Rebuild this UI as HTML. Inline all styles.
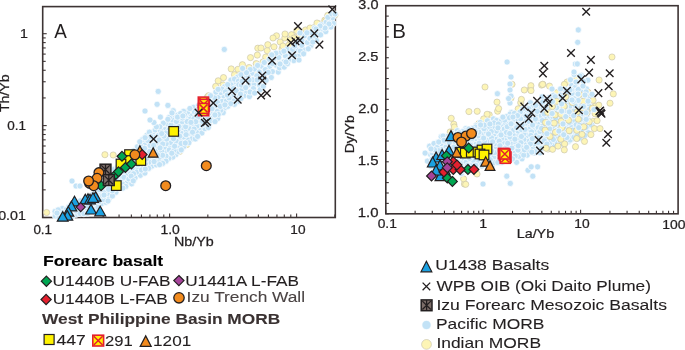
<!DOCTYPE html>
<html><head><meta charset="utf-8"><style>
html,body{margin:0;padding:0;background:#fff;overflow:hidden;width:685px;height:350px}
svg{display:block;will-change:transform}
text{font-family:"Liberation Sans", sans-serif}
</style></head><body>
<svg width="685" height="350" viewBox="0 0 685 350">
<rect x="42.70" y="6.60" width="292.60" height="210.90" fill="none" stroke="#3d3434" stroke-width="1.6"/>
<rect x="385.80" y="5.70" width="292.30" height="208.10" fill="none" stroke="#3d3434" stroke-width="1.6"/>
<line x1="42.70" y1="217.50" x2="46.70" y2="217.50" stroke="#3d3434" stroke-width="1.1"/>
<line x1="42.70" y1="189.84" x2="45.70" y2="189.84" stroke="#3d3434" stroke-width="1.1"/>
<line x1="42.70" y1="173.65" x2="45.70" y2="173.65" stroke="#3d3434" stroke-width="1.1"/>
<line x1="42.70" y1="162.17" x2="45.70" y2="162.17" stroke="#3d3434" stroke-width="1.1"/>
<line x1="42.70" y1="153.26" x2="45.70" y2="153.26" stroke="#3d3434" stroke-width="1.1"/>
<line x1="42.70" y1="145.99" x2="45.70" y2="145.99" stroke="#3d3434" stroke-width="1.1"/>
<line x1="42.70" y1="139.84" x2="45.70" y2="139.84" stroke="#3d3434" stroke-width="1.1"/>
<line x1="42.70" y1="134.51" x2="45.70" y2="134.51" stroke="#3d3434" stroke-width="1.1"/>
<line x1="42.70" y1="129.81" x2="45.70" y2="129.81" stroke="#3d3434" stroke-width="1.1"/>
<line x1="42.70" y1="125.60" x2="46.70" y2="125.60" stroke="#3d3434" stroke-width="1.1"/>
<line x1="42.70" y1="97.94" x2="45.70" y2="97.94" stroke="#3d3434" stroke-width="1.1"/>
<line x1="42.70" y1="81.75" x2="45.70" y2="81.75" stroke="#3d3434" stroke-width="1.1"/>
<line x1="42.70" y1="70.27" x2="45.70" y2="70.27" stroke="#3d3434" stroke-width="1.1"/>
<line x1="42.70" y1="61.36" x2="45.70" y2="61.36" stroke="#3d3434" stroke-width="1.1"/>
<line x1="42.70" y1="54.09" x2="45.70" y2="54.09" stroke="#3d3434" stroke-width="1.1"/>
<line x1="42.70" y1="47.94" x2="45.70" y2="47.94" stroke="#3d3434" stroke-width="1.1"/>
<line x1="42.70" y1="42.61" x2="45.70" y2="42.61" stroke="#3d3434" stroke-width="1.1"/>
<line x1="42.70" y1="37.91" x2="45.70" y2="37.91" stroke="#3d3434" stroke-width="1.1"/>
<line x1="42.70" y1="33.70" x2="46.70" y2="33.70" stroke="#3d3434" stroke-width="1.1"/>
<line x1="42.60" y1="217.50" x2="42.60" y2="213.50" stroke="#3d3434" stroke-width="1.1"/>
<line x1="80.83" y1="217.50" x2="80.83" y2="214.50" stroke="#3d3434" stroke-width="1.1"/>
<line x1="103.19" y1="217.50" x2="103.19" y2="214.50" stroke="#3d3434" stroke-width="1.1"/>
<line x1="119.06" y1="217.50" x2="119.06" y2="214.50" stroke="#3d3434" stroke-width="1.1"/>
<line x1="131.37" y1="217.50" x2="131.37" y2="214.50" stroke="#3d3434" stroke-width="1.1"/>
<line x1="141.43" y1="217.50" x2="141.43" y2="214.50" stroke="#3d3434" stroke-width="1.1"/>
<line x1="149.93" y1="217.50" x2="149.93" y2="214.50" stroke="#3d3434" stroke-width="1.1"/>
<line x1="157.29" y1="217.50" x2="157.29" y2="214.50" stroke="#3d3434" stroke-width="1.1"/>
<line x1="163.79" y1="217.50" x2="163.79" y2="214.50" stroke="#3d3434" stroke-width="1.1"/>
<line x1="169.60" y1="217.50" x2="169.60" y2="213.50" stroke="#3d3434" stroke-width="1.1"/>
<line x1="207.83" y1="217.50" x2="207.83" y2="214.50" stroke="#3d3434" stroke-width="1.1"/>
<line x1="230.19" y1="217.50" x2="230.19" y2="214.50" stroke="#3d3434" stroke-width="1.1"/>
<line x1="246.06" y1="217.50" x2="246.06" y2="214.50" stroke="#3d3434" stroke-width="1.1"/>
<line x1="258.37" y1="217.50" x2="258.37" y2="214.50" stroke="#3d3434" stroke-width="1.1"/>
<line x1="268.43" y1="217.50" x2="268.43" y2="214.50" stroke="#3d3434" stroke-width="1.1"/>
<line x1="276.93" y1="217.50" x2="276.93" y2="214.50" stroke="#3d3434" stroke-width="1.1"/>
<line x1="284.29" y1="217.50" x2="284.29" y2="214.50" stroke="#3d3434" stroke-width="1.1"/>
<line x1="290.79" y1="217.50" x2="290.79" y2="214.50" stroke="#3d3434" stroke-width="1.1"/>
<line x1="296.60" y1="217.50" x2="296.60" y2="213.50" stroke="#3d3434" stroke-width="1.1"/>
<line x1="334.83" y1="217.50" x2="334.83" y2="214.50" stroke="#3d3434" stroke-width="1.1"/>
<line x1="385.80" y1="213.80" x2="388.80" y2="213.80" stroke="#3d3434" stroke-width="1.1"/>
<line x1="385.80" y1="203.40" x2="388.80" y2="203.40" stroke="#3d3434" stroke-width="1.1"/>
<line x1="385.80" y1="192.99" x2="388.80" y2="192.99" stroke="#3d3434" stroke-width="1.1"/>
<line x1="385.80" y1="182.59" x2="388.80" y2="182.59" stroke="#3d3434" stroke-width="1.1"/>
<line x1="385.80" y1="172.18" x2="388.80" y2="172.18" stroke="#3d3434" stroke-width="1.1"/>
<line x1="385.80" y1="161.78" x2="388.80" y2="161.78" stroke="#3d3434" stroke-width="1.1"/>
<line x1="385.80" y1="151.37" x2="388.80" y2="151.37" stroke="#3d3434" stroke-width="1.1"/>
<line x1="385.80" y1="140.96" x2="388.80" y2="140.96" stroke="#3d3434" stroke-width="1.1"/>
<line x1="385.80" y1="130.56" x2="388.80" y2="130.56" stroke="#3d3434" stroke-width="1.1"/>
<line x1="385.80" y1="120.16" x2="388.80" y2="120.16" stroke="#3d3434" stroke-width="1.1"/>
<line x1="385.80" y1="109.75" x2="388.80" y2="109.75" stroke="#3d3434" stroke-width="1.1"/>
<line x1="385.80" y1="99.34" x2="388.80" y2="99.34" stroke="#3d3434" stroke-width="1.1"/>
<line x1="385.80" y1="88.94" x2="388.80" y2="88.94" stroke="#3d3434" stroke-width="1.1"/>
<line x1="385.80" y1="78.54" x2="388.80" y2="78.54" stroke="#3d3434" stroke-width="1.1"/>
<line x1="385.80" y1="68.13" x2="388.80" y2="68.13" stroke="#3d3434" stroke-width="1.1"/>
<line x1="385.80" y1="57.73" x2="388.80" y2="57.73" stroke="#3d3434" stroke-width="1.1"/>
<line x1="385.80" y1="47.32" x2="388.80" y2="47.32" stroke="#3d3434" stroke-width="1.1"/>
<line x1="385.80" y1="36.91" x2="388.80" y2="36.91" stroke="#3d3434" stroke-width="1.1"/>
<line x1="385.80" y1="26.51" x2="388.80" y2="26.51" stroke="#3d3434" stroke-width="1.1"/>
<line x1="385.80" y1="16.10" x2="388.80" y2="16.10" stroke="#3d3434" stroke-width="1.1"/>
<line x1="385.80" y1="5.70" x2="388.80" y2="5.70" stroke="#3d3434" stroke-width="1.1"/>
<line x1="385.80" y1="213.80" x2="385.80" y2="209.80" stroke="#3d3434" stroke-width="1.1"/>
<line x1="415.12" y1="213.80" x2="415.12" y2="210.80" stroke="#3d3434" stroke-width="1.1"/>
<line x1="432.27" y1="213.80" x2="432.27" y2="210.80" stroke="#3d3434" stroke-width="1.1"/>
<line x1="444.44" y1="213.80" x2="444.44" y2="210.80" stroke="#3d3434" stroke-width="1.1"/>
<line x1="453.88" y1="213.80" x2="453.88" y2="210.80" stroke="#3d3434" stroke-width="1.1"/>
<line x1="461.59" y1="213.80" x2="461.59" y2="210.80" stroke="#3d3434" stroke-width="1.1"/>
<line x1="468.11" y1="213.80" x2="468.11" y2="210.80" stroke="#3d3434" stroke-width="1.1"/>
<line x1="473.76" y1="213.80" x2="473.76" y2="210.80" stroke="#3d3434" stroke-width="1.1"/>
<line x1="478.74" y1="213.80" x2="478.74" y2="210.80" stroke="#3d3434" stroke-width="1.1"/>
<line x1="483.20" y1="213.80" x2="483.20" y2="209.80" stroke="#3d3434" stroke-width="1.1"/>
<line x1="512.52" y1="213.80" x2="512.52" y2="210.80" stroke="#3d3434" stroke-width="1.1"/>
<line x1="529.67" y1="213.80" x2="529.67" y2="210.80" stroke="#3d3434" stroke-width="1.1"/>
<line x1="541.84" y1="213.80" x2="541.84" y2="210.80" stroke="#3d3434" stroke-width="1.1"/>
<line x1="551.28" y1="213.80" x2="551.28" y2="210.80" stroke="#3d3434" stroke-width="1.1"/>
<line x1="558.99" y1="213.80" x2="558.99" y2="210.80" stroke="#3d3434" stroke-width="1.1"/>
<line x1="565.51" y1="213.80" x2="565.51" y2="210.80" stroke="#3d3434" stroke-width="1.1"/>
<line x1="571.16" y1="213.80" x2="571.16" y2="210.80" stroke="#3d3434" stroke-width="1.1"/>
<line x1="576.14" y1="213.80" x2="576.14" y2="210.80" stroke="#3d3434" stroke-width="1.1"/>
<line x1="580.60" y1="213.80" x2="580.60" y2="209.80" stroke="#3d3434" stroke-width="1.1"/>
<line x1="609.92" y1="213.80" x2="609.92" y2="210.80" stroke="#3d3434" stroke-width="1.1"/>
<line x1="627.07" y1="213.80" x2="627.07" y2="210.80" stroke="#3d3434" stroke-width="1.1"/>
<line x1="639.24" y1="213.80" x2="639.24" y2="210.80" stroke="#3d3434" stroke-width="1.1"/>
<line x1="648.68" y1="213.80" x2="648.68" y2="210.80" stroke="#3d3434" stroke-width="1.1"/>
<line x1="656.39" y1="213.80" x2="656.39" y2="210.80" stroke="#3d3434" stroke-width="1.1"/>
<line x1="662.91" y1="213.80" x2="662.91" y2="210.80" stroke="#3d3434" stroke-width="1.1"/>
<line x1="668.56" y1="213.80" x2="668.56" y2="210.80" stroke="#3d3434" stroke-width="1.1"/>
<line x1="673.54" y1="213.80" x2="673.54" y2="210.80" stroke="#3d3434" stroke-width="1.1"/>
<text transform="translate(19.96,37.50) scale(1.1000,1)" font-size="12.9" font-weight="normal" fill="#231f20" stroke="#231f20" stroke-width="0.25">1</text>
<text transform="translate(7.22,129.80) scale(1.0447,1)" font-size="12.9" font-weight="normal" fill="#231f20" stroke="#231f20" stroke-width="0.25">0.1</text>
<text transform="translate(-1.82,219.80) scale(1.1000,1)" font-size="12.9" font-weight="normal" fill="#231f20" stroke="#231f20" stroke-width="0.25">0.01</text>
<text transform="translate(33.38,233.90) scale(1.0417,1)" font-size="12.9" font-weight="normal" fill="#231f20" stroke="#231f20" stroke-width="0.25">0.1</text>
<text transform="translate(160.44,233.60) scale(1.0823,1)" font-size="12.9" font-weight="normal" fill="#231f20" stroke="#231f20" stroke-width="0.25">1.0</text>
<text transform="translate(290.36,233.80) scale(1.0574,1)" font-size="12.9" font-weight="normal" fill="#231f20" stroke="#231f20" stroke-width="0.25">10</text>
<text transform="translate(173.93,245.90) scale(1.1358,1)" font-size="12.6" font-weight="normal" fill="#231f20" stroke="#231f20" stroke-width="0.25">Nb/Yb</text>
<text transform="translate(9.30,112.12) rotate(-90) scale(1.1188,1)" font-size="12.6" fill="#231f20" stroke="#231f20" stroke-width="0.25">Th/Yb</text>
<text transform="translate(54.36,38.10) scale(0.9332,1)" font-size="20.2" font-weight="normal" fill="#231f20">A</text>
<text transform="translate(357.76,217.20) scale(1.1553,1)" font-size="12.9" font-weight="normal" fill="#231f20" stroke="#231f20" stroke-width="0.25">1.0</text>
<text transform="translate(357.76,165.18) scale(1.1579,1)" font-size="12.9" font-weight="normal" fill="#231f20" stroke="#231f20" stroke-width="0.25">1.5</text>
<text transform="translate(358.17,113.15) scale(1.1323,1)" font-size="12.9" font-weight="normal" fill="#231f20" stroke="#231f20" stroke-width="0.25">2.0</text>
<text transform="translate(358.16,61.13) scale(1.1349,1)" font-size="12.9" font-weight="normal" fill="#231f20" stroke="#231f20" stroke-width="0.25">2.5</text>
<text transform="translate(358.35,9.10) scale(1.1218,1)" font-size="12.9" font-weight="normal" fill="#231f20" stroke="#231f20" stroke-width="0.25">3.0</text>
<text transform="translate(377.66,228.00) scale(1.0715,1)" font-size="12.9" font-weight="normal" fill="#231f20" stroke="#231f20" stroke-width="0.25">0.1</text>
<text transform="translate(479.16,228.30) scale(1.1000,1)" font-size="12.9" font-weight="normal" fill="#231f20" stroke="#231f20" stroke-width="0.25">1</text>
<text transform="translate(574.25,228.40) scale(1.0729,1)" font-size="12.9" font-weight="normal" fill="#231f20" stroke="#231f20" stroke-width="0.25">10</text>
<text transform="translate(662.24,228.70) scale(1.0830,1)" font-size="12.9" font-weight="normal" fill="#231f20" stroke="#231f20" stroke-width="0.25">100</text>
<text transform="translate(516.73,237.90) scale(1.1350,1)" font-size="12.6" font-weight="normal" fill="#231f20" stroke="#231f20" stroke-width="0.25">La/Yb</text>
<text transform="translate(353.50,153.25) rotate(-90) scale(1.1115,1)" font-size="12.6" fill="#231f20" stroke="#231f20" stroke-width="0.25">Dy/Yb</text>
<text transform="translate(392.32,37.70) scale(1.0139,1)" font-size="20.2" font-weight="normal" fill="#231f20">B</text>
<circle cx="267.2" cy="50.6" r="3.1" fill="#fdf5b6" stroke="#c4c0aa" stroke-width="0.6"/>
<circle cx="324.8" cy="20.2" r="3.1" fill="#fdf5b6" stroke="#c4c0aa" stroke-width="0.6"/>
<circle cx="274.0" cy="46.8" r="3.1" fill="#fdf5b6" stroke="#c4c0aa" stroke-width="0.6"/>
<circle cx="234.5" cy="74.7" r="3.1" fill="#fdf5b6" stroke="#c4c0aa" stroke-width="0.6"/>
<circle cx="288.8" cy="45.1" r="3.1" fill="#fdf5b6" stroke="#c4c0aa" stroke-width="0.6"/>
<circle cx="223.5" cy="77.6" r="3.1" fill="#fdf5b6" stroke="#c4c0aa" stroke-width="0.6"/>
<circle cx="223.1" cy="84.9" r="3.1" fill="#fdf5b6" stroke="#c4c0aa" stroke-width="0.6"/>
<circle cx="296.6" cy="30.6" r="3.1" fill="#fdf5b6" stroke="#c4c0aa" stroke-width="0.6"/>
<circle cx="331.8" cy="20.8" r="3.1" fill="#fdf5b6" stroke="#c4c0aa" stroke-width="0.6"/>
<circle cx="231.2" cy="68.9" r="3.1" fill="#fdf5b6" stroke="#c4c0aa" stroke-width="0.6"/>
<circle cx="276.5" cy="35.8" r="3.1" fill="#fdf5b6" stroke="#c4c0aa" stroke-width="0.6"/>
<circle cx="215.7" cy="86.4" r="3.1" fill="#fdf5b6" stroke="#c4c0aa" stroke-width="0.6"/>
<circle cx="265.7" cy="57.1" r="3.1" fill="#fdf5b6" stroke="#c4c0aa" stroke-width="0.6"/>
<circle cx="267.8" cy="44.7" r="3.1" fill="#fdf5b6" stroke="#c4c0aa" stroke-width="0.6"/>
<circle cx="314.5" cy="27.4" r="3.1" fill="#fdf5b6" stroke="#c4c0aa" stroke-width="0.6"/>
<circle cx="250.5" cy="57.6" r="3.1" fill="#fdf5b6" stroke="#c4c0aa" stroke-width="0.6"/>
<circle cx="305.5" cy="30.0" r="3.1" fill="#fdf5b6" stroke="#c4c0aa" stroke-width="0.6"/>
<circle cx="280.2" cy="42.0" r="3.1" fill="#fdf5b6" stroke="#c4c0aa" stroke-width="0.6"/>
<circle cx="238.0" cy="69.3" r="3.1" fill="#fdf5b6" stroke="#c4c0aa" stroke-width="0.6"/>
<circle cx="249.1" cy="67.5" r="3.1" fill="#fdf5b6" stroke="#c4c0aa" stroke-width="0.6"/>
<circle cx="257.3" cy="55.1" r="3.1" fill="#fdf5b6" stroke="#c4c0aa" stroke-width="0.6"/>
<circle cx="282.1" cy="48.8" r="3.1" fill="#fdf5b6" stroke="#c4c0aa" stroke-width="0.6"/>
<circle cx="242.4" cy="64.7" r="3.1" fill="#fdf5b6" stroke="#c4c0aa" stroke-width="0.6"/>
<circle cx="302.2" cy="37.6" r="3.1" fill="#fdf5b6" stroke="#c4c0aa" stroke-width="0.6"/>
<circle cx="236.0" cy="80.8" r="3.1" fill="#fdf5b6" stroke="#c4c0aa" stroke-width="0.6"/>
<circle cx="319.6" cy="24.0" r="3.1" fill="#fdf5b6" stroke="#c4c0aa" stroke-width="0.6"/>
<circle cx="216.7" cy="91.9" r="3.1" fill="#fdf5b6" stroke="#c4c0aa" stroke-width="0.6"/>
<circle cx="241.1" cy="74.1" r="3.1" fill="#fdf5b6" stroke="#c4c0aa" stroke-width="0.6"/>
<circle cx="284.8" cy="38.0" r="3.1" fill="#fdf5b6" stroke="#c4c0aa" stroke-width="0.6"/>
<circle cx="256.2" cy="63.6" r="3.1" fill="#fdf5b6" stroke="#c4c0aa" stroke-width="0.6"/>
<circle cx="296.3" cy="37.6" r="3.1" fill="#fdf5b6" stroke="#c4c0aa" stroke-width="0.6"/>
<circle cx="291.5" cy="34.7" r="3.1" fill="#fdf5b6" stroke="#c4c0aa" stroke-width="0.6"/>
<circle cx="327.8" cy="15.3" r="3.1" fill="#fdf5b6" stroke="#c4c0aa" stroke-width="0.6"/>
<circle cx="218.2" cy="80.8" r="3.1" fill="#fdf5b6" stroke="#c4c0aa" stroke-width="0.6"/>
<circle cx="257.8" cy="48.2" r="3.1" fill="#fdf5b6" stroke="#c4c0aa" stroke-width="0.6"/>
<circle cx="147.0" cy="136.0" r="3.1" fill="#fdf5b6" stroke="#c4c0aa" stroke-width="0.6"/>
<circle cx="184.0" cy="113.7" r="3.1" fill="#fdf5b6" stroke="#c4c0aa" stroke-width="0.6"/>
<circle cx="186.8" cy="144.5" r="3.1" fill="#fdf5b6" stroke="#c4c0aa" stroke-width="0.6"/>
<circle cx="207.4" cy="97.0" r="3.1" fill="#fdf5b6" stroke="#c4c0aa" stroke-width="0.6"/>
<circle cx="46.6" cy="212.5" r="3.1" fill="#fdf5b6" stroke="#c4c0aa" stroke-width="0.6"/>
<circle cx="104.9" cy="154.7" r="3.1" fill="#fdf5b6" stroke="#c4c0aa" stroke-width="0.6"/>
<circle cx="113.2" cy="155.0" r="3.1" fill="#fdf5b6" stroke="#c4c0aa" stroke-width="0.6"/>
<circle cx="188.2" cy="111.8" r="3.1" fill="#fdf5b6" stroke="#c4c0aa" stroke-width="0.6"/>
<circle cx="208.6" cy="95.7" r="3.1" fill="#fdf5b6" stroke="#c4c0aa" stroke-width="0.6"/>
<circle cx="148.6" cy="136.4" r="3.1" fill="#fdf5b6" stroke="#c4c0aa" stroke-width="0.6"/>
<circle cx="179.6" cy="151.4" r="3.1" fill="#fdf5b6" stroke="#c4c0aa" stroke-width="0.6"/>
<circle cx="261.0" cy="48.0" r="3.1" fill="#fdf5b6" stroke="#c4c0aa" stroke-width="0.6"/>
<circle cx="263.0" cy="62.0" r="3.1" fill="#fdf5b6" stroke="#c4c0aa" stroke-width="0.6"/>
<circle cx="256.0" cy="71.0" r="3.1" fill="#fdf5b6" stroke="#c4c0aa" stroke-width="0.6"/>
<circle cx="285.0" cy="34.0" r="3.1" fill="#fdf5b6" stroke="#c4c0aa" stroke-width="0.6"/>
<circle cx="273.0" cy="38.0" r="3.1" fill="#fdf5b6" stroke="#c4c0aa" stroke-width="0.6"/>
<circle cx="335.0" cy="15.0" r="3.1" fill="#fdf5b6" stroke="#c4c0aa" stroke-width="0.6"/>
<circle cx="331.0" cy="19.0" r="3.1" fill="#fdf5b6" stroke="#c4c0aa" stroke-width="0.6"/>
<circle cx="326.0" cy="21.0" r="3.1" fill="#fdf5b6" stroke="#c4c0aa" stroke-width="0.6"/>
<circle cx="317.0" cy="23.0" r="3.1" fill="#fdf5b6" stroke="#c4c0aa" stroke-width="0.6"/>
<circle cx="310.0" cy="28.0" r="3.1" fill="#fdf5b6" stroke="#c4c0aa" stroke-width="0.6"/>
<circle cx="306.0" cy="33.0" r="3.1" fill="#fdf5b6" stroke="#c4c0aa" stroke-width="0.6"/>
<circle cx="294.0" cy="38.0" r="3.1" fill="#fdf5b6" stroke="#c4c0aa" stroke-width="0.6"/>
<circle cx="290.0" cy="40.0" r="3.1" fill="#fdf5b6" stroke="#c4c0aa" stroke-width="0.6"/>
<circle cx="283.0" cy="46.0" r="3.1" fill="#fdf5b6" stroke="#c4c0aa" stroke-width="0.6"/>
<circle cx="101.4" cy="203.8" r="3.1" fill="#c2e2f6" stroke="#fff" stroke-width="0.7"/>
<circle cx="156.8" cy="146.4" r="3.1" fill="#c2e2f6" stroke="#fff" stroke-width="0.7"/>
<circle cx="233.9" cy="93.7" r="3.1" fill="#c2e2f6" stroke="#fff" stroke-width="0.7"/>
<circle cx="239.1" cy="92.7" r="3.1" fill="#c2e2f6" stroke="#fff" stroke-width="0.7"/>
<circle cx="204.8" cy="101.0" r="3.1" fill="#c2e2f6" stroke="#fff" stroke-width="0.7"/>
<circle cx="165.5" cy="151.9" r="3.1" fill="#c2e2f6" stroke="#fff" stroke-width="0.7"/>
<circle cx="63.3" cy="216.3" r="3.1" fill="#c2e2f6" stroke="#fff" stroke-width="0.7"/>
<circle cx="84.6" cy="205.8" r="3.1" fill="#c2e2f6" stroke="#fff" stroke-width="0.7"/>
<circle cx="168.1" cy="120.5" r="3.1" fill="#c2e2f6" stroke="#fff" stroke-width="0.7"/>
<circle cx="229.9" cy="92.3" r="3.1" fill="#c2e2f6" stroke="#fff" stroke-width="0.7"/>
<circle cx="152.5" cy="152.5" r="3.1" fill="#c2e2f6" stroke="#fff" stroke-width="0.7"/>
<circle cx="122.6" cy="167.0" r="3.1" fill="#c2e2f6" stroke="#fff" stroke-width="0.7"/>
<circle cx="176.2" cy="136.9" r="3.1" fill="#c2e2f6" stroke="#fff" stroke-width="0.7"/>
<circle cx="107.5" cy="194.1" r="3.1" fill="#c2e2f6" stroke="#fff" stroke-width="0.7"/>
<circle cx="109.8" cy="173.8" r="3.1" fill="#c2e2f6" stroke="#fff" stroke-width="0.7"/>
<circle cx="100.3" cy="186.5" r="3.1" fill="#c2e2f6" stroke="#fff" stroke-width="0.7"/>
<circle cx="84.0" cy="210.4" r="3.1" fill="#c2e2f6" stroke="#fff" stroke-width="0.7"/>
<circle cx="127.1" cy="182.9" r="3.1" fill="#c2e2f6" stroke="#fff" stroke-width="0.7"/>
<circle cx="193.4" cy="107.4" r="3.1" fill="#c2e2f6" stroke="#fff" stroke-width="0.7"/>
<circle cx="237.9" cy="101.5" r="3.1" fill="#c2e2f6" stroke="#fff" stroke-width="0.7"/>
<circle cx="68.6" cy="215.9" r="3.1" fill="#c2e2f6" stroke="#fff" stroke-width="0.7"/>
<circle cx="134.5" cy="163.8" r="3.1" fill="#c2e2f6" stroke="#fff" stroke-width="0.7"/>
<circle cx="235.0" cy="84.2" r="3.1" fill="#c2e2f6" stroke="#fff" stroke-width="0.7"/>
<circle cx="151.8" cy="166.2" r="3.1" fill="#c2e2f6" stroke="#fff" stroke-width="0.7"/>
<circle cx="188.7" cy="125.2" r="3.1" fill="#c2e2f6" stroke="#fff" stroke-width="0.7"/>
<circle cx="166.7" cy="123.9" r="3.1" fill="#c2e2f6" stroke="#fff" stroke-width="0.7"/>
<circle cx="170.5" cy="136.1" r="3.1" fill="#c2e2f6" stroke="#fff" stroke-width="0.7"/>
<circle cx="92.7" cy="194.3" r="3.1" fill="#c2e2f6" stroke="#fff" stroke-width="0.7"/>
<circle cx="152.7" cy="133.7" r="3.1" fill="#c2e2f6" stroke="#fff" stroke-width="0.7"/>
<circle cx="136.9" cy="168.0" r="3.1" fill="#c2e2f6" stroke="#fff" stroke-width="0.7"/>
<circle cx="139.3" cy="151.3" r="3.1" fill="#c2e2f6" stroke="#fff" stroke-width="0.7"/>
<circle cx="162.7" cy="139.2" r="3.1" fill="#c2e2f6" stroke="#fff" stroke-width="0.7"/>
<circle cx="198.9" cy="120.5" r="3.1" fill="#c2e2f6" stroke="#fff" stroke-width="0.7"/>
<circle cx="190.8" cy="115.5" r="3.1" fill="#c2e2f6" stroke="#fff" stroke-width="0.7"/>
<circle cx="76.1" cy="214.3" r="3.1" fill="#c2e2f6" stroke="#fff" stroke-width="0.7"/>
<circle cx="181.7" cy="133.4" r="3.1" fill="#c2e2f6" stroke="#fff" stroke-width="0.7"/>
<circle cx="164.5" cy="147.2" r="3.1" fill="#c2e2f6" stroke="#fff" stroke-width="0.7"/>
<circle cx="194.4" cy="111.9" r="3.1" fill="#c2e2f6" stroke="#fff" stroke-width="0.7"/>
<circle cx="224.4" cy="108.3" r="3.1" fill="#c2e2f6" stroke="#fff" stroke-width="0.7"/>
<circle cx="62.3" cy="208.6" r="3.1" fill="#c2e2f6" stroke="#fff" stroke-width="0.7"/>
<circle cx="105.1" cy="189.4" r="3.1" fill="#c2e2f6" stroke="#fff" stroke-width="0.7"/>
<circle cx="155.2" cy="129.9" r="3.1" fill="#c2e2f6" stroke="#fff" stroke-width="0.7"/>
<circle cx="71.0" cy="212.8" r="3.1" fill="#c2e2f6" stroke="#fff" stroke-width="0.7"/>
<circle cx="156.9" cy="151.3" r="3.1" fill="#c2e2f6" stroke="#fff" stroke-width="0.7"/>
<circle cx="124.0" cy="171.7" r="3.1" fill="#c2e2f6" stroke="#fff" stroke-width="0.7"/>
<circle cx="94.0" cy="198.4" r="3.1" fill="#c2e2f6" stroke="#fff" stroke-width="0.7"/>
<circle cx="192.8" cy="135.7" r="3.1" fill="#c2e2f6" stroke="#fff" stroke-width="0.7"/>
<circle cx="68.8" cy="206.9" r="3.1" fill="#c2e2f6" stroke="#fff" stroke-width="0.7"/>
<circle cx="204.7" cy="119.0" r="3.1" fill="#c2e2f6" stroke="#fff" stroke-width="0.7"/>
<circle cx="133.5" cy="157.2" r="3.1" fill="#c2e2f6" stroke="#fff" stroke-width="0.7"/>
<circle cx="204.8" cy="110.5" r="3.1" fill="#c2e2f6" stroke="#fff" stroke-width="0.7"/>
<circle cx="175.9" cy="154.6" r="3.1" fill="#c2e2f6" stroke="#fff" stroke-width="0.7"/>
<circle cx="115.2" cy="182.2" r="3.1" fill="#c2e2f6" stroke="#fff" stroke-width="0.7"/>
<circle cx="159.4" cy="144.0" r="3.1" fill="#c2e2f6" stroke="#fff" stroke-width="0.7"/>
<circle cx="181.8" cy="122.9" r="3.1" fill="#c2e2f6" stroke="#fff" stroke-width="0.7"/>
<circle cx="198.5" cy="105.5" r="3.1" fill="#c2e2f6" stroke="#fff" stroke-width="0.7"/>
<circle cx="94.5" cy="204.0" r="3.1" fill="#c2e2f6" stroke="#fff" stroke-width="0.7"/>
<circle cx="189.1" cy="133.2" r="3.1" fill="#c2e2f6" stroke="#fff" stroke-width="0.7"/>
<circle cx="107.3" cy="180.1" r="3.1" fill="#c2e2f6" stroke="#fff" stroke-width="0.7"/>
<circle cx="121.2" cy="181.5" r="3.1" fill="#c2e2f6" stroke="#fff" stroke-width="0.7"/>
<circle cx="122.8" cy="161.8" r="3.1" fill="#c2e2f6" stroke="#fff" stroke-width="0.7"/>
<circle cx="186.2" cy="130.6" r="3.1" fill="#c2e2f6" stroke="#fff" stroke-width="0.7"/>
<circle cx="224.0" cy="96.7" r="3.1" fill="#c2e2f6" stroke="#fff" stroke-width="0.7"/>
<circle cx="227.9" cy="106.3" r="3.1" fill="#c2e2f6" stroke="#fff" stroke-width="0.7"/>
<circle cx="100.9" cy="192.6" r="3.1" fill="#c2e2f6" stroke="#fff" stroke-width="0.7"/>
<circle cx="128.2" cy="165.9" r="3.1" fill="#c2e2f6" stroke="#fff" stroke-width="0.7"/>
<circle cx="91.1" cy="204.8" r="3.1" fill="#c2e2f6" stroke="#fff" stroke-width="0.7"/>
<circle cx="209.7" cy="113.0" r="3.1" fill="#c2e2f6" stroke="#fff" stroke-width="0.7"/>
<circle cx="87.7" cy="209.5" r="3.1" fill="#c2e2f6" stroke="#fff" stroke-width="0.7"/>
<circle cx="218.0" cy="97.3" r="3.1" fill="#c2e2f6" stroke="#fff" stroke-width="0.7"/>
<circle cx="59.1" cy="213.3" r="3.1" fill="#c2e2f6" stroke="#fff" stroke-width="0.7"/>
<circle cx="156.2" cy="158.0" r="3.1" fill="#c2e2f6" stroke="#fff" stroke-width="0.7"/>
<circle cx="191.4" cy="139.0" r="3.1" fill="#c2e2f6" stroke="#fff" stroke-width="0.7"/>
<circle cx="175.1" cy="124.6" r="3.1" fill="#c2e2f6" stroke="#fff" stroke-width="0.7"/>
<circle cx="151.5" cy="159.6" r="3.1" fill="#c2e2f6" stroke="#fff" stroke-width="0.7"/>
<circle cx="146.3" cy="154.9" r="3.1" fill="#c2e2f6" stroke="#fff" stroke-width="0.7"/>
<circle cx="207.9" cy="117.9" r="3.1" fill="#c2e2f6" stroke="#fff" stroke-width="0.7"/>
<circle cx="212.9" cy="117.9" r="3.1" fill="#c2e2f6" stroke="#fff" stroke-width="0.7"/>
<circle cx="209.3" cy="123.9" r="3.1" fill="#c2e2f6" stroke="#fff" stroke-width="0.7"/>
<circle cx="232.2" cy="96.7" r="3.1" fill="#c2e2f6" stroke="#fff" stroke-width="0.7"/>
<circle cx="109.0" cy="199.1" r="3.1" fill="#c2e2f6" stroke="#fff" stroke-width="0.7"/>
<circle cx="66.0" cy="209.8" r="3.1" fill="#c2e2f6" stroke="#fff" stroke-width="0.7"/>
<circle cx="76.2" cy="211.0" r="3.1" fill="#c2e2f6" stroke="#fff" stroke-width="0.7"/>
<circle cx="198.5" cy="109.0" r="3.1" fill="#c2e2f6" stroke="#fff" stroke-width="0.7"/>
<circle cx="163.1" cy="159.5" r="3.1" fill="#c2e2f6" stroke="#fff" stroke-width="0.7"/>
<circle cx="89.1" cy="200.0" r="3.1" fill="#c2e2f6" stroke="#fff" stroke-width="0.7"/>
<circle cx="98.6" cy="202.1" r="3.1" fill="#c2e2f6" stroke="#fff" stroke-width="0.7"/>
<circle cx="165.0" cy="129.6" r="3.1" fill="#c2e2f6" stroke="#fff" stroke-width="0.7"/>
<circle cx="112.7" cy="184.7" r="3.1" fill="#c2e2f6" stroke="#fff" stroke-width="0.7"/>
<circle cx="156.3" cy="164.8" r="3.1" fill="#c2e2f6" stroke="#fff" stroke-width="0.7"/>
<circle cx="144.3" cy="144.9" r="3.1" fill="#c2e2f6" stroke="#fff" stroke-width="0.7"/>
<circle cx="152.6" cy="149.2" r="3.1" fill="#c2e2f6" stroke="#fff" stroke-width="0.7"/>
<circle cx="105.8" cy="202.2" r="3.1" fill="#c2e2f6" stroke="#fff" stroke-width="0.7"/>
<circle cx="84.1" cy="201.1" r="3.1" fill="#c2e2f6" stroke="#fff" stroke-width="0.7"/>
<circle cx="114.5" cy="174.7" r="3.1" fill="#c2e2f6" stroke="#fff" stroke-width="0.7"/>
<circle cx="215.8" cy="106.2" r="3.1" fill="#c2e2f6" stroke="#fff" stroke-width="0.7"/>
<circle cx="172.8" cy="157.1" r="3.1" fill="#c2e2f6" stroke="#fff" stroke-width="0.7"/>
<circle cx="104.3" cy="192.8" r="3.1" fill="#c2e2f6" stroke="#fff" stroke-width="0.7"/>
<circle cx="55.3" cy="215.9" r="3.1" fill="#c2e2f6" stroke="#fff" stroke-width="0.7"/>
<circle cx="187.6" cy="112.1" r="3.1" fill="#c2e2f6" stroke="#fff" stroke-width="0.7"/>
<circle cx="213.6" cy="101.6" r="3.1" fill="#c2e2f6" stroke="#fff" stroke-width="0.7"/>
<circle cx="201.0" cy="115.1" r="3.1" fill="#c2e2f6" stroke="#fff" stroke-width="0.7"/>
<circle cx="224.6" cy="86.8" r="3.1" fill="#c2e2f6" stroke="#fff" stroke-width="0.7"/>
<circle cx="207.9" cy="103.0" r="3.1" fill="#c2e2f6" stroke="#fff" stroke-width="0.7"/>
<circle cx="112.6" cy="178.3" r="3.1" fill="#c2e2f6" stroke="#fff" stroke-width="0.7"/>
<circle cx="141.4" cy="165.4" r="3.1" fill="#c2e2f6" stroke="#fff" stroke-width="0.7"/>
<circle cx="74.6" cy="208.1" r="3.1" fill="#c2e2f6" stroke="#fff" stroke-width="0.7"/>
<circle cx="140.4" cy="175.3" r="3.1" fill="#c2e2f6" stroke="#fff" stroke-width="0.7"/>
<circle cx="186.4" cy="118.0" r="3.1" fill="#c2e2f6" stroke="#fff" stroke-width="0.7"/>
<circle cx="202.9" cy="106.6" r="3.1" fill="#c2e2f6" stroke="#fff" stroke-width="0.7"/>
<circle cx="169.0" cy="129.9" r="3.1" fill="#c2e2f6" stroke="#fff" stroke-width="0.7"/>
<circle cx="127.6" cy="175.3" r="3.1" fill="#c2e2f6" stroke="#fff" stroke-width="0.7"/>
<circle cx="190.3" cy="119.1" r="3.1" fill="#c2e2f6" stroke="#fff" stroke-width="0.7"/>
<circle cx="208.0" cy="99.2" r="3.1" fill="#c2e2f6" stroke="#fff" stroke-width="0.7"/>
<circle cx="180.4" cy="140.1" r="3.1" fill="#c2e2f6" stroke="#fff" stroke-width="0.7"/>
<circle cx="130.3" cy="154.0" r="3.1" fill="#c2e2f6" stroke="#fff" stroke-width="0.7"/>
<circle cx="149.6" cy="156.3" r="3.1" fill="#c2e2f6" stroke="#fff" stroke-width="0.7"/>
<circle cx="196.9" cy="132.0" r="3.1" fill="#c2e2f6" stroke="#fff" stroke-width="0.7"/>
<circle cx="236.7" cy="98.0" r="3.1" fill="#c2e2f6" stroke="#fff" stroke-width="0.7"/>
<circle cx="149.2" cy="162.1" r="3.1" fill="#c2e2f6" stroke="#fff" stroke-width="0.7"/>
<circle cx="222.1" cy="101.5" r="3.1" fill="#c2e2f6" stroke="#fff" stroke-width="0.7"/>
<circle cx="120.2" cy="175.8" r="3.1" fill="#c2e2f6" stroke="#fff" stroke-width="0.7"/>
<circle cx="187.3" cy="139.8" r="3.1" fill="#c2e2f6" stroke="#fff" stroke-width="0.7"/>
<circle cx="91.5" cy="211.1" r="3.1" fill="#c2e2f6" stroke="#fff" stroke-width="0.7"/>
<circle cx="171.0" cy="124.9" r="3.1" fill="#c2e2f6" stroke="#fff" stroke-width="0.7"/>
<circle cx="161.7" cy="151.4" r="3.1" fill="#c2e2f6" stroke="#fff" stroke-width="0.7"/>
<circle cx="115.9" cy="192.3" r="3.1" fill="#c2e2f6" stroke="#fff" stroke-width="0.7"/>
<circle cx="80.1" cy="213.6" r="3.1" fill="#c2e2f6" stroke="#fff" stroke-width="0.7"/>
<circle cx="158.7" cy="135.4" r="3.1" fill="#c2e2f6" stroke="#fff" stroke-width="0.7"/>
<circle cx="223.2" cy="112.7" r="3.1" fill="#c2e2f6" stroke="#fff" stroke-width="0.7"/>
<circle cx="99.6" cy="198.4" r="3.1" fill="#c2e2f6" stroke="#fff" stroke-width="0.7"/>
<circle cx="160.4" cy="130.5" r="3.1" fill="#c2e2f6" stroke="#fff" stroke-width="0.7"/>
<circle cx="151.2" cy="140.2" r="3.1" fill="#c2e2f6" stroke="#fff" stroke-width="0.7"/>
<circle cx="173.7" cy="116.7" r="3.1" fill="#c2e2f6" stroke="#fff" stroke-width="0.7"/>
<circle cx="179.1" cy="118.3" r="3.1" fill="#c2e2f6" stroke="#fff" stroke-width="0.7"/>
<circle cx="141.9" cy="154.0" r="3.1" fill="#c2e2f6" stroke="#fff" stroke-width="0.7"/>
<circle cx="170.4" cy="146.0" r="3.1" fill="#c2e2f6" stroke="#fff" stroke-width="0.7"/>
<circle cx="144.9" cy="173.1" r="3.1" fill="#c2e2f6" stroke="#fff" stroke-width="0.7"/>
<circle cx="159.7" cy="161.0" r="3.1" fill="#c2e2f6" stroke="#fff" stroke-width="0.7"/>
<circle cx="135.0" cy="178.1" r="3.1" fill="#c2e2f6" stroke="#fff" stroke-width="0.7"/>
<circle cx="114.3" cy="169.2" r="3.1" fill="#c2e2f6" stroke="#fff" stroke-width="0.7"/>
<circle cx="190.4" cy="128.8" r="3.1" fill="#c2e2f6" stroke="#fff" stroke-width="0.7"/>
<circle cx="78.0" cy="207.6" r="3.1" fill="#c2e2f6" stroke="#fff" stroke-width="0.7"/>
<circle cx="148.0" cy="148.1" r="3.1" fill="#c2e2f6" stroke="#fff" stroke-width="0.7"/>
<circle cx="178.2" cy="148.0" r="3.1" fill="#c2e2f6" stroke="#fff" stroke-width="0.7"/>
<circle cx="230.9" cy="80.2" r="3.1" fill="#c2e2f6" stroke="#fff" stroke-width="0.7"/>
<circle cx="220.6" cy="110.4" r="3.1" fill="#c2e2f6" stroke="#fff" stroke-width="0.7"/>
<circle cx="163.3" cy="123.2" r="3.1" fill="#c2e2f6" stroke="#fff" stroke-width="0.7"/>
<circle cx="220.9" cy="92.5" r="3.1" fill="#c2e2f6" stroke="#fff" stroke-width="0.7"/>
<circle cx="210.0" cy="106.1" r="3.1" fill="#c2e2f6" stroke="#fff" stroke-width="0.7"/>
<circle cx="217.7" cy="118.6" r="3.1" fill="#c2e2f6" stroke="#fff" stroke-width="0.7"/>
<circle cx="183.8" cy="146.5" r="3.1" fill="#c2e2f6" stroke="#fff" stroke-width="0.7"/>
<circle cx="137.4" cy="146.8" r="3.1" fill="#c2e2f6" stroke="#fff" stroke-width="0.7"/>
<circle cx="96.3" cy="195.7" r="3.1" fill="#c2e2f6" stroke="#fff" stroke-width="0.7"/>
<circle cx="123.9" cy="177.3" r="3.1" fill="#c2e2f6" stroke="#fff" stroke-width="0.7"/>
<circle cx="226.4" cy="101.1" r="3.1" fill="#c2e2f6" stroke="#fff" stroke-width="0.7"/>
<circle cx="237.7" cy="77.0" r="3.1" fill="#c2e2f6" stroke="#fff" stroke-width="0.7"/>
<circle cx="147.5" cy="140.3" r="3.1" fill="#c2e2f6" stroke="#fff" stroke-width="0.7"/>
<circle cx="231.0" cy="84.9" r="3.1" fill="#c2e2f6" stroke="#fff" stroke-width="0.7"/>
<circle cx="136.5" cy="172.1" r="3.1" fill="#c2e2f6" stroke="#fff" stroke-width="0.7"/>
<circle cx="200.5" cy="128.0" r="3.1" fill="#c2e2f6" stroke="#fff" stroke-width="0.7"/>
<circle cx="147.3" cy="135.0" r="3.1" fill="#c2e2f6" stroke="#fff" stroke-width="0.7"/>
<circle cx="103.6" cy="199.5" r="3.1" fill="#c2e2f6" stroke="#fff" stroke-width="0.7"/>
<circle cx="169.9" cy="139.4" r="3.1" fill="#c2e2f6" stroke="#fff" stroke-width="0.7"/>
<circle cx="234.5" cy="79.1" r="3.1" fill="#c2e2f6" stroke="#fff" stroke-width="0.7"/>
<circle cx="145.6" cy="163.9" r="3.1" fill="#c2e2f6" stroke="#fff" stroke-width="0.7"/>
<circle cx="133.5" cy="150.9" r="3.1" fill="#c2e2f6" stroke="#fff" stroke-width="0.7"/>
<circle cx="214.6" cy="97.7" r="3.1" fill="#c2e2f6" stroke="#fff" stroke-width="0.7"/>
<circle cx="125.8" cy="157.7" r="3.1" fill="#c2e2f6" stroke="#fff" stroke-width="0.7"/>
<circle cx="115.2" cy="188.5" r="3.1" fill="#c2e2f6" stroke="#fff" stroke-width="0.7"/>
<circle cx="127.9" cy="161.3" r="3.1" fill="#c2e2f6" stroke="#fff" stroke-width="0.7"/>
<circle cx="109.0" cy="183.2" r="3.1" fill="#c2e2f6" stroke="#fff" stroke-width="0.7"/>
<circle cx="159.7" cy="157.1" r="3.1" fill="#c2e2f6" stroke="#fff" stroke-width="0.7"/>
<circle cx="178.3" cy="151.4" r="3.1" fill="#c2e2f6" stroke="#fff" stroke-width="0.7"/>
<circle cx="172.0" cy="119.8" r="3.1" fill="#c2e2f6" stroke="#fff" stroke-width="0.7"/>
<circle cx="168.8" cy="158.4" r="3.1" fill="#c2e2f6" stroke="#fff" stroke-width="0.7"/>
<circle cx="171.1" cy="142.7" r="3.1" fill="#c2e2f6" stroke="#fff" stroke-width="0.7"/>
<circle cx="146.3" cy="159.1" r="3.1" fill="#c2e2f6" stroke="#fff" stroke-width="0.7"/>
<circle cx="119.1" cy="188.1" r="3.1" fill="#c2e2f6" stroke="#fff" stroke-width="0.7"/>
<circle cx="183.6" cy="136.9" r="3.1" fill="#c2e2f6" stroke="#fff" stroke-width="0.7"/>
<circle cx="233.3" cy="101.0" r="3.1" fill="#c2e2f6" stroke="#fff" stroke-width="0.7"/>
<circle cx="193.6" cy="124.4" r="3.1" fill="#c2e2f6" stroke="#fff" stroke-width="0.7"/>
<circle cx="215.9" cy="92.1" r="3.1" fill="#c2e2f6" stroke="#fff" stroke-width="0.7"/>
<circle cx="210.9" cy="120.6" r="3.1" fill="#c2e2f6" stroke="#fff" stroke-width="0.7"/>
<circle cx="89.2" cy="196.6" r="3.1" fill="#c2e2f6" stroke="#fff" stroke-width="0.7"/>
<circle cx="182.2" cy="127.4" r="3.1" fill="#c2e2f6" stroke="#fff" stroke-width="0.7"/>
<circle cx="171.8" cy="132.8" r="3.1" fill="#c2e2f6" stroke="#fff" stroke-width="0.7"/>
<circle cx="76.9" cy="202.5" r="3.1" fill="#c2e2f6" stroke="#fff" stroke-width="0.7"/>
<circle cx="169.3" cy="150.0" r="3.1" fill="#c2e2f6" stroke="#fff" stroke-width="0.7"/>
<circle cx="236.5" cy="87.3" r="3.1" fill="#c2e2f6" stroke="#fff" stroke-width="0.7"/>
<circle cx="227.7" cy="89.1" r="3.1" fill="#c2e2f6" stroke="#fff" stroke-width="0.7"/>
<circle cx="144.6" cy="151.8" r="3.1" fill="#c2e2f6" stroke="#fff" stroke-width="0.7"/>
<circle cx="215.0" cy="121.6" r="3.1" fill="#c2e2f6" stroke="#fff" stroke-width="0.7"/>
<circle cx="128.9" cy="179.0" r="3.1" fill="#c2e2f6" stroke="#fff" stroke-width="0.7"/>
<circle cx="74.6" cy="204.8" r="3.1" fill="#c2e2f6" stroke="#fff" stroke-width="0.7"/>
<circle cx="213.4" cy="111.8" r="3.1" fill="#c2e2f6" stroke="#fff" stroke-width="0.7"/>
<circle cx="178.1" cy="129.9" r="3.1" fill="#c2e2f6" stroke="#fff" stroke-width="0.7"/>
<circle cx="166.1" cy="143.7" r="3.1" fill="#c2e2f6" stroke="#fff" stroke-width="0.7"/>
<circle cx="139.0" cy="161.3" r="3.1" fill="#c2e2f6" stroke="#fff" stroke-width="0.7"/>
<circle cx="217.2" cy="111.3" r="3.1" fill="#c2e2f6" stroke="#fff" stroke-width="0.7"/>
<circle cx="117.8" cy="172.9" r="3.1" fill="#c2e2f6" stroke="#fff" stroke-width="0.7"/>
<circle cx="229.1" cy="97.9" r="3.1" fill="#c2e2f6" stroke="#fff" stroke-width="0.7"/>
<circle cx="148.7" cy="168.4" r="3.1" fill="#c2e2f6" stroke="#fff" stroke-width="0.7"/>
<circle cx="132.8" cy="160.8" r="3.1" fill="#c2e2f6" stroke="#fff" stroke-width="0.7"/>
<circle cx="178.8" cy="126.5" r="3.1" fill="#c2e2f6" stroke="#fff" stroke-width="0.7"/>
<circle cx="234.5" cy="104.3" r="3.1" fill="#c2e2f6" stroke="#fff" stroke-width="0.7"/>
<circle cx="95.3" cy="209.6" r="3.1" fill="#c2e2f6" stroke="#fff" stroke-width="0.7"/>
<circle cx="130.2" cy="171.9" r="3.1" fill="#c2e2f6" stroke="#fff" stroke-width="0.7"/>
<circle cx="174.0" cy="150.2" r="3.1" fill="#c2e2f6" stroke="#fff" stroke-width="0.7"/>
<circle cx="156.3" cy="142.4" r="3.1" fill="#c2e2f6" stroke="#fff" stroke-width="0.7"/>
<circle cx="96.2" cy="191.7" r="3.1" fill="#c2e2f6" stroke="#fff" stroke-width="0.7"/>
<circle cx="194.0" cy="118.6" r="3.1" fill="#c2e2f6" stroke="#fff" stroke-width="0.7"/>
<circle cx="112.4" cy="196.0" r="3.1" fill="#c2e2f6" stroke="#fff" stroke-width="0.7"/>
<circle cx="142.4" cy="139.7" r="3.1" fill="#c2e2f6" stroke="#fff" stroke-width="0.7"/>
<circle cx="154.4" cy="137.7" r="3.1" fill="#c2e2f6" stroke="#fff" stroke-width="0.7"/>
<circle cx="105.4" cy="185.8" r="3.1" fill="#c2e2f6" stroke="#fff" stroke-width="0.7"/>
<circle cx="98.0" cy="207.2" r="3.1" fill="#c2e2f6" stroke="#fff" stroke-width="0.7"/>
<circle cx="221.8" cy="89.1" r="3.1" fill="#c2e2f6" stroke="#fff" stroke-width="0.7"/>
<circle cx="80.0" cy="204.9" r="3.1" fill="#c2e2f6" stroke="#fff" stroke-width="0.7"/>
<circle cx="227.7" cy="84.6" r="3.1" fill="#c2e2f6" stroke="#fff" stroke-width="0.7"/>
<circle cx="55.1" cy="211.4" r="3.1" fill="#c2e2f6" stroke="#fff" stroke-width="0.7"/>
<circle cx="201.9" cy="133.0" r="3.1" fill="#c2e2f6" stroke="#fff" stroke-width="0.7"/>
<circle cx="131.7" cy="183.8" r="3.1" fill="#c2e2f6" stroke="#fff" stroke-width="0.7"/>
<circle cx="119.3" cy="163.6" r="3.1" fill="#c2e2f6" stroke="#fff" stroke-width="0.7"/>
<circle cx="112.2" cy="190.9" r="3.1" fill="#c2e2f6" stroke="#fff" stroke-width="0.7"/>
<circle cx="141.0" cy="146.5" r="3.1" fill="#c2e2f6" stroke="#fff" stroke-width="0.7"/>
<circle cx="142.5" cy="161.2" r="3.1" fill="#c2e2f6" stroke="#fff" stroke-width="0.7"/>
<circle cx="132.1" cy="168.2" r="3.1" fill="#c2e2f6" stroke="#fff" stroke-width="0.7"/>
<circle cx="150.1" cy="145.6" r="3.1" fill="#c2e2f6" stroke="#fff" stroke-width="0.7"/>
<circle cx="195.3" cy="138.9" r="3.1" fill="#c2e2f6" stroke="#fff" stroke-width="0.7"/>
<circle cx="196.9" cy="126.1" r="3.1" fill="#c2e2f6" stroke="#fff" stroke-width="0.7"/>
<circle cx="185.6" cy="126.7" r="3.1" fill="#c2e2f6" stroke="#fff" stroke-width="0.7"/>
<circle cx="217.7" cy="102.7" r="3.1" fill="#c2e2f6" stroke="#fff" stroke-width="0.7"/>
<circle cx="188.9" cy="142.8" r="3.1" fill="#c2e2f6" stroke="#fff" stroke-width="0.7"/>
<circle cx="176.3" cy="141.2" r="3.1" fill="#c2e2f6" stroke="#fff" stroke-width="0.7"/>
<circle cx="118.2" cy="183.9" r="3.1" fill="#c2e2f6" stroke="#fff" stroke-width="0.7"/>
<circle cx="220.3" cy="106.4" r="3.1" fill="#c2e2f6" stroke="#fff" stroke-width="0.7"/>
<circle cx="183.6" cy="111.4" r="3.1" fill="#c2e2f6" stroke="#fff" stroke-width="0.7"/>
<circle cx="86.7" cy="203.2" r="3.1" fill="#c2e2f6" stroke="#fff" stroke-width="0.7"/>
<circle cx="218.3" cy="114.4" r="3.1" fill="#c2e2f6" stroke="#fff" stroke-width="0.7"/>
<circle cx="166.0" cy="156.1" r="3.1" fill="#c2e2f6" stroke="#fff" stroke-width="0.7"/>
<circle cx="108.5" cy="189.3" r="3.1" fill="#c2e2f6" stroke="#fff" stroke-width="0.7"/>
<circle cx="103.3" cy="182.2" r="3.1" fill="#c2e2f6" stroke="#fff" stroke-width="0.7"/>
<circle cx="159.2" cy="139.9" r="3.1" fill="#c2e2f6" stroke="#fff" stroke-width="0.7"/>
<circle cx="141.5" cy="170.0" r="3.1" fill="#c2e2f6" stroke="#fff" stroke-width="0.7"/>
<circle cx="149.3" cy="151.4" r="3.1" fill="#c2e2f6" stroke="#fff" stroke-width="0.7"/>
<circle cx="137.2" cy="154.6" r="3.1" fill="#c2e2f6" stroke="#fff" stroke-width="0.7"/>
<circle cx="123.1" cy="184.6" r="3.1" fill="#c2e2f6" stroke="#fff" stroke-width="0.7"/>
<circle cx="175.6" cy="133.5" r="3.1" fill="#c2e2f6" stroke="#fff" stroke-width="0.7"/>
<circle cx="166.6" cy="139.0" r="3.1" fill="#c2e2f6" stroke="#fff" stroke-width="0.7"/>
<circle cx="62.5" cy="212.5" r="3.1" fill="#c2e2f6" stroke="#fff" stroke-width="0.7"/>
<circle cx="230.8" cy="103.7" r="3.1" fill="#c2e2f6" stroke="#fff" stroke-width="0.7"/>
<circle cx="174.2" cy="130.0" r="3.1" fill="#c2e2f6" stroke="#fff" stroke-width="0.7"/>
<circle cx="225.4" cy="91.9" r="3.1" fill="#c2e2f6" stroke="#fff" stroke-width="0.7"/>
<circle cx="189.9" cy="108.5" r="3.1" fill="#c2e2f6" stroke="#fff" stroke-width="0.7"/>
<circle cx="165.8" cy="133.1" r="3.1" fill="#c2e2f6" stroke="#fff" stroke-width="0.7"/>
<circle cx="201.3" cy="103.7" r="3.1" fill="#c2e2f6" stroke="#fff" stroke-width="0.7"/>
<circle cx="204.9" cy="128.6" r="3.1" fill="#c2e2f6" stroke="#fff" stroke-width="0.7"/>
<circle cx="238.4" cy="81.2" r="3.1" fill="#c2e2f6" stroke="#fff" stroke-width="0.7"/>
<circle cx="117.6" cy="167.0" r="3.1" fill="#c2e2f6" stroke="#fff" stroke-width="0.7"/>
<circle cx="210.5" cy="95.7" r="3.1" fill="#c2e2f6" stroke="#fff" stroke-width="0.7"/>
<circle cx="159.8" cy="126.8" r="3.1" fill="#c2e2f6" stroke="#fff" stroke-width="0.7"/>
<circle cx="145.3" cy="169.0" r="3.1" fill="#c2e2f6" stroke="#fff" stroke-width="0.7"/>
<circle cx="119.6" cy="170.1" r="3.1" fill="#c2e2f6" stroke="#fff" stroke-width="0.7"/>
<circle cx="205.9" cy="122.9" r="3.1" fill="#c2e2f6" stroke="#fff" stroke-width="0.7"/>
<circle cx="206.4" cy="113.5" r="3.1" fill="#c2e2f6" stroke="#fff" stroke-width="0.7"/>
<circle cx="83.9" cy="213.7" r="3.1" fill="#c2e2f6" stroke="#fff" stroke-width="0.7"/>
<circle cx="181.1" cy="143.5" r="3.1" fill="#c2e2f6" stroke="#fff" stroke-width="0.7"/>
<circle cx="197.1" cy="113.7" r="3.1" fill="#c2e2f6" stroke="#fff" stroke-width="0.7"/>
<circle cx="136.1" cy="159.4" r="3.1" fill="#c2e2f6" stroke="#fff" stroke-width="0.7"/>
<circle cx="72.1" cy="216.4" r="3.1" fill="#c2e2f6" stroke="#fff" stroke-width="0.7"/>
<circle cx="206.4" cy="106.3" r="3.1" fill="#c2e2f6" stroke="#fff" stroke-width="0.7"/>
<circle cx="233.4" cy="88.6" r="3.1" fill="#c2e2f6" stroke="#fff" stroke-width="0.7"/>
<circle cx="177.6" cy="115.0" r="3.1" fill="#c2e2f6" stroke="#fff" stroke-width="0.7"/>
<circle cx="208.4" cy="109.4" r="3.1" fill="#c2e2f6" stroke="#fff" stroke-width="0.7"/>
<circle cx="180.6" cy="113.5" r="3.1" fill="#c2e2f6" stroke="#fff" stroke-width="0.7"/>
<circle cx="197.6" cy="136.4" r="3.1" fill="#c2e2f6" stroke="#fff" stroke-width="0.7"/>
<circle cx="139.8" cy="141.8" r="3.1" fill="#c2e2f6" stroke="#fff" stroke-width="0.7"/>
<circle cx="58.2" cy="209.9" r="3.1" fill="#c2e2f6" stroke="#fff" stroke-width="0.7"/>
<circle cx="202.2" cy="124.9" r="3.1" fill="#c2e2f6" stroke="#fff" stroke-width="0.7"/>
<circle cx="116.5" cy="177.7" r="3.1" fill="#c2e2f6" stroke="#fff" stroke-width="0.7"/>
<circle cx="171.8" cy="153.2" r="3.1" fill="#c2e2f6" stroke="#fff" stroke-width="0.7"/>
<circle cx="187.2" cy="121.5" r="3.1" fill="#c2e2f6" stroke="#fff" stroke-width="0.7"/>
<circle cx="149.4" cy="132.2" r="3.1" fill="#c2e2f6" stroke="#fff" stroke-width="0.7"/>
<circle cx="174.6" cy="146.2" r="3.1" fill="#c2e2f6" stroke="#fff" stroke-width="0.7"/>
<circle cx="125.8" cy="186.5" r="3.1" fill="#c2e2f6" stroke="#fff" stroke-width="0.7"/>
<circle cx="201.2" cy="111.3" r="3.1" fill="#c2e2f6" stroke="#fff" stroke-width="0.7"/>
<circle cx="185.3" cy="143.0" r="3.1" fill="#c2e2f6" stroke="#fff" stroke-width="0.7"/>
<circle cx="87.7" cy="213.2" r="3.1" fill="#c2e2f6" stroke="#fff" stroke-width="0.7"/>
<circle cx="139.9" cy="158.0" r="3.1" fill="#c2e2f6" stroke="#fff" stroke-width="0.7"/>
<circle cx="143.5" cy="157.0" r="3.1" fill="#c2e2f6" stroke="#fff" stroke-width="0.7"/>
<circle cx="239.6" cy="88.7" r="3.1" fill="#c2e2f6" stroke="#fff" stroke-width="0.7"/>
<circle cx="184.4" cy="114.9" r="3.1" fill="#c2e2f6" stroke="#fff" stroke-width="0.7"/>
<circle cx="162.7" cy="144.0" r="3.1" fill="#c2e2f6" stroke="#fff" stroke-width="0.7"/>
<circle cx="160.0" cy="147.9" r="3.1" fill="#c2e2f6" stroke="#fff" stroke-width="0.7"/>
<circle cx="181.3" cy="149.9" r="3.1" fill="#c2e2f6" stroke="#fff" stroke-width="0.7"/>
<circle cx="126.8" cy="169.2" r="3.1" fill="#c2e2f6" stroke="#fff" stroke-width="0.7"/>
<circle cx="163.9" cy="136.1" r="3.1" fill="#c2e2f6" stroke="#fff" stroke-width="0.7"/>
<circle cx="133.5" cy="173.8" r="3.1" fill="#c2e2f6" stroke="#fff" stroke-width="0.7"/>
<circle cx="153.4" cy="155.9" r="3.1" fill="#c2e2f6" stroke="#fff" stroke-width="0.7"/>
<circle cx="58.9" cy="217.0" r="3.1" fill="#c2e2f6" stroke="#fff" stroke-width="0.7"/>
<circle cx="124.9" cy="164.4" r="3.1" fill="#c2e2f6" stroke="#fff" stroke-width="0.7"/>
<circle cx="156.4" cy="126.8" r="3.1" fill="#c2e2f6" stroke="#fff" stroke-width="0.7"/>
<circle cx="130.2" cy="158.3" r="3.1" fill="#c2e2f6" stroke="#fff" stroke-width="0.7"/>
<circle cx="86.1" cy="198.2" r="3.1" fill="#c2e2f6" stroke="#fff" stroke-width="0.7"/>
<circle cx="131.1" cy="176.2" r="3.1" fill="#c2e2f6" stroke="#fff" stroke-width="0.7"/>
<circle cx="182.5" cy="117.9" r="3.1" fill="#c2e2f6" stroke="#fff" stroke-width="0.7"/>
<circle cx="238.9" cy="84.7" r="3.1" fill="#c2e2f6" stroke="#fff" stroke-width="0.7"/>
<circle cx="197.9" cy="117.2" r="3.1" fill="#c2e2f6" stroke="#fff" stroke-width="0.7"/>
<circle cx="224.9" cy="104.9" r="3.1" fill="#c2e2f6" stroke="#fff" stroke-width="0.7"/>
<circle cx="133.3" cy="180.9" r="3.1" fill="#c2e2f6" stroke="#fff" stroke-width="0.7"/>
<circle cx="109.4" cy="177.4" r="3.1" fill="#c2e2f6" stroke="#fff" stroke-width="0.7"/>
<circle cx="176.4" cy="121.5" r="3.1" fill="#c2e2f6" stroke="#fff" stroke-width="0.7"/>
<circle cx="80.3" cy="200.8" r="3.1" fill="#c2e2f6" stroke="#fff" stroke-width="0.7"/>
<circle cx="102.5" cy="195.7" r="3.1" fill="#c2e2f6" stroke="#fff" stroke-width="0.7"/>
<circle cx="166.0" cy="161.2" r="3.1" fill="#c2e2f6" stroke="#fff" stroke-width="0.7"/>
<circle cx="154.1" cy="161.6" r="3.1" fill="#c2e2f6" stroke="#fff" stroke-width="0.7"/>
<circle cx="239.4" cy="96.1" r="3.1" fill="#c2e2f6" stroke="#fff" stroke-width="0.7"/>
<circle cx="169.3" cy="117.4" r="3.1" fill="#c2e2f6" stroke="#fff" stroke-width="0.7"/>
<circle cx="194.1" cy="129.1" r="3.1" fill="#c2e2f6" stroke="#fff" stroke-width="0.7"/>
<circle cx="218.1" cy="89.4" r="3.1" fill="#c2e2f6" stroke="#fff" stroke-width="0.7"/>
<circle cx="208.3" cy="127.6" r="3.1" fill="#c2e2f6" stroke="#fff" stroke-width="0.7"/>
<circle cx="65.9" cy="213.5" r="3.1" fill="#c2e2f6" stroke="#fff" stroke-width="0.7"/>
<circle cx="212.0" cy="108.8" r="3.1" fill="#c2e2f6" stroke="#fff" stroke-width="0.7"/>
<circle cx="150.9" cy="136.6" r="3.1" fill="#c2e2f6" stroke="#fff" stroke-width="0.7"/>
<circle cx="214.9" cy="114.9" r="3.1" fill="#c2e2f6" stroke="#fff" stroke-width="0.7"/>
<circle cx="145.1" cy="137.7" r="3.1" fill="#c2e2f6" stroke="#fff" stroke-width="0.7"/>
<circle cx="162.7" cy="163.4" r="3.1" fill="#c2e2f6" stroke="#fff" stroke-width="0.7"/>
<circle cx="173.5" cy="138.8" r="3.1" fill="#c2e2f6" stroke="#fff" stroke-width="0.7"/>
<circle cx="161.7" cy="133.6" r="3.1" fill="#c2e2f6" stroke="#fff" stroke-width="0.7"/>
<circle cx="71.1" cy="209.3" r="3.1" fill="#c2e2f6" stroke="#fff" stroke-width="0.7"/>
<circle cx="236.3" cy="90.8" r="3.1" fill="#c2e2f6" stroke="#fff" stroke-width="0.7"/>
<circle cx="98.9" cy="189.6" r="3.1" fill="#c2e2f6" stroke="#fff" stroke-width="0.7"/>
<circle cx="179.7" cy="136.2" r="3.1" fill="#c2e2f6" stroke="#fff" stroke-width="0.7"/>
<circle cx="153.6" cy="145.3" r="3.1" fill="#c2e2f6" stroke="#fff" stroke-width="0.7"/>
<circle cx="192.5" cy="132.2" r="3.1" fill="#c2e2f6" stroke="#fff" stroke-width="0.7"/>
<circle cx="130.8" cy="163.8" r="3.1" fill="#c2e2f6" stroke="#fff" stroke-width="0.7"/>
<circle cx="159.6" cy="164.6" r="3.1" fill="#c2e2f6" stroke="#fff" stroke-width="0.7"/>
<circle cx="227.3" cy="95.0" r="3.1" fill="#c2e2f6" stroke="#fff" stroke-width="0.7"/>
<circle cx="162.6" cy="155.3" r="3.1" fill="#c2e2f6" stroke="#fff" stroke-width="0.7"/>
<circle cx="186.1" cy="134.7" r="3.1" fill="#c2e2f6" stroke="#fff" stroke-width="0.7"/>
<circle cx="138.0" cy="164.7" r="3.1" fill="#c2e2f6" stroke="#fff" stroke-width="0.7"/>
<circle cx="81.5" cy="207.8" r="3.1" fill="#c2e2f6" stroke="#fff" stroke-width="0.7"/>
<circle cx="127.0" cy="154.6" r="3.1" fill="#c2e2f6" stroke="#fff" stroke-width="0.7"/>
<circle cx="195.7" cy="121.7" r="3.1" fill="#c2e2f6" stroke="#fff" stroke-width="0.7"/>
<circle cx="88.1" cy="206.2" r="3.1" fill="#c2e2f6" stroke="#fff" stroke-width="0.7"/>
<circle cx="71.2" cy="204.5" r="3.1" fill="#c2e2f6" stroke="#fff" stroke-width="0.7"/>
<circle cx="190.9" cy="122.4" r="3.1" fill="#c2e2f6" stroke="#fff" stroke-width="0.7"/>
<circle cx="144.6" cy="148.3" r="3.1" fill="#c2e2f6" stroke="#fff" stroke-width="0.7"/>
<circle cx="157.2" cy="154.8" r="3.1" fill="#c2e2f6" stroke="#fff" stroke-width="0.7"/>
<circle cx="202.4" cy="121.4" r="3.1" fill="#c2e2f6" stroke="#fff" stroke-width="0.7"/>
<circle cx="122.9" cy="188.1" r="3.1" fill="#c2e2f6" stroke="#fff" stroke-width="0.7"/>
<circle cx="329.9" cy="21.0" r="3.1" fill="#c2e2f6" stroke="#fff" stroke-width="0.7"/>
<circle cx="314.3" cy="36.6" r="3.1" fill="#c2e2f6" stroke="#fff" stroke-width="0.7"/>
<circle cx="253.9" cy="84.2" r="3.1" fill="#c2e2f6" stroke="#fff" stroke-width="0.7"/>
<circle cx="327.0" cy="27.5" r="3.1" fill="#c2e2f6" stroke="#fff" stroke-width="0.7"/>
<circle cx="262.5" cy="79.0" r="3.1" fill="#c2e2f6" stroke="#fff" stroke-width="0.7"/>
<circle cx="269.1" cy="59.3" r="3.1" fill="#c2e2f6" stroke="#fff" stroke-width="0.7"/>
<circle cx="304.4" cy="50.0" r="3.1" fill="#c2e2f6" stroke="#fff" stroke-width="0.7"/>
<circle cx="243.9" cy="77.1" r="3.1" fill="#c2e2f6" stroke="#fff" stroke-width="0.7"/>
<circle cx="287.6" cy="49.1" r="3.1" fill="#c2e2f6" stroke="#fff" stroke-width="0.7"/>
<circle cx="245.6" cy="92.0" r="3.1" fill="#c2e2f6" stroke="#fff" stroke-width="0.7"/>
<circle cx="271.3" cy="77.4" r="3.1" fill="#c2e2f6" stroke="#fff" stroke-width="0.7"/>
<circle cx="261.4" cy="66.0" r="3.1" fill="#c2e2f6" stroke="#fff" stroke-width="0.7"/>
<circle cx="322.4" cy="29.0" r="3.1" fill="#c2e2f6" stroke="#fff" stroke-width="0.7"/>
<circle cx="284.1" cy="61.8" r="3.1" fill="#c2e2f6" stroke="#fff" stroke-width="0.7"/>
<circle cx="264.5" cy="73.9" r="3.1" fill="#c2e2f6" stroke="#fff" stroke-width="0.7"/>
<circle cx="252.9" cy="79.8" r="3.1" fill="#c2e2f6" stroke="#fff" stroke-width="0.7"/>
<circle cx="311.0" cy="45.4" r="3.1" fill="#c2e2f6" stroke="#fff" stroke-width="0.7"/>
<circle cx="274.4" cy="58.2" r="3.1" fill="#c2e2f6" stroke="#fff" stroke-width="0.7"/>
<circle cx="259.4" cy="84.8" r="3.1" fill="#c2e2f6" stroke="#fff" stroke-width="0.7"/>
<circle cx="316.5" cy="40.6" r="3.1" fill="#c2e2f6" stroke="#fff" stroke-width="0.7"/>
<circle cx="278.2" cy="72.1" r="3.1" fill="#c2e2f6" stroke="#fff" stroke-width="0.7"/>
<circle cx="269.7" cy="66.5" r="3.1" fill="#c2e2f6" stroke="#fff" stroke-width="0.7"/>
<circle cx="272.4" cy="71.6" r="3.1" fill="#c2e2f6" stroke="#fff" stroke-width="0.7"/>
<circle cx="252.1" cy="73.2" r="3.1" fill="#c2e2f6" stroke="#fff" stroke-width="0.7"/>
<circle cx="260.2" cy="89.6" r="3.1" fill="#c2e2f6" stroke="#fff" stroke-width="0.7"/>
<circle cx="290.9" cy="53.7" r="3.1" fill="#c2e2f6" stroke="#fff" stroke-width="0.7"/>
<circle cx="253.4" cy="88.6" r="3.1" fill="#c2e2f6" stroke="#fff" stroke-width="0.7"/>
<circle cx="307.3" cy="42.4" r="3.1" fill="#c2e2f6" stroke="#fff" stroke-width="0.7"/>
<circle cx="326.1" cy="22.4" r="3.1" fill="#c2e2f6" stroke="#fff" stroke-width="0.7"/>
<circle cx="285.4" cy="55.8" r="3.1" fill="#c2e2f6" stroke="#fff" stroke-width="0.7"/>
<circle cx="254.6" cy="68.9" r="3.1" fill="#c2e2f6" stroke="#fff" stroke-width="0.7"/>
<circle cx="266.2" cy="80.2" r="3.1" fill="#c2e2f6" stroke="#fff" stroke-width="0.7"/>
<circle cx="276.1" cy="65.2" r="3.1" fill="#c2e2f6" stroke="#fff" stroke-width="0.7"/>
<circle cx="296.6" cy="49.7" r="3.1" fill="#c2e2f6" stroke="#fff" stroke-width="0.7"/>
<circle cx="304.5" cy="35.8" r="3.1" fill="#c2e2f6" stroke="#fff" stroke-width="0.7"/>
<circle cx="321.1" cy="24.8" r="3.1" fill="#c2e2f6" stroke="#fff" stroke-width="0.7"/>
<circle cx="279.5" cy="63.2" r="3.1" fill="#c2e2f6" stroke="#fff" stroke-width="0.7"/>
<circle cx="317.1" cy="32.2" r="3.1" fill="#c2e2f6" stroke="#fff" stroke-width="0.7"/>
<circle cx="333.3" cy="23.4" r="3.1" fill="#c2e2f6" stroke="#fff" stroke-width="0.7"/>
<circle cx="297.2" cy="42.3" r="3.1" fill="#c2e2f6" stroke="#fff" stroke-width="0.7"/>
<circle cx="279.5" cy="67.8" r="3.1" fill="#c2e2f6" stroke="#fff" stroke-width="0.7"/>
<circle cx="248.4" cy="84.5" r="3.1" fill="#c2e2f6" stroke="#fff" stroke-width="0.7"/>
<circle cx="265.3" cy="69.6" r="3.1" fill="#c2e2f6" stroke="#fff" stroke-width="0.7"/>
<circle cx="241.0" cy="74.7" r="3.1" fill="#c2e2f6" stroke="#fff" stroke-width="0.7"/>
<circle cx="293.8" cy="60.6" r="3.1" fill="#c2e2f6" stroke="#fff" stroke-width="0.7"/>
<circle cx="263.3" cy="86.4" r="3.1" fill="#c2e2f6" stroke="#fff" stroke-width="0.7"/>
<circle cx="298.4" cy="56.0" r="3.1" fill="#c2e2f6" stroke="#fff" stroke-width="0.7"/>
<circle cx="310.0" cy="38.5" r="3.1" fill="#c2e2f6" stroke="#fff" stroke-width="0.7"/>
<circle cx="332.5" cy="17.8" r="3.1" fill="#c2e2f6" stroke="#fff" stroke-width="0.7"/>
<circle cx="294.3" cy="55.8" r="3.1" fill="#c2e2f6" stroke="#fff" stroke-width="0.7"/>
<circle cx="243.8" cy="95.9" r="3.1" fill="#c2e2f6" stroke="#fff" stroke-width="0.7"/>
<circle cx="311.0" cy="32.6" r="3.1" fill="#c2e2f6" stroke="#fff" stroke-width="0.7"/>
<circle cx="259.3" cy="72.1" r="3.1" fill="#c2e2f6" stroke="#fff" stroke-width="0.7"/>
<circle cx="301.7" cy="40.4" r="3.1" fill="#c2e2f6" stroke="#fff" stroke-width="0.7"/>
<circle cx="288.6" cy="59.8" r="3.1" fill="#c2e2f6" stroke="#fff" stroke-width="0.7"/>
<circle cx="248.0" cy="76.4" r="3.1" fill="#c2e2f6" stroke="#fff" stroke-width="0.7"/>
<circle cx="320.7" cy="34.8" r="3.1" fill="#c2e2f6" stroke="#fff" stroke-width="0.7"/>
<circle cx="279.8" cy="53.2" r="3.1" fill="#c2e2f6" stroke="#fff" stroke-width="0.7"/>
<circle cx="242.1" cy="89.0" r="3.1" fill="#c2e2f6" stroke="#fff" stroke-width="0.7"/>
<circle cx="308.3" cy="48.8" r="3.1" fill="#c2e2f6" stroke="#fff" stroke-width="0.7"/>
<circle cx="314.7" cy="28.0" r="3.1" fill="#c2e2f6" stroke="#fff" stroke-width="0.7"/>
<circle cx="300.4" cy="51.0" r="3.1" fill="#c2e2f6" stroke="#fff" stroke-width="0.7"/>
<circle cx="327.9" cy="17.4" r="3.1" fill="#c2e2f6" stroke="#fff" stroke-width="0.7"/>
<circle cx="241.0" cy="98.5" r="3.1" fill="#c2e2f6" stroke="#fff" stroke-width="0.7"/>
<circle cx="241.5" cy="85.1" r="3.1" fill="#c2e2f6" stroke="#fff" stroke-width="0.7"/>
<circle cx="325.8" cy="31.6" r="3.1" fill="#c2e2f6" stroke="#fff" stroke-width="0.7"/>
<circle cx="331.8" cy="13.9" r="3.1" fill="#c2e2f6" stroke="#fff" stroke-width="0.7"/>
<circle cx="249.4" cy="96.5" r="3.1" fill="#c2e2f6" stroke="#fff" stroke-width="0.7"/>
<circle cx="284.2" cy="67.1" r="3.1" fill="#c2e2f6" stroke="#fff" stroke-width="0.7"/>
<circle cx="301.8" cy="45.3" r="3.1" fill="#c2e2f6" stroke="#fff" stroke-width="0.7"/>
<circle cx="264.3" cy="62.5" r="3.1" fill="#c2e2f6" stroke="#fff" stroke-width="0.7"/>
<circle cx="292.6" cy="49.3" r="3.1" fill="#c2e2f6" stroke="#fff" stroke-width="0.7"/>
<circle cx="278.7" cy="57.4" r="3.1" fill="#c2e2f6" stroke="#fff" stroke-width="0.7"/>
<circle cx="250.1" cy="69.6" r="3.1" fill="#c2e2f6" stroke="#fff" stroke-width="0.7"/>
<circle cx="256.9" cy="75.8" r="3.1" fill="#c2e2f6" stroke="#fff" stroke-width="0.7"/>
<circle cx="312.8" cy="42.0" r="3.1" fill="#c2e2f6" stroke="#fff" stroke-width="0.7"/>
<circle cx="283.9" cy="51.2" r="3.1" fill="#c2e2f6" stroke="#fff" stroke-width="0.7"/>
<circle cx="275.9" cy="53.2" r="3.1" fill="#c2e2f6" stroke="#fff" stroke-width="0.7"/>
<circle cx="287.4" cy="63.7" r="3.1" fill="#c2e2f6" stroke="#fff" stroke-width="0.7"/>
<circle cx="271.8" cy="54.9" r="3.1" fill="#c2e2f6" stroke="#fff" stroke-width="0.7"/>
<circle cx="250.1" cy="92.0" r="3.1" fill="#c2e2f6" stroke="#fff" stroke-width="0.7"/>
<circle cx="240.5" cy="94.1" r="3.1" fill="#c2e2f6" stroke="#fff" stroke-width="0.7"/>
<circle cx="294.7" cy="46.0" r="3.1" fill="#c2e2f6" stroke="#fff" stroke-width="0.7"/>
<circle cx="242.2" cy="81.3" r="3.1" fill="#c2e2f6" stroke="#fff" stroke-width="0.7"/>
<circle cx="254.6" cy="93.0" r="3.1" fill="#c2e2f6" stroke="#fff" stroke-width="0.7"/>
<circle cx="272.4" cy="63.6" r="3.1" fill="#c2e2f6" stroke="#fff" stroke-width="0.7"/>
<circle cx="306.9" cy="32.8" r="3.1" fill="#c2e2f6" stroke="#fff" stroke-width="0.7"/>
<circle cx="245.7" cy="87.6" r="3.1" fill="#c2e2f6" stroke="#fff" stroke-width="0.7"/>
<circle cx="249.1" cy="80.0" r="3.1" fill="#c2e2f6" stroke="#fff" stroke-width="0.7"/>
<circle cx="303.6" cy="53.8" r="3.1" fill="#c2e2f6" stroke="#fff" stroke-width="0.7"/>
<circle cx="330.9" cy="27.0" r="3.1" fill="#c2e2f6" stroke="#fff" stroke-width="0.7"/>
<circle cx="246.5" cy="72.7" r="3.1" fill="#c2e2f6" stroke="#fff" stroke-width="0.7"/>
<circle cx="268.2" cy="72.4" r="3.1" fill="#c2e2f6" stroke="#fff" stroke-width="0.7"/>
<circle cx="257.2" cy="79.9" r="3.1" fill="#c2e2f6" stroke="#fff" stroke-width="0.7"/>
<circle cx="257.6" cy="65.4" r="3.1" fill="#c2e2f6" stroke="#fff" stroke-width="0.7"/>
<circle cx="318.6" cy="28.4" r="3.1" fill="#c2e2f6" stroke="#fff" stroke-width="0.7"/>
<circle cx="158.2" cy="91.4" r="3.1" fill="#c2e2f6" stroke="#fff" stroke-width="0.7"/>
<circle cx="157.1" cy="104.3" r="3.1" fill="#c2e2f6" stroke="#fff" stroke-width="0.7"/>
<circle cx="167.9" cy="105.4" r="3.1" fill="#c2e2f6" stroke="#fff" stroke-width="0.7"/>
<circle cx="173.2" cy="110.7" r="3.1" fill="#c2e2f6" stroke="#fff" stroke-width="0.7"/>
<circle cx="172.0" cy="112.9" r="3.1" fill="#c2e2f6" stroke="#fff" stroke-width="0.7"/>
<circle cx="160.4" cy="117.1" r="3.1" fill="#c2e2f6" stroke="#fff" stroke-width="0.7"/>
<circle cx="153.9" cy="122.5" r="3.1" fill="#c2e2f6" stroke="#fff" stroke-width="0.7"/>
<circle cx="167.9" cy="119.3" r="3.1" fill="#c2e2f6" stroke="#fff" stroke-width="0.7"/>
<circle cx="177.5" cy="117.1" r="3.1" fill="#c2e2f6" stroke="#fff" stroke-width="0.7"/>
<circle cx="182.9" cy="116.0" r="3.1" fill="#c2e2f6" stroke="#fff" stroke-width="0.7"/>
<circle cx="224.3" cy="49.4" r="3.1" fill="#c2e2f6" stroke="#fff" stroke-width="0.7"/>
<circle cx="242.6" cy="68.4" r="3.1" fill="#c2e2f6" stroke="#fff" stroke-width="0.7"/>
<circle cx="335.0" cy="14.0" r="3.1" fill="#c2e2f6" stroke="#fff" stroke-width="0.7"/>
<circle cx="329.0" cy="24.0" r="3.1" fill="#c2e2f6" stroke="#fff" stroke-width="0.7"/>
<circle cx="325.0" cy="28.0" r="3.1" fill="#c2e2f6" stroke="#fff" stroke-width="0.7"/>
<circle cx="320.0" cy="26.0" r="3.1" fill="#c2e2f6" stroke="#fff" stroke-width="0.7"/>
<circle cx="316.0" cy="29.0" r="3.1" fill="#c2e2f6" stroke="#fff" stroke-width="0.7"/>
<circle cx="300.0" cy="33.0" r="3.1" fill="#c2e2f6" stroke="#fff" stroke-width="0.7"/>
<circle cx="299.0" cy="60.0" r="3.1" fill="#c2e2f6" stroke="#fff" stroke-width="0.7"/>
<circle cx="286.0" cy="62.0" r="3.1" fill="#c2e2f6" stroke="#fff" stroke-width="0.7"/>
<circle cx="280.0" cy="64.0" r="3.1" fill="#c2e2f6" stroke="#fff" stroke-width="0.7"/>
<circle cx="72.0" cy="181.0" r="3.1" fill="#c2e2f6" stroke="#fff" stroke-width="0.7"/>
<circle cx="76.0" cy="186.0" r="3.1" fill="#c2e2f6" stroke="#fff" stroke-width="0.7"/>
<circle cx="80.0" cy="186.0" r="3.1" fill="#c2e2f6" stroke="#fff" stroke-width="0.7"/>
<circle cx="104.0" cy="195.0" r="3.1" fill="#c2e2f6" stroke="#fff" stroke-width="0.7"/>
<circle cx="108.0" cy="201.0" r="3.1" fill="#c2e2f6" stroke="#fff" stroke-width="0.7"/>
<circle cx="57.0" cy="213.0" r="3.1" fill="#c2e2f6" stroke="#fff" stroke-width="0.7"/>
<circle cx="145.0" cy="111.0" r="3.1" fill="#c2e2f6" stroke="#fff" stroke-width="0.7"/>
<circle cx="150.0" cy="120.0" r="3.1" fill="#c2e2f6" stroke="#fff" stroke-width="0.7"/>
<path d="M74.5 196.2L79.9 205.8L69.1 205.8Z" fill="#1ba1e2" stroke="#231f20" stroke-width="1.2" stroke-linejoin="miter"/>
<path d="M71.4 201.3L76.8 210.9L66.0 210.9Z" fill="#1ba1e2" stroke="#231f20" stroke-width="1.2" stroke-linejoin="miter"/>
<path d="M68.3 206.5L73.7 216.1L62.9 216.1Z" fill="#1ba1e2" stroke="#231f20" stroke-width="1.2" stroke-linejoin="miter"/>
<path d="M67.3 210.6L72.7 220.2L61.9 220.2Z" fill="#1ba1e2" stroke="#231f20" stroke-width="1.2" stroke-linejoin="miter"/>
<path d="M62.7 211.6L68.1 221.2L57.3 221.2Z" fill="#1ba1e2" stroke="#231f20" stroke-width="1.2" stroke-linejoin="miter"/>
<path d="M88.0 193.7L93.4 203.3L82.6 203.3Z" fill="#1ba1e2" stroke="#231f20" stroke-width="1.2" stroke-linejoin="miter"/>
<path d="M85.3 194.2L90.7 203.8L79.9 203.8Z" fill="#1ba1e2" stroke="#231f20" stroke-width="1.2" stroke-linejoin="miter"/>
<path d="M90.0 194.2L95.4 203.8L84.6 203.8Z" fill="#1ba1e2" stroke="#231f20" stroke-width="1.2" stroke-linejoin="miter"/>
<path d="M95.6 191.6L101.0 201.2L90.2 201.2Z" fill="#1ba1e2" stroke="#231f20" stroke-width="1.2" stroke-linejoin="miter"/>
<path d="M93.0 192.7L98.4 202.3L87.6 202.3Z" fill="#1ba1e2" stroke="#231f20" stroke-width="1.2" stroke-linejoin="miter"/>
<path d="M91.0 204.4L96.4 214.0L85.6 214.0Z" fill="#1ba1e2" stroke="#231f20" stroke-width="1.2" stroke-linejoin="miter"/>
<path d="M100.2 206.2L105.6 215.8L94.8 215.8Z" fill="#1ba1e2" stroke="#231f20" stroke-width="1.2" stroke-linejoin="miter"/>
<rect x="124.7" y="149.8" width="9.6" height="9.6" fill="#fff200" stroke="#231f20" stroke-width="1.2"/>
<rect x="122.9" y="155.7" width="9.6" height="9.6" fill="#fff200" stroke="#231f20" stroke-width="1.2"/>
<rect x="116.2" y="159.2" width="9.6" height="9.6" fill="#fff200" stroke="#231f20" stroke-width="1.2"/>
<rect x="136.0" y="155.7" width="9.6" height="9.6" fill="#fff200" stroke="#231f20" stroke-width="1.2"/>
<rect x="111.5" y="180.8" width="9.6" height="9.6" fill="#fff200" stroke="#231f20" stroke-width="1.2"/>
<rect x="168.9" y="126.6" width="9.6" height="9.6" fill="#fff200" stroke="#231f20" stroke-width="1.2"/>
<rect x="198.5" y="105.5" width="10.2" height="10.2" fill="#fff200" stroke="#e5202e" stroke-width="1.6"/>
<path d="M199.5 106.5L207.7 114.7M207.7 106.5L199.5 114.7" stroke="#e5202e" stroke-width="1.5"/>
<rect x="199.1" y="101.2" width="10.2" height="10.2" fill="#fff200" stroke="#e5202e" stroke-width="1.6"/>
<path d="M200.1 102.2L208.3 110.4M208.3 102.2L200.1 110.4" stroke="#e5202e" stroke-width="1.5"/>
<rect x="198.3" y="97.1" width="10.2" height="10.2" fill="#fff200" stroke="#e5202e" stroke-width="1.6"/>
<path d="M199.3 98.1L207.5 106.3M207.5 98.1L199.3 106.3" stroke="#e5202e" stroke-width="1.5"/>
<rect x="198.9" y="99.3" width="10.0" height="10.0" fill="#fff200" stroke="#e5202e" stroke-width="1.6"/>
<path d="M199.9 100.3L207.9 108.3M207.9 100.3L199.9 108.3" stroke="#e5202e" stroke-width="1.5"/>
<rect x="198.5" y="103.4" width="10.0" height="10.0" fill="#fff200" stroke="#e5202e" stroke-width="1.6"/>
<path d="M199.5 104.4L207.5 112.4M207.5 104.4L199.5 112.4" stroke="#e5202e" stroke-width="1.5"/>
<path d="M139.9 145.8L144.8 155.2L135.1 155.2Z" fill="#f28b1e" stroke="#231f20" stroke-width="1.2" stroke-linejoin="miter"/>
<path d="M153.2 147.7L158.0 157.2L148.3 157.2Z" fill="#f28b1e" stroke="#231f20" stroke-width="1.2" stroke-linejoin="miter"/>
<path d="M101.1 180.8L106.0 185.7L101.1 190.6L96.2 185.7Z" fill="#00a651" stroke="#231f20" stroke-width="1.2"/>
<path d="M112.0 173.1L116.9 178.0L112.0 182.9L107.1 178.0Z" fill="#00a651" stroke="#231f20" stroke-width="1.2"/>
<path d="M116.0 169.3L120.9 174.2L116.0 179.1L111.1 174.2Z" fill="#00a651" stroke="#231f20" stroke-width="1.2"/>
<path d="M118.5 166.8L123.4 171.7L118.5 176.6L113.6 171.7Z" fill="#00a651" stroke="#231f20" stroke-width="1.2"/>
<path d="M125.4 162.5L130.3 167.4L125.4 172.3L120.5 167.4Z" fill="#00a651" stroke="#231f20" stroke-width="1.2"/>
<path d="M131.4 159.1L136.3 164.0L131.4 168.9L126.5 164.0Z" fill="#00a651" stroke="#231f20" stroke-width="1.2"/>
<path d="M122.0 151.4L126.9 156.3L122.0 161.2L117.1 156.3Z" fill="#00a651" stroke="#231f20" stroke-width="1.2"/>
<path d="M142.2 149.7L147.1 154.6L142.2 159.5L137.3 154.6Z" fill="#e5202e" stroke="#231f20" stroke-width="1.2"/>
<path d="M80.7 202.6L85.2 207.1L80.7 211.6L76.2 207.1Z" fill="#a6449a" stroke="#231f20" stroke-width="1.2"/>
<rect x="100.1" y="164.2" width="10.8" height="10.8" fill="#7d6e69" stroke="#231f20" stroke-width="1.5"/>
<path d="M101.3 165.4L109.7 173.8M109.7 165.4L101.3 173.8M105.5 164.2L105.5 175.0" stroke="#231f20" stroke-width="1.3"/>
<rect x="103.4" y="174.7" width="10.8" height="10.8" fill="#7d6e69" stroke="#231f20" stroke-width="1.5"/>
<path d="M104.6 175.9L113.0 184.3M113.0 175.9L104.6 184.3M108.8 174.7L108.8 185.5" stroke="#231f20" stroke-width="1.3"/>
<circle cx="98.9" cy="172.6" r="4.85" fill="#f28b1e" stroke="#231f20" stroke-width="1.3"/>
<circle cx="97.1" cy="178.3" r="4.85" fill="#f28b1e" stroke="#231f20" stroke-width="1.3"/>
<circle cx="89.7" cy="183.4" r="4.85" fill="#f28b1e" stroke="#231f20" stroke-width="1.3"/>
<circle cx="93.7" cy="185.7" r="4.85" fill="#f28b1e" stroke="#231f20" stroke-width="1.3"/>
<circle cx="88.6" cy="181.0" r="4.85" fill="#f28b1e" stroke="#231f20" stroke-width="1.3"/>
<circle cx="134.9" cy="154.8" r="4.85" fill="#f28b1e" stroke="#231f20" stroke-width="1.3"/>
<circle cx="206.3" cy="165.7" r="4.9" fill="#f28b1e" stroke="#231f20" stroke-width="1.3"/>
<circle cx="165.7" cy="185.7" r="4.9" fill="#f28b1e" stroke="#231f20" stroke-width="1.3"/>
<path d="M328.5 5.6L336.1 13.2M336.1 5.6L328.5 13.2" stroke="#231f20" stroke-width="1.35"/>
<path d="M294.2 22.3L301.8 29.9M301.8 22.3L294.2 29.9" stroke="#231f20" stroke-width="1.35"/>
<path d="M310.5 29.6L318.1 37.2M318.1 29.6L310.5 37.2" stroke="#231f20" stroke-width="1.35"/>
<path d="M315.6 40.8L323.2 48.4M323.2 40.8L315.6 48.4" stroke="#231f20" stroke-width="1.35"/>
<path d="M287.2 38.8L294.8 46.4M294.8 38.8L287.2 46.4" stroke="#231f20" stroke-width="1.35"/>
<path d="M291.7 37.4L299.3 45.0M299.3 37.4L291.7 45.0" stroke="#231f20" stroke-width="1.35"/>
<path d="M296.0 36.4L303.6 44.0M303.6 36.4L296.0 44.0" stroke="#231f20" stroke-width="1.35"/>
<path d="M288.2 51.4L295.8 59.0M295.8 51.4L288.2 59.0" stroke="#231f20" stroke-width="1.35"/>
<path d="M268.3 56.9L275.9 64.5M275.9 56.9L268.3 64.5" stroke="#231f20" stroke-width="1.35"/>
<path d="M258.5 71.7L266.1 79.3M266.1 71.7L258.5 79.3" stroke="#231f20" stroke-width="1.35"/>
<path d="M258.5 76.8L266.1 84.4M266.1 76.8L258.5 84.4" stroke="#231f20" stroke-width="1.35"/>
<path d="M241.8 76.8L249.4 84.4M249.4 76.8L241.8 84.4" stroke="#231f20" stroke-width="1.35"/>
<path d="M228.1 87.6L235.7 95.2M235.7 87.6L228.1 95.2" stroke="#231f20" stroke-width="1.35"/>
<path d="M233.9 96.0L241.5 103.6M241.5 96.0L233.9 103.6" stroke="#231f20" stroke-width="1.35"/>
<path d="M257.3 91.6L264.9 99.2M264.9 91.6L257.3 99.2" stroke="#231f20" stroke-width="1.35"/>
<path d="M263.1 89.3L270.7 96.9M270.7 89.3L263.1 96.9" stroke="#231f20" stroke-width="1.35"/>
<path d="M209.5 99.2L217.1 106.8M217.1 99.2L209.5 106.8" stroke="#231f20" stroke-width="1.35"/>
<path d="M194.7 108.8L202.3 116.4M202.3 108.8L194.7 116.4" stroke="#231f20" stroke-width="1.35"/>
<path d="M201.1 119.1L208.7 126.7M208.7 119.1L201.1 126.7" stroke="#231f20" stroke-width="1.35"/>
<path d="M203.1 117.8L210.7 125.4M210.7 117.8L203.1 125.4" stroke="#231f20" stroke-width="1.35"/>
<path d="M149.7 135.2L157.3 142.8M157.3 135.2L149.7 142.8" stroke="#231f20" stroke-width="1.35"/>
<circle cx="531.0" cy="104.9" r="3.1" fill="#fdf5b6" stroke="#c4c0aa" stroke-width="0.6"/>
<circle cx="553.4" cy="105.0" r="3.1" fill="#fdf5b6" stroke="#c4c0aa" stroke-width="0.6"/>
<circle cx="546.2" cy="106.1" r="3.1" fill="#fdf5b6" stroke="#c4c0aa" stroke-width="0.6"/>
<circle cx="453.8" cy="124.2" r="3.1" fill="#fdf5b6" stroke="#c4c0aa" stroke-width="0.6"/>
<circle cx="572.6" cy="93.7" r="3.1" fill="#fdf5b6" stroke="#c4c0aa" stroke-width="0.6"/>
<circle cx="567.1" cy="82.0" r="3.1" fill="#fdf5b6" stroke="#c4c0aa" stroke-width="0.6"/>
<circle cx="511.0" cy="98.1" r="3.1" fill="#fdf5b6" stroke="#c4c0aa" stroke-width="0.6"/>
<circle cx="520.7" cy="102.8" r="3.1" fill="#fdf5b6" stroke="#c4c0aa" stroke-width="0.6"/>
<circle cx="486.3" cy="122.3" r="3.1" fill="#fdf5b6" stroke="#c4c0aa" stroke-width="0.6"/>
<circle cx="549.5" cy="86.1" r="3.1" fill="#fdf5b6" stroke="#c4c0aa" stroke-width="0.6"/>
<circle cx="530.3" cy="89.2" r="3.1" fill="#fdf5b6" stroke="#c4c0aa" stroke-width="0.6"/>
<circle cx="450.2" cy="131.9" r="3.1" fill="#fdf5b6" stroke="#c4c0aa" stroke-width="0.6"/>
<circle cx="477.2" cy="111.3" r="3.1" fill="#fdf5b6" stroke="#c4c0aa" stroke-width="0.6"/>
<circle cx="577.7" cy="97.7" r="3.1" fill="#fdf5b6" stroke="#c4c0aa" stroke-width="0.6"/>
<circle cx="476.6" cy="125.7" r="3.1" fill="#fdf5b6" stroke="#c4c0aa" stroke-width="0.6"/>
<circle cx="539.8" cy="108.7" r="3.1" fill="#fdf5b6" stroke="#c4c0aa" stroke-width="0.6"/>
<circle cx="497.0" cy="102.1" r="3.1" fill="#fdf5b6" stroke="#c4c0aa" stroke-width="0.6"/>
<circle cx="468.9" cy="111.6" r="3.1" fill="#fdf5b6" stroke="#c4c0aa" stroke-width="0.6"/>
<circle cx="489.2" cy="114.8" r="3.1" fill="#fdf5b6" stroke="#c4c0aa" stroke-width="0.6"/>
<circle cx="556.4" cy="92.8" r="3.1" fill="#fdf5b6" stroke="#c4c0aa" stroke-width="0.6"/>
<circle cx="541.6" cy="85.1" r="3.1" fill="#fdf5b6" stroke="#c4c0aa" stroke-width="0.6"/>
<circle cx="576.8" cy="78.8" r="3.1" fill="#fdf5b6" stroke="#c4c0aa" stroke-width="0.6"/>
<circle cx="497.6" cy="111.2" r="3.1" fill="#fdf5b6" stroke="#c4c0aa" stroke-width="0.6"/>
<circle cx="451.2" cy="118.3" r="3.1" fill="#fdf5b6" stroke="#c4c0aa" stroke-width="0.6"/>
<circle cx="570.9" cy="100.9" r="3.1" fill="#fdf5b6" stroke="#c4c0aa" stroke-width="0.6"/>
<circle cx="518.2" cy="108.8" r="3.1" fill="#fdf5b6" stroke="#c4c0aa" stroke-width="0.6"/>
<circle cx="485.0" cy="87.0" r="3.1" fill="#fdf5b6" stroke="#c4c0aa" stroke-width="0.6"/>
<circle cx="512.0" cy="84.3" r="3.1" fill="#fdf5b6" stroke="#c4c0aa" stroke-width="0.6"/>
<circle cx="524.3" cy="90.0" r="3.1" fill="#fdf5b6" stroke="#c4c0aa" stroke-width="0.6"/>
<circle cx="530.9" cy="85.7" r="3.1" fill="#fdf5b6" stroke="#c4c0aa" stroke-width="0.6"/>
<circle cx="531.0" cy="90.6" r="3.1" fill="#fdf5b6" stroke="#c4c0aa" stroke-width="0.6"/>
<circle cx="542.9" cy="84.3" r="3.1" fill="#fdf5b6" stroke="#c4c0aa" stroke-width="0.6"/>
<circle cx="521.4" cy="99.4" r="3.1" fill="#fdf5b6" stroke="#c4c0aa" stroke-width="0.6"/>
<circle cx="498.6" cy="108.6" r="3.1" fill="#fdf5b6" stroke="#c4c0aa" stroke-width="0.6"/>
<circle cx="487.1" cy="114.3" r="3.1" fill="#fdf5b6" stroke="#c4c0aa" stroke-width="0.6"/>
<circle cx="483.7" cy="118.9" r="3.1" fill="#fdf5b6" stroke="#c4c0aa" stroke-width="0.6"/>
<circle cx="479.0" cy="123.4" r="3.1" fill="#fdf5b6" stroke="#c4c0aa" stroke-width="0.6"/>
<circle cx="454.3" cy="127.0" r="3.1" fill="#fdf5b6" stroke="#c4c0aa" stroke-width="0.6"/>
<circle cx="612.0" cy="57.0" r="3.1" fill="#fdf5b6" stroke="#c4c0aa" stroke-width="0.6"/>
<circle cx="599.1" cy="80.0" r="3.1" fill="#fdf5b6" stroke="#c4c0aa" stroke-width="0.6"/>
<circle cx="613.3" cy="93.9" r="3.1" fill="#fdf5b6" stroke="#c4c0aa" stroke-width="0.6"/>
<circle cx="610.0" cy="103.2" r="3.1" fill="#fdf5b6" stroke="#c4c0aa" stroke-width="0.6"/>
<circle cx="595.3" cy="106.3" r="3.1" fill="#fdf5b6" stroke="#c4c0aa" stroke-width="0.6"/>
<circle cx="592.7" cy="121.2" r="3.1" fill="#fdf5b6" stroke="#c4c0aa" stroke-width="0.6"/>
<circle cx="587.6" cy="101.0" r="3.1" fill="#fdf5b6" stroke="#c4c0aa" stroke-width="0.6"/>
<circle cx="564.4" cy="84.4" r="3.1" fill="#fdf5b6" stroke="#c4c0aa" stroke-width="0.6"/>
<circle cx="542.6" cy="84.4" r="3.1" fill="#fdf5b6" stroke="#c4c0aa" stroke-width="0.6"/>
<circle cx="464.4" cy="184.0" r="3.1" fill="#fdf5b6" stroke="#c4c0aa" stroke-width="0.6"/>
<circle cx="463.6" cy="178.9" r="3.1" fill="#fdf5b6" stroke="#c4c0aa" stroke-width="0.6"/>
<circle cx="477.0" cy="174.0" r="3.1" fill="#fdf5b6" stroke="#c4c0aa" stroke-width="0.6"/>
<circle cx="465.7" cy="184.3" r="3.1" fill="#fdf5b6" stroke="#c4c0aa" stroke-width="0.6"/>
<circle cx="563.7" cy="137.0" r="3.1" fill="#fdf5b6" stroke="#c4c0aa" stroke-width="0.6"/>
<circle cx="548.0" cy="149.0" r="3.1" fill="#fdf5b6" stroke="#c4c0aa" stroke-width="0.6"/>
<circle cx="571.4" cy="138.6" r="3.1" fill="#fdf5b6" stroke="#c4c0aa" stroke-width="0.6"/>
<circle cx="581.0" cy="133.0" r="3.1" fill="#fdf5b6" stroke="#c4c0aa" stroke-width="0.6"/>
<circle cx="586.0" cy="128.0" r="3.1" fill="#fdf5b6" stroke="#c4c0aa" stroke-width="0.6"/>
<circle cx="443.0" cy="163.0" r="3.1" fill="#c2e2f6" stroke="#fff" stroke-width="0.7"/>
<circle cx="558.1" cy="139.7" r="3.1" fill="#c2e2f6" stroke="#fff" stroke-width="0.7"/>
<circle cx="431.1" cy="166.4" r="3.1" fill="#c2e2f6" stroke="#fff" stroke-width="0.7"/>
<circle cx="440.2" cy="148.2" r="3.1" fill="#c2e2f6" stroke="#fff" stroke-width="0.7"/>
<circle cx="527.0" cy="154.2" r="3.1" fill="#c2e2f6" stroke="#fff" stroke-width="0.7"/>
<circle cx="481.8" cy="166.1" r="3.1" fill="#c2e2f6" stroke="#fff" stroke-width="0.7"/>
<circle cx="516.0" cy="124.9" r="3.1" fill="#c2e2f6" stroke="#fff" stroke-width="0.7"/>
<circle cx="477.9" cy="131.1" r="3.1" fill="#c2e2f6" stroke="#fff" stroke-width="0.7"/>
<circle cx="438.1" cy="142.2" r="3.1" fill="#c2e2f6" stroke="#fff" stroke-width="0.7"/>
<circle cx="540.1" cy="152.8" r="3.1" fill="#c2e2f6" stroke="#fff" stroke-width="0.7"/>
<circle cx="452.0" cy="133.3" r="3.1" fill="#c2e2f6" stroke="#fff" stroke-width="0.7"/>
<circle cx="589.8" cy="109.7" r="3.1" fill="#c2e2f6" stroke="#fff" stroke-width="0.7"/>
<circle cx="492.8" cy="129.0" r="3.1" fill="#c2e2f6" stroke="#fff" stroke-width="0.7"/>
<circle cx="524.2" cy="150.3" r="3.1" fill="#c2e2f6" stroke="#fff" stroke-width="0.7"/>
<circle cx="501.1" cy="136.0" r="3.1" fill="#c2e2f6" stroke="#fff" stroke-width="0.7"/>
<circle cx="430.5" cy="154.5" r="3.1" fill="#c2e2f6" stroke="#fff" stroke-width="0.7"/>
<circle cx="565.0" cy="89.7" r="3.1" fill="#c2e2f6" stroke="#fff" stroke-width="0.7"/>
<circle cx="547.2" cy="148.2" r="3.1" fill="#c2e2f6" stroke="#fff" stroke-width="0.7"/>
<circle cx="530.3" cy="145.3" r="3.1" fill="#c2e2f6" stroke="#fff" stroke-width="0.7"/>
<circle cx="449.9" cy="167.1" r="3.1" fill="#c2e2f6" stroke="#fff" stroke-width="0.7"/>
<circle cx="474.2" cy="145.4" r="3.1" fill="#c2e2f6" stroke="#fff" stroke-width="0.7"/>
<circle cx="591.9" cy="125.1" r="3.1" fill="#c2e2f6" stroke="#fff" stroke-width="0.7"/>
<circle cx="588.0" cy="104.9" r="3.1" fill="#c2e2f6" stroke="#fff" stroke-width="0.7"/>
<circle cx="506.5" cy="150.8" r="3.1" fill="#c2e2f6" stroke="#fff" stroke-width="0.7"/>
<circle cx="505.0" cy="127.6" r="3.1" fill="#c2e2f6" stroke="#fff" stroke-width="0.7"/>
<circle cx="492.4" cy="124.5" r="3.1" fill="#c2e2f6" stroke="#fff" stroke-width="0.7"/>
<circle cx="488.0" cy="168.2" r="3.1" fill="#c2e2f6" stroke="#fff" stroke-width="0.7"/>
<circle cx="585.3" cy="114.5" r="3.1" fill="#c2e2f6" stroke="#fff" stroke-width="0.7"/>
<circle cx="485.3" cy="158.6" r="3.1" fill="#c2e2f6" stroke="#fff" stroke-width="0.7"/>
<circle cx="554.4" cy="130.6" r="3.1" fill="#c2e2f6" stroke="#fff" stroke-width="0.7"/>
<circle cx="535.9" cy="141.0" r="3.1" fill="#c2e2f6" stroke="#fff" stroke-width="0.7"/>
<circle cx="485.7" cy="154.5" r="3.1" fill="#c2e2f6" stroke="#fff" stroke-width="0.7"/>
<circle cx="474.1" cy="168.9" r="3.1" fill="#c2e2f6" stroke="#fff" stroke-width="0.7"/>
<circle cx="533.5" cy="131.9" r="3.1" fill="#c2e2f6" stroke="#fff" stroke-width="0.7"/>
<circle cx="466.9" cy="157.7" r="3.1" fill="#c2e2f6" stroke="#fff" stroke-width="0.7"/>
<circle cx="502.3" cy="156.6" r="3.1" fill="#c2e2f6" stroke="#fff" stroke-width="0.7"/>
<circle cx="548.2" cy="140.6" r="3.1" fill="#c2e2f6" stroke="#fff" stroke-width="0.7"/>
<circle cx="570.3" cy="123.5" r="3.1" fill="#c2e2f6" stroke="#fff" stroke-width="0.7"/>
<circle cx="588.0" cy="132.6" r="3.1" fill="#c2e2f6" stroke="#fff" stroke-width="0.7"/>
<circle cx="511.5" cy="138.4" r="3.1" fill="#c2e2f6" stroke="#fff" stroke-width="0.7"/>
<circle cx="581.5" cy="104.3" r="3.1" fill="#c2e2f6" stroke="#fff" stroke-width="0.7"/>
<circle cx="540.5" cy="136.6" r="3.1" fill="#c2e2f6" stroke="#fff" stroke-width="0.7"/>
<circle cx="547.0" cy="101.8" r="3.1" fill="#c2e2f6" stroke="#fff" stroke-width="0.7"/>
<circle cx="555.3" cy="123.3" r="3.1" fill="#c2e2f6" stroke="#fff" stroke-width="0.7"/>
<circle cx="536.1" cy="121.4" r="3.1" fill="#c2e2f6" stroke="#fff" stroke-width="0.7"/>
<circle cx="531.4" cy="140.9" r="3.1" fill="#c2e2f6" stroke="#fff" stroke-width="0.7"/>
<circle cx="429.6" cy="146.2" r="3.1" fill="#c2e2f6" stroke="#fff" stroke-width="0.7"/>
<circle cx="498.7" cy="148.8" r="3.1" fill="#c2e2f6" stroke="#fff" stroke-width="0.7"/>
<circle cx="461.6" cy="159.8" r="3.1" fill="#c2e2f6" stroke="#fff" stroke-width="0.7"/>
<circle cx="530.4" cy="102.7" r="3.1" fill="#c2e2f6" stroke="#fff" stroke-width="0.7"/>
<circle cx="434.0" cy="143.5" r="3.1" fill="#c2e2f6" stroke="#fff" stroke-width="0.7"/>
<circle cx="457.3" cy="130.7" r="3.1" fill="#c2e2f6" stroke="#fff" stroke-width="0.7"/>
<circle cx="527.2" cy="135.5" r="3.1" fill="#c2e2f6" stroke="#fff" stroke-width="0.7"/>
<circle cx="464.7" cy="169.2" r="3.1" fill="#c2e2f6" stroke="#fff" stroke-width="0.7"/>
<circle cx="425.1" cy="153.1" r="3.1" fill="#c2e2f6" stroke="#fff" stroke-width="0.7"/>
<circle cx="487.4" cy="120.8" r="3.1" fill="#c2e2f6" stroke="#fff" stroke-width="0.7"/>
<circle cx="527.5" cy="107.3" r="3.1" fill="#c2e2f6" stroke="#fff" stroke-width="0.7"/>
<circle cx="522.0" cy="158.8" r="3.1" fill="#c2e2f6" stroke="#fff" stroke-width="0.7"/>
<circle cx="561.7" cy="110.4" r="3.1" fill="#c2e2f6" stroke="#fff" stroke-width="0.7"/>
<circle cx="560.8" cy="125.1" r="3.1" fill="#c2e2f6" stroke="#fff" stroke-width="0.7"/>
<circle cx="486.7" cy="126.4" r="3.1" fill="#c2e2f6" stroke="#fff" stroke-width="0.7"/>
<circle cx="584.9" cy="135.4" r="3.1" fill="#c2e2f6" stroke="#fff" stroke-width="0.7"/>
<circle cx="526.6" cy="122.2" r="3.1" fill="#c2e2f6" stroke="#fff" stroke-width="0.7"/>
<circle cx="574.2" cy="74.4" r="3.1" fill="#c2e2f6" stroke="#fff" stroke-width="0.7"/>
<circle cx="443.0" cy="156.1" r="3.1" fill="#c2e2f6" stroke="#fff" stroke-width="0.7"/>
<circle cx="530.1" cy="151.2" r="3.1" fill="#c2e2f6" stroke="#fff" stroke-width="0.7"/>
<circle cx="487.8" cy="140.5" r="3.1" fill="#c2e2f6" stroke="#fff" stroke-width="0.7"/>
<circle cx="462.8" cy="140.9" r="3.1" fill="#c2e2f6" stroke="#fff" stroke-width="0.7"/>
<circle cx="587.4" cy="100.6" r="3.1" fill="#c2e2f6" stroke="#fff" stroke-width="0.7"/>
<circle cx="524.5" cy="118.2" r="3.1" fill="#c2e2f6" stroke="#fff" stroke-width="0.7"/>
<circle cx="494.4" cy="132.7" r="3.1" fill="#c2e2f6" stroke="#fff" stroke-width="0.7"/>
<circle cx="499.1" cy="129.8" r="3.1" fill="#c2e2f6" stroke="#fff" stroke-width="0.7"/>
<circle cx="555.6" cy="102.4" r="3.1" fill="#c2e2f6" stroke="#fff" stroke-width="0.7"/>
<circle cx="469.7" cy="132.4" r="3.1" fill="#c2e2f6" stroke="#fff" stroke-width="0.7"/>
<circle cx="590.1" cy="97.5" r="3.1" fill="#c2e2f6" stroke="#fff" stroke-width="0.7"/>
<circle cx="526.5" cy="129.3" r="3.1" fill="#c2e2f6" stroke="#fff" stroke-width="0.7"/>
<circle cx="549.2" cy="97.5" r="3.1" fill="#c2e2f6" stroke="#fff" stroke-width="0.7"/>
<circle cx="552.0" cy="107.3" r="3.1" fill="#c2e2f6" stroke="#fff" stroke-width="0.7"/>
<circle cx="502.5" cy="132.3" r="3.1" fill="#c2e2f6" stroke="#fff" stroke-width="0.7"/>
<circle cx="549.4" cy="125.9" r="3.1" fill="#c2e2f6" stroke="#fff" stroke-width="0.7"/>
<circle cx="501.1" cy="162.3" r="3.1" fill="#c2e2f6" stroke="#fff" stroke-width="0.7"/>
<circle cx="573.3" cy="112.3" r="3.1" fill="#c2e2f6" stroke="#fff" stroke-width="0.7"/>
<circle cx="427.4" cy="161.1" r="3.1" fill="#c2e2f6" stroke="#fff" stroke-width="0.7"/>
<circle cx="496.4" cy="145.4" r="3.1" fill="#c2e2f6" stroke="#fff" stroke-width="0.7"/>
<circle cx="543.3" cy="130.6" r="3.1" fill="#c2e2f6" stroke="#fff" stroke-width="0.7"/>
<circle cx="505.5" cy="160.9" r="3.1" fill="#c2e2f6" stroke="#fff" stroke-width="0.7"/>
<circle cx="474.5" cy="163.3" r="3.1" fill="#c2e2f6" stroke="#fff" stroke-width="0.7"/>
<circle cx="436.0" cy="164.9" r="3.1" fill="#c2e2f6" stroke="#fff" stroke-width="0.7"/>
<circle cx="541.0" cy="119.7" r="3.1" fill="#c2e2f6" stroke="#fff" stroke-width="0.7"/>
<circle cx="577.1" cy="82.2" r="3.1" fill="#c2e2f6" stroke="#fff" stroke-width="0.7"/>
<circle cx="504.9" cy="141.5" r="3.1" fill="#c2e2f6" stroke="#fff" stroke-width="0.7"/>
<circle cx="450.6" cy="156.3" r="3.1" fill="#c2e2f6" stroke="#fff" stroke-width="0.7"/>
<circle cx="560.6" cy="88.9" r="3.1" fill="#c2e2f6" stroke="#fff" stroke-width="0.7"/>
<circle cx="557.2" cy="127.7" r="3.1" fill="#c2e2f6" stroke="#fff" stroke-width="0.7"/>
<circle cx="542.1" cy="96.8" r="3.1" fill="#c2e2f6" stroke="#fff" stroke-width="0.7"/>
<circle cx="565.6" cy="95.1" r="3.1" fill="#c2e2f6" stroke="#fff" stroke-width="0.7"/>
<circle cx="521.1" cy="147.1" r="3.1" fill="#c2e2f6" stroke="#fff" stroke-width="0.7"/>
<circle cx="571.7" cy="85.3" r="3.1" fill="#c2e2f6" stroke="#fff" stroke-width="0.7"/>
<circle cx="581.7" cy="97.4" r="3.1" fill="#c2e2f6" stroke="#fff" stroke-width="0.7"/>
<circle cx="434.3" cy="160.3" r="3.1" fill="#c2e2f6" stroke="#fff" stroke-width="0.7"/>
<circle cx="509.5" cy="159.8" r="3.1" fill="#c2e2f6" stroke="#fff" stroke-width="0.7"/>
<circle cx="517.7" cy="141.5" r="3.1" fill="#c2e2f6" stroke="#fff" stroke-width="0.7"/>
<circle cx="469.0" cy="151.5" r="3.1" fill="#c2e2f6" stroke="#fff" stroke-width="0.7"/>
<circle cx="511.3" cy="116.8" r="3.1" fill="#c2e2f6" stroke="#fff" stroke-width="0.7"/>
<circle cx="439.2" cy="160.0" r="3.1" fill="#c2e2f6" stroke="#fff" stroke-width="0.7"/>
<circle cx="479.0" cy="160.5" r="3.1" fill="#c2e2f6" stroke="#fff" stroke-width="0.7"/>
<circle cx="462.3" cy="132.8" r="3.1" fill="#c2e2f6" stroke="#fff" stroke-width="0.7"/>
<circle cx="567.2" cy="113.7" r="3.1" fill="#c2e2f6" stroke="#fff" stroke-width="0.7"/>
<circle cx="548.6" cy="114.5" r="3.1" fill="#c2e2f6" stroke="#fff" stroke-width="0.7"/>
<circle cx="441.2" cy="136.7" r="3.1" fill="#c2e2f6" stroke="#fff" stroke-width="0.7"/>
<circle cx="573.5" cy="107.8" r="3.1" fill="#c2e2f6" stroke="#fff" stroke-width="0.7"/>
<circle cx="552.0" cy="89.0" r="3.1" fill="#c2e2f6" stroke="#fff" stroke-width="0.7"/>
<circle cx="502.8" cy="118.2" r="3.1" fill="#c2e2f6" stroke="#fff" stroke-width="0.7"/>
<circle cx="450.8" cy="138.3" r="3.1" fill="#c2e2f6" stroke="#fff" stroke-width="0.7"/>
<circle cx="467.4" cy="138.9" r="3.1" fill="#c2e2f6" stroke="#fff" stroke-width="0.7"/>
<circle cx="452.0" cy="143.4" r="3.1" fill="#c2e2f6" stroke="#fff" stroke-width="0.7"/>
<circle cx="464.3" cy="149.5" r="3.1" fill="#c2e2f6" stroke="#fff" stroke-width="0.7"/>
<circle cx="473.6" cy="156.1" r="3.1" fill="#c2e2f6" stroke="#fff" stroke-width="0.7"/>
<circle cx="492.0" cy="166.9" r="3.1" fill="#c2e2f6" stroke="#fff" stroke-width="0.7"/>
<circle cx="485.8" cy="135.1" r="3.1" fill="#c2e2f6" stroke="#fff" stroke-width="0.7"/>
<circle cx="547.3" cy="134.3" r="3.1" fill="#c2e2f6" stroke="#fff" stroke-width="0.7"/>
<circle cx="587.9" cy="80.2" r="3.1" fill="#c2e2f6" stroke="#fff" stroke-width="0.7"/>
<circle cx="493.5" cy="118.9" r="3.1" fill="#c2e2f6" stroke="#fff" stroke-width="0.7"/>
<circle cx="516.6" cy="162.3" r="3.1" fill="#c2e2f6" stroke="#fff" stroke-width="0.7"/>
<circle cx="511.7" cy="128.5" r="3.1" fill="#c2e2f6" stroke="#fff" stroke-width="0.7"/>
<circle cx="581.3" cy="75.3" r="3.1" fill="#c2e2f6" stroke="#fff" stroke-width="0.7"/>
<circle cx="465.7" cy="128.7" r="3.1" fill="#c2e2f6" stroke="#fff" stroke-width="0.7"/>
<circle cx="467.7" cy="145.0" r="3.1" fill="#c2e2f6" stroke="#fff" stroke-width="0.7"/>
<circle cx="476.1" cy="125.6" r="3.1" fill="#c2e2f6" stroke="#fff" stroke-width="0.7"/>
<circle cx="455.0" cy="152.5" r="3.1" fill="#c2e2f6" stroke="#fff" stroke-width="0.7"/>
<circle cx="492.2" cy="144.2" r="3.1" fill="#c2e2f6" stroke="#fff" stroke-width="0.7"/>
<circle cx="578.9" cy="113.1" r="3.1" fill="#c2e2f6" stroke="#fff" stroke-width="0.7"/>
<circle cx="487.9" cy="150.1" r="3.1" fill="#c2e2f6" stroke="#fff" stroke-width="0.7"/>
<circle cx="444.3" cy="146.2" r="3.1" fill="#c2e2f6" stroke="#fff" stroke-width="0.7"/>
<circle cx="561.8" cy="103.6" r="3.1" fill="#c2e2f6" stroke="#fff" stroke-width="0.7"/>
<circle cx="446.7" cy="136.6" r="3.1" fill="#c2e2f6" stroke="#fff" stroke-width="0.7"/>
<circle cx="458.4" cy="141.8" r="3.1" fill="#c2e2f6" stroke="#fff" stroke-width="0.7"/>
<circle cx="574.6" cy="119.1" r="3.1" fill="#c2e2f6" stroke="#fff" stroke-width="0.7"/>
<circle cx="534.5" cy="152.9" r="3.1" fill="#c2e2f6" stroke="#fff" stroke-width="0.7"/>
<circle cx="469.7" cy="163.7" r="3.1" fill="#c2e2f6" stroke="#fff" stroke-width="0.7"/>
<circle cx="568.6" cy="141.6" r="3.1" fill="#c2e2f6" stroke="#fff" stroke-width="0.7"/>
<circle cx="527.2" cy="115.1" r="3.1" fill="#c2e2f6" stroke="#fff" stroke-width="0.7"/>
<circle cx="480.2" cy="122.5" r="3.1" fill="#c2e2f6" stroke="#fff" stroke-width="0.7"/>
<circle cx="581.7" cy="125.8" r="3.1" fill="#c2e2f6" stroke="#fff" stroke-width="0.7"/>
<circle cx="497.5" cy="138.1" r="3.1" fill="#c2e2f6" stroke="#fff" stroke-width="0.7"/>
<circle cx="553.2" cy="145.8" r="3.1" fill="#c2e2f6" stroke="#fff" stroke-width="0.7"/>
<circle cx="566.9" cy="120.5" r="3.1" fill="#c2e2f6" stroke="#fff" stroke-width="0.7"/>
<circle cx="575.3" cy="87.3" r="3.1" fill="#c2e2f6" stroke="#fff" stroke-width="0.7"/>
<circle cx="558.1" cy="106.2" r="3.1" fill="#c2e2f6" stroke="#fff" stroke-width="0.7"/>
<circle cx="539.0" cy="145.5" r="3.1" fill="#c2e2f6" stroke="#fff" stroke-width="0.7"/>
<circle cx="455.9" cy="147.1" r="3.1" fill="#c2e2f6" stroke="#fff" stroke-width="0.7"/>
<circle cx="477.1" cy="141.2" r="3.1" fill="#c2e2f6" stroke="#fff" stroke-width="0.7"/>
<circle cx="561.2" cy="142.8" r="3.1" fill="#c2e2f6" stroke="#fff" stroke-width="0.7"/>
<circle cx="514.6" cy="152.2" r="3.1" fill="#c2e2f6" stroke="#fff" stroke-width="0.7"/>
<circle cx="538.5" cy="126.0" r="3.1" fill="#c2e2f6" stroke="#fff" stroke-width="0.7"/>
<circle cx="472.5" cy="128.0" r="3.1" fill="#c2e2f6" stroke="#fff" stroke-width="0.7"/>
<circle cx="544.3" cy="111.0" r="3.1" fill="#c2e2f6" stroke="#fff" stroke-width="0.7"/>
<circle cx="580.2" cy="89.6" r="3.1" fill="#c2e2f6" stroke="#fff" stroke-width="0.7"/>
<circle cx="459.9" cy="152.3" r="3.1" fill="#c2e2f6" stroke="#fff" stroke-width="0.7"/>
<circle cx="476.0" cy="136.0" r="3.1" fill="#c2e2f6" stroke="#fff" stroke-width="0.7"/>
<circle cx="435.5" cy="156.4" r="3.1" fill="#c2e2f6" stroke="#fff" stroke-width="0.7"/>
<circle cx="563.7" cy="138.9" r="3.1" fill="#c2e2f6" stroke="#fff" stroke-width="0.7"/>
<circle cx="576.1" cy="93.9" r="3.1" fill="#c2e2f6" stroke="#fff" stroke-width="0.7"/>
<circle cx="586.4" cy="88.9" r="3.1" fill="#c2e2f6" stroke="#fff" stroke-width="0.7"/>
<circle cx="455.7" cy="138.2" r="3.1" fill="#c2e2f6" stroke="#fff" stroke-width="0.7"/>
<circle cx="524.3" cy="140.1" r="3.1" fill="#c2e2f6" stroke="#fff" stroke-width="0.7"/>
<circle cx="579.3" cy="138.2" r="3.1" fill="#c2e2f6" stroke="#fff" stroke-width="0.7"/>
<circle cx="511.3" cy="112.4" r="3.1" fill="#c2e2f6" stroke="#fff" stroke-width="0.7"/>
<circle cx="461.5" cy="173.4" r="3.1" fill="#c2e2f6" stroke="#fff" stroke-width="0.7"/>
<circle cx="490.6" cy="157.2" r="3.1" fill="#c2e2f6" stroke="#fff" stroke-width="0.7"/>
<circle cx="494.0" cy="161.4" r="3.1" fill="#c2e2f6" stroke="#fff" stroke-width="0.7"/>
<circle cx="536.3" cy="104.1" r="3.1" fill="#c2e2f6" stroke="#fff" stroke-width="0.7"/>
<circle cx="574.9" cy="134.9" r="3.1" fill="#c2e2f6" stroke="#fff" stroke-width="0.7"/>
<circle cx="525.0" cy="110.9" r="3.1" fill="#c2e2f6" stroke="#fff" stroke-width="0.7"/>
<circle cx="587.8" cy="118.6" r="3.1" fill="#c2e2f6" stroke="#fff" stroke-width="0.7"/>
<circle cx="486.9" cy="145.6" r="3.1" fill="#c2e2f6" stroke="#fff" stroke-width="0.7"/>
<circle cx="499.9" cy="153.0" r="3.1" fill="#c2e2f6" stroke="#fff" stroke-width="0.7"/>
<circle cx="482.1" cy="128.1" r="3.1" fill="#c2e2f6" stroke="#fff" stroke-width="0.7"/>
<circle cx="586.6" cy="93.5" r="3.1" fill="#c2e2f6" stroke="#fff" stroke-width="0.7"/>
<circle cx="562.6" cy="114.7" r="3.1" fill="#c2e2f6" stroke="#fff" stroke-width="0.7"/>
<circle cx="570.5" cy="79.8" r="3.1" fill="#c2e2f6" stroke="#fff" stroke-width="0.7"/>
<circle cx="583.5" cy="81.5" r="3.1" fill="#c2e2f6" stroke="#fff" stroke-width="0.7"/>
<circle cx="551.6" cy="120.6" r="3.1" fill="#c2e2f6" stroke="#fff" stroke-width="0.7"/>
<circle cx="469.0" cy="170.2" r="3.1" fill="#c2e2f6" stroke="#fff" stroke-width="0.7"/>
<circle cx="533.7" cy="108.5" r="3.1" fill="#c2e2f6" stroke="#fff" stroke-width="0.7"/>
<circle cx="448.2" cy="152.6" r="3.1" fill="#c2e2f6" stroke="#fff" stroke-width="0.7"/>
<circle cx="544.7" cy="116.9" r="3.1" fill="#c2e2f6" stroke="#fff" stroke-width="0.7"/>
<circle cx="519.4" cy="122.5" r="3.1" fill="#c2e2f6" stroke="#fff" stroke-width="0.7"/>
<circle cx="553.4" cy="95.4" r="3.1" fill="#c2e2f6" stroke="#fff" stroke-width="0.7"/>
<circle cx="496.5" cy="126.3" r="3.1" fill="#c2e2f6" stroke="#fff" stroke-width="0.7"/>
<circle cx="560.4" cy="118.1" r="3.1" fill="#c2e2f6" stroke="#fff" stroke-width="0.7"/>
<circle cx="520.9" cy="133.6" r="3.1" fill="#c2e2f6" stroke="#fff" stroke-width="0.7"/>
<circle cx="447.4" cy="141.2" r="3.1" fill="#c2e2f6" stroke="#fff" stroke-width="0.7"/>
<circle cx="541.8" cy="136.5" r="3.1" fill="#c2e2f6" stroke="#fff" stroke-width="0.7"/>
<circle cx="448.2" cy="170.4" r="3.1" fill="#c2e2f6" stroke="#fff" stroke-width="0.7"/>
<circle cx="453.1" cy="142.0" r="3.1" fill="#c2e2f6" stroke="#fff" stroke-width="0.7"/>
<circle cx="446.2" cy="153.6" r="3.1" fill="#c2e2f6" stroke="#fff" stroke-width="0.7"/>
<circle cx="529.9" cy="147.2" r="3.1" fill="#c2e2f6" stroke="#fff" stroke-width="0.7"/>
<circle cx="457.8" cy="160.1" r="3.1" fill="#c2e2f6" stroke="#fff" stroke-width="0.7"/>
<circle cx="448.6" cy="157.2" r="3.1" fill="#c2e2f6" stroke="#fff" stroke-width="0.7"/>
<circle cx="471.8" cy="142.1" r="3.1" fill="#c2e2f6" stroke="#fff" stroke-width="0.7"/>
<circle cx="440.3" cy="160.0" r="3.1" fill="#c2e2f6" stroke="#fff" stroke-width="0.7"/>
<circle cx="451.3" cy="162.9" r="3.1" fill="#c2e2f6" stroke="#fff" stroke-width="0.7"/>
<circle cx="485.2" cy="147.6" r="3.1" fill="#c2e2f6" stroke="#fff" stroke-width="0.7"/>
<circle cx="533.0" cy="128.3" r="3.1" fill="#c2e2f6" stroke="#fff" stroke-width="0.7"/>
<circle cx="570.0" cy="136.3" r="3.1" fill="#c2e2f6" stroke="#fff" stroke-width="0.7"/>
<circle cx="476.6" cy="139.6" r="3.1" fill="#c2e2f6" stroke="#fff" stroke-width="0.7"/>
<circle cx="570.6" cy="96.7" r="3.1" fill="#c2e2f6" stroke="#fff" stroke-width="0.7"/>
<circle cx="498.4" cy="137.1" r="3.1" fill="#c2e2f6" stroke="#fff" stroke-width="0.7"/>
<circle cx="586.3" cy="99.1" r="3.1" fill="#c2e2f6" stroke="#fff" stroke-width="0.7"/>
<circle cx="535.5" cy="140.1" r="3.1" fill="#c2e2f6" stroke="#fff" stroke-width="0.7"/>
<circle cx="547.1" cy="99.6" r="3.1" fill="#c2e2f6" stroke="#fff" stroke-width="0.7"/>
<circle cx="581.1" cy="104.5" r="3.1" fill="#c2e2f6" stroke="#fff" stroke-width="0.7"/>
<circle cx="566.8" cy="124.9" r="3.1" fill="#c2e2f6" stroke="#fff" stroke-width="0.7"/>
<circle cx="498.5" cy="155.9" r="3.1" fill="#c2e2f6" stroke="#fff" stroke-width="0.7"/>
<circle cx="538.8" cy="118.8" r="3.1" fill="#c2e2f6" stroke="#fff" stroke-width="0.7"/>
<circle cx="547.6" cy="124.0" r="3.1" fill="#c2e2f6" stroke="#fff" stroke-width="0.7"/>
<circle cx="544.4" cy="130.2" r="3.1" fill="#c2e2f6" stroke="#fff" stroke-width="0.7"/>
<circle cx="557.8" cy="103.7" r="3.1" fill="#c2e2f6" stroke="#fff" stroke-width="0.7"/>
<circle cx="510.1" cy="114.0" r="3.1" fill="#c2e2f6" stroke="#fff" stroke-width="0.7"/>
<circle cx="556.9" cy="134.4" r="3.1" fill="#c2e2f6" stroke="#fff" stroke-width="0.7"/>
<circle cx="564.3" cy="95.2" r="3.1" fill="#c2e2f6" stroke="#fff" stroke-width="0.7"/>
<circle cx="516.6" cy="134.1" r="3.1" fill="#c2e2f6" stroke="#fff" stroke-width="0.7"/>
<circle cx="585.9" cy="123.5" r="3.1" fill="#c2e2f6" stroke="#fff" stroke-width="0.7"/>
<circle cx="469.6" cy="161.8" r="3.1" fill="#c2e2f6" stroke="#fff" stroke-width="0.7"/>
<circle cx="534.9" cy="122.5" r="3.1" fill="#c2e2f6" stroke="#fff" stroke-width="0.7"/>
<circle cx="533.9" cy="115.4" r="3.1" fill="#c2e2f6" stroke="#fff" stroke-width="0.7"/>
<circle cx="475.3" cy="127.1" r="3.1" fill="#c2e2f6" stroke="#fff" stroke-width="0.7"/>
<circle cx="535.8" cy="131.6" r="3.1" fill="#c2e2f6" stroke="#fff" stroke-width="0.7"/>
<circle cx="500.7" cy="131.5" r="3.1" fill="#c2e2f6" stroke="#fff" stroke-width="0.7"/>
<circle cx="548.2" cy="117.3" r="3.1" fill="#c2e2f6" stroke="#fff" stroke-width="0.7"/>
<circle cx="526.3" cy="143.9" r="3.1" fill="#c2e2f6" stroke="#fff" stroke-width="0.7"/>
<circle cx="502.2" cy="148.2" r="3.1" fill="#c2e2f6" stroke="#fff" stroke-width="0.7"/>
<circle cx="441.7" cy="149.2" r="3.1" fill="#c2e2f6" stroke="#fff" stroke-width="0.7"/>
<circle cx="564.8" cy="100.1" r="3.1" fill="#c2e2f6" stroke="#fff" stroke-width="0.7"/>
<circle cx="441.0" cy="143.5" r="3.1" fill="#c2e2f6" stroke="#fff" stroke-width="0.7"/>
<circle cx="553.0" cy="102.7" r="3.1" fill="#c2e2f6" stroke="#fff" stroke-width="0.7"/>
<circle cx="504.4" cy="136.3" r="3.1" fill="#c2e2f6" stroke="#fff" stroke-width="0.7"/>
<circle cx="558.9" cy="119.2" r="3.1" fill="#c2e2f6" stroke="#fff" stroke-width="0.7"/>
<circle cx="514.4" cy="113.4" r="3.1" fill="#c2e2f6" stroke="#fff" stroke-width="0.7"/>
<circle cx="529.0" cy="140.8" r="3.1" fill="#c2e2f6" stroke="#fff" stroke-width="0.7"/>
<circle cx="435.2" cy="160.6" r="3.1" fill="#c2e2f6" stroke="#fff" stroke-width="0.7"/>
<circle cx="588.3" cy="102.1" r="3.1" fill="#c2e2f6" stroke="#fff" stroke-width="0.7"/>
<circle cx="446.1" cy="146.9" r="3.1" fill="#c2e2f6" stroke="#fff" stroke-width="0.7"/>
<circle cx="432.5" cy="153.2" r="3.1" fill="#c2e2f6" stroke="#fff" stroke-width="0.7"/>
<circle cx="479.4" cy="154.4" r="3.1" fill="#c2e2f6" stroke="#fff" stroke-width="0.7"/>
<circle cx="493.4" cy="127.5" r="3.1" fill="#c2e2f6" stroke="#fff" stroke-width="0.7"/>
<circle cx="582.6" cy="127.3" r="3.1" fill="#c2e2f6" stroke="#fff" stroke-width="0.7"/>
<circle cx="540.9" cy="112.1" r="3.1" fill="#c2e2f6" stroke="#fff" stroke-width="0.7"/>
<circle cx="495.6" cy="139.3" r="3.1" fill="#c2e2f6" stroke="#fff" stroke-width="0.7"/>
<circle cx="496.6" cy="120.4" r="3.1" fill="#c2e2f6" stroke="#fff" stroke-width="0.7"/>
<circle cx="504.0" cy="151.4" r="3.1" fill="#c2e2f6" stroke="#fff" stroke-width="0.7"/>
<circle cx="541.6" cy="142.9" r="3.1" fill="#c2e2f6" stroke="#fff" stroke-width="0.7"/>
<circle cx="536.2" cy="135.1" r="3.1" fill="#c2e2f6" stroke="#fff" stroke-width="0.7"/>
<circle cx="571.5" cy="125.3" r="3.1" fill="#c2e2f6" stroke="#fff" stroke-width="0.7"/>
<circle cx="502.1" cy="125.8" r="3.1" fill="#c2e2f6" stroke="#fff" stroke-width="0.7"/>
<circle cx="483.7" cy="133.9" r="3.1" fill="#c2e2f6" stroke="#fff" stroke-width="0.7"/>
<circle cx="462.3" cy="152.5" r="3.1" fill="#c2e2f6" stroke="#fff" stroke-width="0.7"/>
<circle cx="564.8" cy="111.1" r="3.1" fill="#c2e2f6" stroke="#fff" stroke-width="0.7"/>
<circle cx="489.3" cy="127.8" r="3.1" fill="#c2e2f6" stroke="#fff" stroke-width="0.7"/>
<circle cx="455.5" cy="150.3" r="3.1" fill="#c2e2f6" stroke="#fff" stroke-width="0.7"/>
<circle cx="448.6" cy="139.0" r="3.1" fill="#c2e2f6" stroke="#fff" stroke-width="0.7"/>
<circle cx="518.9" cy="156.3" r="3.1" fill="#c2e2f6" stroke="#fff" stroke-width="0.7"/>
<circle cx="578.1" cy="93.5" r="3.1" fill="#c2e2f6" stroke="#fff" stroke-width="0.7"/>
<circle cx="455.8" cy="134.8" r="3.1" fill="#c2e2f6" stroke="#fff" stroke-width="0.7"/>
<circle cx="551.6" cy="121.4" r="3.1" fill="#c2e2f6" stroke="#fff" stroke-width="0.7"/>
<circle cx="577.2" cy="117.8" r="3.1" fill="#c2e2f6" stroke="#fff" stroke-width="0.7"/>
<circle cx="516.8" cy="119.4" r="3.1" fill="#c2e2f6" stroke="#fff" stroke-width="0.7"/>
<circle cx="562.0" cy="105.5" r="3.1" fill="#c2e2f6" stroke="#fff" stroke-width="0.7"/>
<circle cx="478.6" cy="158.2" r="3.1" fill="#c2e2f6" stroke="#fff" stroke-width="0.7"/>
<circle cx="443.2" cy="156.3" r="3.1" fill="#c2e2f6" stroke="#fff" stroke-width="0.7"/>
<circle cx="466.7" cy="156.3" r="3.1" fill="#c2e2f6" stroke="#fff" stroke-width="0.7"/>
<circle cx="525.9" cy="112.2" r="3.1" fill="#c2e2f6" stroke="#fff" stroke-width="0.7"/>
<circle cx="482.7" cy="158.9" r="3.1" fill="#c2e2f6" stroke="#fff" stroke-width="0.7"/>
<circle cx="555.0" cy="112.1" r="3.1" fill="#c2e2f6" stroke="#fff" stroke-width="0.7"/>
<circle cx="539.1" cy="108.3" r="3.1" fill="#c2e2f6" stroke="#fff" stroke-width="0.7"/>
<circle cx="533.2" cy="148.7" r="3.1" fill="#c2e2f6" stroke="#fff" stroke-width="0.7"/>
<circle cx="532.5" cy="106.9" r="3.1" fill="#c2e2f6" stroke="#fff" stroke-width="0.7"/>
<circle cx="513.1" cy="134.8" r="3.1" fill="#c2e2f6" stroke="#fff" stroke-width="0.7"/>
<circle cx="476.0" cy="144.4" r="3.1" fill="#c2e2f6" stroke="#fff" stroke-width="0.7"/>
<circle cx="447.2" cy="150.3" r="3.1" fill="#c2e2f6" stroke="#fff" stroke-width="0.7"/>
<circle cx="581.3" cy="95.4" r="3.1" fill="#c2e2f6" stroke="#fff" stroke-width="0.7"/>
<circle cx="486.1" cy="131.5" r="3.1" fill="#c2e2f6" stroke="#fff" stroke-width="0.7"/>
<circle cx="539.7" cy="124.3" r="3.1" fill="#c2e2f6" stroke="#fff" stroke-width="0.7"/>
<circle cx="447.5" cy="166.1" r="3.1" fill="#c2e2f6" stroke="#fff" stroke-width="0.7"/>
<circle cx="483.8" cy="151.8" r="3.1" fill="#c2e2f6" stroke="#fff" stroke-width="0.7"/>
<circle cx="503.5" cy="156.3" r="3.1" fill="#c2e2f6" stroke="#fff" stroke-width="0.7"/>
<circle cx="486.8" cy="143.8" r="3.1" fill="#c2e2f6" stroke="#fff" stroke-width="0.7"/>
<circle cx="565.6" cy="120.9" r="3.1" fill="#c2e2f6" stroke="#fff" stroke-width="0.7"/>
<circle cx="529.2" cy="125.8" r="3.1" fill="#c2e2f6" stroke="#fff" stroke-width="0.7"/>
<circle cx="480.3" cy="139.5" r="3.1" fill="#c2e2f6" stroke="#fff" stroke-width="0.7"/>
<circle cx="527.3" cy="135.4" r="3.1" fill="#c2e2f6" stroke="#fff" stroke-width="0.7"/>
<circle cx="459.7" cy="149.9" r="3.1" fill="#c2e2f6" stroke="#fff" stroke-width="0.7"/>
<circle cx="575.0" cy="91.4" r="3.1" fill="#c2e2f6" stroke="#fff" stroke-width="0.7"/>
<circle cx="444.9" cy="159.1" r="3.1" fill="#c2e2f6" stroke="#fff" stroke-width="0.7"/>
<circle cx="437.4" cy="153.8" r="3.1" fill="#c2e2f6" stroke="#fff" stroke-width="0.7"/>
<circle cx="457.5" cy="146.2" r="3.1" fill="#c2e2f6" stroke="#fff" stroke-width="0.7"/>
<circle cx="566.8" cy="133.9" r="3.1" fill="#c2e2f6" stroke="#fff" stroke-width="0.7"/>
<circle cx="490.5" cy="154.7" r="3.1" fill="#c2e2f6" stroke="#fff" stroke-width="0.7"/>
<circle cx="581.0" cy="130.4" r="3.1" fill="#c2e2f6" stroke="#fff" stroke-width="0.7"/>
<circle cx="493.7" cy="157.4" r="3.1" fill="#c2e2f6" stroke="#fff" stroke-width="0.7"/>
<circle cx="550.1" cy="134.1" r="3.1" fill="#c2e2f6" stroke="#fff" stroke-width="0.7"/>
<circle cx="504.3" cy="129.0" r="3.1" fill="#c2e2f6" stroke="#fff" stroke-width="0.7"/>
<circle cx="579.2" cy="108.1" r="3.1" fill="#c2e2f6" stroke="#fff" stroke-width="0.7"/>
<circle cx="472.3" cy="152.5" r="3.1" fill="#c2e2f6" stroke="#fff" stroke-width="0.7"/>
<circle cx="510.9" cy="140.7" r="3.1" fill="#c2e2f6" stroke="#fff" stroke-width="0.7"/>
<circle cx="511.6" cy="155.5" r="3.1" fill="#c2e2f6" stroke="#fff" stroke-width="0.7"/>
<circle cx="457.6" cy="169.2" r="3.1" fill="#c2e2f6" stroke="#fff" stroke-width="0.7"/>
<circle cx="475.2" cy="147.7" r="3.1" fill="#c2e2f6" stroke="#fff" stroke-width="0.7"/>
<circle cx="588.3" cy="120.0" r="3.1" fill="#c2e2f6" stroke="#fff" stroke-width="0.7"/>
<circle cx="466.9" cy="147.8" r="3.1" fill="#c2e2f6" stroke="#fff" stroke-width="0.7"/>
<circle cx="437.1" cy="147.5" r="3.1" fill="#c2e2f6" stroke="#fff" stroke-width="0.7"/>
<circle cx="462.3" cy="170.6" r="3.1" fill="#c2e2f6" stroke="#fff" stroke-width="0.7"/>
<circle cx="577.4" cy="128.3" r="3.1" fill="#c2e2f6" stroke="#fff" stroke-width="0.7"/>
<circle cx="492.6" cy="145.3" r="3.1" fill="#c2e2f6" stroke="#fff" stroke-width="0.7"/>
<circle cx="583.2" cy="111.4" r="3.1" fill="#c2e2f6" stroke="#fff" stroke-width="0.7"/>
<circle cx="564.2" cy="130.2" r="3.1" fill="#c2e2f6" stroke="#fff" stroke-width="0.7"/>
<circle cx="525.6" cy="123.2" r="3.1" fill="#c2e2f6" stroke="#fff" stroke-width="0.7"/>
<circle cx="494.0" cy="133.9" r="3.1" fill="#c2e2f6" stroke="#fff" stroke-width="0.7"/>
<circle cx="524.4" cy="119.2" r="3.1" fill="#c2e2f6" stroke="#fff" stroke-width="0.7"/>
<circle cx="468.1" cy="137.4" r="3.1" fill="#c2e2f6" stroke="#fff" stroke-width="0.7"/>
<circle cx="464.6" cy="167.2" r="3.1" fill="#c2e2f6" stroke="#fff" stroke-width="0.7"/>
<circle cx="505.6" cy="140.8" r="3.1" fill="#c2e2f6" stroke="#fff" stroke-width="0.7"/>
<circle cx="447.0" cy="162.4" r="3.1" fill="#c2e2f6" stroke="#fff" stroke-width="0.7"/>
<circle cx="514.5" cy="151.8" r="3.1" fill="#c2e2f6" stroke="#fff" stroke-width="0.7"/>
<circle cx="479.7" cy="147.5" r="3.1" fill="#c2e2f6" stroke="#fff" stroke-width="0.7"/>
<circle cx="533.9" cy="110.9" r="3.1" fill="#c2e2f6" stroke="#fff" stroke-width="0.7"/>
<circle cx="502.5" cy="142.4" r="3.1" fill="#c2e2f6" stroke="#fff" stroke-width="0.7"/>
<circle cx="462.8" cy="135.1" r="3.1" fill="#c2e2f6" stroke="#fff" stroke-width="0.7"/>
<circle cx="510.8" cy="127.4" r="3.1" fill="#c2e2f6" stroke="#fff" stroke-width="0.7"/>
<circle cx="487.6" cy="151.5" r="3.1" fill="#c2e2f6" stroke="#fff" stroke-width="0.7"/>
<circle cx="573.4" cy="110.8" r="3.1" fill="#c2e2f6" stroke="#fff" stroke-width="0.7"/>
<circle cx="508.7" cy="121.5" r="3.1" fill="#c2e2f6" stroke="#fff" stroke-width="0.7"/>
<circle cx="553.7" cy="144.4" r="3.1" fill="#c2e2f6" stroke="#fff" stroke-width="0.7"/>
<circle cx="528.8" cy="108.6" r="3.1" fill="#c2e2f6" stroke="#fff" stroke-width="0.7"/>
<circle cx="511.8" cy="144.3" r="3.1" fill="#c2e2f6" stroke="#fff" stroke-width="0.7"/>
<circle cx="490.1" cy="147.7" r="3.1" fill="#c2e2f6" stroke="#fff" stroke-width="0.7"/>
<circle cx="578.2" cy="122.0" r="3.1" fill="#c2e2f6" stroke="#fff" stroke-width="0.7"/>
<circle cx="551.2" cy="109.2" r="3.1" fill="#c2e2f6" stroke="#fff" stroke-width="0.7"/>
<circle cx="546.1" cy="137.1" r="3.1" fill="#c2e2f6" stroke="#fff" stroke-width="0.7"/>
<circle cx="506.0" cy="158.7" r="3.1" fill="#c2e2f6" stroke="#fff" stroke-width="0.7"/>
<circle cx="588.7" cy="105.9" r="3.1" fill="#c2e2f6" stroke="#fff" stroke-width="0.7"/>
<circle cx="544.8" cy="146.7" r="3.1" fill="#c2e2f6" stroke="#fff" stroke-width="0.7"/>
<circle cx="556.8" cy="138.9" r="3.1" fill="#c2e2f6" stroke="#fff" stroke-width="0.7"/>
<circle cx="499.4" cy="159.2" r="3.1" fill="#c2e2f6" stroke="#fff" stroke-width="0.7"/>
<circle cx="581.5" cy="122.5" r="3.1" fill="#c2e2f6" stroke="#fff" stroke-width="0.7"/>
<circle cx="484.7" cy="155.1" r="3.1" fill="#c2e2f6" stroke="#fff" stroke-width="0.7"/>
<circle cx="516.0" cy="143.2" r="3.1" fill="#c2e2f6" stroke="#fff" stroke-width="0.7"/>
<circle cx="510.0" cy="137.0" r="3.1" fill="#c2e2f6" stroke="#fff" stroke-width="0.7"/>
<circle cx="439.8" cy="165.1" r="3.1" fill="#c2e2f6" stroke="#fff" stroke-width="0.7"/>
<circle cx="482.4" cy="144.5" r="3.1" fill="#c2e2f6" stroke="#fff" stroke-width="0.7"/>
<circle cx="470.1" cy="155.2" r="3.1" fill="#c2e2f6" stroke="#fff" stroke-width="0.7"/>
<circle cx="521.8" cy="152.3" r="3.1" fill="#c2e2f6" stroke="#fff" stroke-width="0.7"/>
<circle cx="432.0" cy="149.4" r="3.1" fill="#c2e2f6" stroke="#fff" stroke-width="0.7"/>
<circle cx="478.3" cy="150.7" r="3.1" fill="#c2e2f6" stroke="#fff" stroke-width="0.7"/>
<circle cx="514.8" cy="124.8" r="3.1" fill="#c2e2f6" stroke="#fff" stroke-width="0.7"/>
<circle cx="454.8" cy="163.5" r="3.1" fill="#c2e2f6" stroke="#fff" stroke-width="0.7"/>
<circle cx="570.0" cy="106.2" r="3.1" fill="#c2e2f6" stroke="#fff" stroke-width="0.7"/>
<circle cx="575.5" cy="95.6" r="3.1" fill="#c2e2f6" stroke="#fff" stroke-width="0.7"/>
<circle cx="588.0" cy="112.9" r="3.1" fill="#c2e2f6" stroke="#fff" stroke-width="0.7"/>
<circle cx="480.1" cy="128.3" r="3.1" fill="#c2e2f6" stroke="#fff" stroke-width="0.7"/>
<circle cx="470.6" cy="145.2" r="3.1" fill="#c2e2f6" stroke="#fff" stroke-width="0.7"/>
<circle cx="538.2" cy="127.7" r="3.1" fill="#c2e2f6" stroke="#fff" stroke-width="0.7"/>
<circle cx="566.7" cy="116.0" r="3.1" fill="#c2e2f6" stroke="#fff" stroke-width="0.7"/>
<circle cx="572.7" cy="118.0" r="3.1" fill="#c2e2f6" stroke="#fff" stroke-width="0.7"/>
<circle cx="465.0" cy="139.6" r="3.1" fill="#c2e2f6" stroke="#fff" stroke-width="0.7"/>
<circle cx="573.5" cy="133.7" r="3.1" fill="#c2e2f6" stroke="#fff" stroke-width="0.7"/>
<circle cx="509.7" cy="150.5" r="3.1" fill="#c2e2f6" stroke="#fff" stroke-width="0.7"/>
<circle cx="453.2" cy="169.3" r="3.1" fill="#c2e2f6" stroke="#fff" stroke-width="0.7"/>
<circle cx="539.6" cy="104.0" r="3.1" fill="#c2e2f6" stroke="#fff" stroke-width="0.7"/>
<circle cx="486.9" cy="137.0" r="3.1" fill="#c2e2f6" stroke="#fff" stroke-width="0.7"/>
<circle cx="459.0" cy="141.4" r="3.1" fill="#c2e2f6" stroke="#fff" stroke-width="0.7"/>
<circle cx="513.6" cy="130.1" r="3.1" fill="#c2e2f6" stroke="#fff" stroke-width="0.7"/>
<circle cx="581.7" cy="116.0" r="3.1" fill="#c2e2f6" stroke="#fff" stroke-width="0.7"/>
<circle cx="529.1" cy="129.2" r="3.1" fill="#c2e2f6" stroke="#fff" stroke-width="0.7"/>
<circle cx="546.1" cy="120.7" r="3.1" fill="#c2e2f6" stroke="#fff" stroke-width="0.7"/>
<circle cx="557.1" cy="142.3" r="3.1" fill="#c2e2f6" stroke="#fff" stroke-width="0.7"/>
<circle cx="462.6" cy="147.8" r="3.1" fill="#c2e2f6" stroke="#fff" stroke-width="0.7"/>
<circle cx="472.3" cy="128.8" r="3.1" fill="#c2e2f6" stroke="#fff" stroke-width="0.7"/>
<circle cx="435.6" cy="157.3" r="3.1" fill="#c2e2f6" stroke="#fff" stroke-width="0.7"/>
<circle cx="488.5" cy="140.4" r="3.1" fill="#c2e2f6" stroke="#fff" stroke-width="0.7"/>
<circle cx="538.8" cy="146.0" r="3.1" fill="#c2e2f6" stroke="#fff" stroke-width="0.7"/>
<circle cx="523.8" cy="139.4" r="3.1" fill="#c2e2f6" stroke="#fff" stroke-width="0.7"/>
<circle cx="477.4" cy="161.5" r="3.1" fill="#c2e2f6" stroke="#fff" stroke-width="0.7"/>
<circle cx="586.6" cy="116.7" r="3.1" fill="#c2e2f6" stroke="#fff" stroke-width="0.7"/>
<circle cx="566.8" cy="141.2" r="3.1" fill="#c2e2f6" stroke="#fff" stroke-width="0.7"/>
<circle cx="506.4" cy="132.5" r="3.1" fill="#c2e2f6" stroke="#fff" stroke-width="0.7"/>
<circle cx="552.1" cy="126.1" r="3.1" fill="#c2e2f6" stroke="#fff" stroke-width="0.7"/>
<circle cx="515.2" cy="147.3" r="3.1" fill="#c2e2f6" stroke="#fff" stroke-width="0.7"/>
<circle cx="518.5" cy="138.7" r="3.1" fill="#c2e2f6" stroke="#fff" stroke-width="0.7"/>
<circle cx="523.0" cy="114.3" r="3.1" fill="#c2e2f6" stroke="#fff" stroke-width="0.7"/>
<circle cx="560.8" cy="132.0" r="3.1" fill="#c2e2f6" stroke="#fff" stroke-width="0.7"/>
<circle cx="552.7" cy="116.6" r="3.1" fill="#c2e2f6" stroke="#fff" stroke-width="0.7"/>
<circle cx="556.9" cy="125.3" r="3.1" fill="#c2e2f6" stroke="#fff" stroke-width="0.7"/>
<circle cx="468.4" cy="151.0" r="3.1" fill="#c2e2f6" stroke="#fff" stroke-width="0.7"/>
<circle cx="528.0" cy="150.5" r="3.1" fill="#c2e2f6" stroke="#fff" stroke-width="0.7"/>
<circle cx="496.5" cy="131.0" r="3.1" fill="#c2e2f6" stroke="#fff" stroke-width="0.7"/>
<circle cx="561.0" cy="110.9" r="3.1" fill="#c2e2f6" stroke="#fff" stroke-width="0.7"/>
<circle cx="490.2" cy="163.2" r="3.1" fill="#c2e2f6" stroke="#fff" stroke-width="0.7"/>
<circle cx="474.0" cy="156.3" r="3.1" fill="#c2e2f6" stroke="#fff" stroke-width="0.7"/>
<circle cx="523.9" cy="133.7" r="3.1" fill="#c2e2f6" stroke="#fff" stroke-width="0.7"/>
<circle cx="506.9" cy="146.7" r="3.1" fill="#c2e2f6" stroke="#fff" stroke-width="0.7"/>
<circle cx="518.2" cy="131.1" r="3.1" fill="#c2e2f6" stroke="#fff" stroke-width="0.7"/>
<circle cx="576.8" cy="101.5" r="3.1" fill="#c2e2f6" stroke="#fff" stroke-width="0.7"/>
<circle cx="481.9" cy="164.0" r="3.1" fill="#c2e2f6" stroke="#fff" stroke-width="0.7"/>
<circle cx="478.0" cy="135.9" r="3.1" fill="#c2e2f6" stroke="#fff" stroke-width="0.7"/>
<circle cx="501.3" cy="120.9" r="3.1" fill="#c2e2f6" stroke="#fff" stroke-width="0.7"/>
<circle cx="527.2" cy="155.1" r="3.1" fill="#c2e2f6" stroke="#fff" stroke-width="0.7"/>
<circle cx="590.0" cy="124.9" r="3.1" fill="#c2e2f6" stroke="#fff" stroke-width="0.7"/>
<circle cx="471.5" cy="133.1" r="3.1" fill="#c2e2f6" stroke="#fff" stroke-width="0.7"/>
<circle cx="529.9" cy="112.3" r="3.1" fill="#c2e2f6" stroke="#fff" stroke-width="0.7"/>
<circle cx="547.4" cy="112.4" r="3.1" fill="#c2e2f6" stroke="#fff" stroke-width="0.7"/>
<circle cx="556.7" cy="107.7" r="3.1" fill="#c2e2f6" stroke="#fff" stroke-width="0.7"/>
<circle cx="512.2" cy="120.6" r="3.1" fill="#c2e2f6" stroke="#fff" stroke-width="0.7"/>
<circle cx="493.9" cy="122.9" r="3.1" fill="#c2e2f6" stroke="#fff" stroke-width="0.7"/>
<circle cx="531.6" cy="131.9" r="3.1" fill="#c2e2f6" stroke="#fff" stroke-width="0.7"/>
<circle cx="496.3" cy="146.9" r="3.1" fill="#c2e2f6" stroke="#fff" stroke-width="0.7"/>
<circle cx="537.4" cy="114.7" r="3.1" fill="#c2e2f6" stroke="#fff" stroke-width="0.7"/>
<circle cx="471.0" cy="165.0" r="3.1" fill="#c2e2f6" stroke="#fff" stroke-width="0.7"/>
<circle cx="462.8" cy="162.1" r="3.1" fill="#c2e2f6" stroke="#fff" stroke-width="0.7"/>
<circle cx="573.4" cy="121.9" r="3.1" fill="#c2e2f6" stroke="#fff" stroke-width="0.7"/>
<circle cx="543.4" cy="108.2" r="3.1" fill="#c2e2f6" stroke="#fff" stroke-width="0.7"/>
<circle cx="455.4" cy="138.6" r="3.1" fill="#c2e2f6" stroke="#fff" stroke-width="0.7"/>
<circle cx="486.5" cy="159.7" r="3.1" fill="#c2e2f6" stroke="#fff" stroke-width="0.7"/>
<circle cx="572.4" cy="101.7" r="3.1" fill="#c2e2f6" stroke="#fff" stroke-width="0.7"/>
<circle cx="557.9" cy="115.2" r="3.1" fill="#c2e2f6" stroke="#fff" stroke-width="0.7"/>
<circle cx="538.5" cy="149.9" r="3.1" fill="#c2e2f6" stroke="#fff" stroke-width="0.7"/>
<circle cx="518.3" cy="124.3" r="3.1" fill="#c2e2f6" stroke="#fff" stroke-width="0.7"/>
<circle cx="540.0" cy="131.5" r="3.1" fill="#c2e2f6" stroke="#fff" stroke-width="0.7"/>
<circle cx="479.0" cy="132.2" r="3.1" fill="#c2e2f6" stroke="#fff" stroke-width="0.7"/>
<circle cx="484.0" cy="128.7" r="3.1" fill="#c2e2f6" stroke="#fff" stroke-width="0.7"/>
<circle cx="570.2" cy="140.0" r="3.1" fill="#c2e2f6" stroke="#fff" stroke-width="0.7"/>
<circle cx="569.4" cy="111.8" r="3.1" fill="#c2e2f6" stroke="#fff" stroke-width="0.7"/>
<circle cx="555.7" cy="121.7" r="3.1" fill="#c2e2f6" stroke="#fff" stroke-width="0.7"/>
<circle cx="550.1" cy="138.4" r="3.1" fill="#c2e2f6" stroke="#fff" stroke-width="0.7"/>
<circle cx="502.3" cy="162.1" r="3.1" fill="#c2e2f6" stroke="#fff" stroke-width="0.7"/>
<circle cx="466.6" cy="142.7" r="3.1" fill="#c2e2f6" stroke="#fff" stroke-width="0.7"/>
<circle cx="578.1" cy="113.8" r="3.1" fill="#c2e2f6" stroke="#fff" stroke-width="0.7"/>
<circle cx="474.1" cy="135.2" r="3.1" fill="#c2e2f6" stroke="#fff" stroke-width="0.7"/>
<circle cx="560.8" cy="136.3" r="3.1" fill="#c2e2f6" stroke="#fff" stroke-width="0.7"/>
<circle cx="544.1" cy="117.8" r="3.1" fill="#c2e2f6" stroke="#fff" stroke-width="0.7"/>
<circle cx="522.6" cy="109.1" r="3.1" fill="#c2e2f6" stroke="#fff" stroke-width="0.7"/>
<circle cx="520.9" cy="142.7" r="3.1" fill="#c2e2f6" stroke="#fff" stroke-width="0.7"/>
<circle cx="569.3" cy="122.4" r="3.1" fill="#c2e2f6" stroke="#fff" stroke-width="0.7"/>
<circle cx="546.2" cy="105.5" r="3.1" fill="#c2e2f6" stroke="#fff" stroke-width="0.7"/>
<circle cx="498.3" cy="124.0" r="3.1" fill="#c2e2f6" stroke="#fff" stroke-width="0.7"/>
<circle cx="450.6" cy="145.8" r="3.1" fill="#c2e2f6" stroke="#fff" stroke-width="0.7"/>
<circle cx="507.7" cy="143.3" r="3.1" fill="#c2e2f6" stroke="#fff" stroke-width="0.7"/>
<circle cx="462.0" cy="144.0" r="3.1" fill="#c2e2f6" stroke="#fff" stroke-width="0.7"/>
<circle cx="484.3" cy="125.2" r="3.1" fill="#c2e2f6" stroke="#fff" stroke-width="0.7"/>
<circle cx="506.4" cy="116.7" r="3.1" fill="#c2e2f6" stroke="#fff" stroke-width="0.7"/>
<circle cx="563.3" cy="117.1" r="3.1" fill="#c2e2f6" stroke="#fff" stroke-width="0.7"/>
<circle cx="453.9" cy="156.6" r="3.1" fill="#c2e2f6" stroke="#fff" stroke-width="0.7"/>
<circle cx="441.7" cy="152.7" r="3.1" fill="#c2e2f6" stroke="#fff" stroke-width="0.7"/>
<circle cx="505.7" cy="123.4" r="3.1" fill="#c2e2f6" stroke="#fff" stroke-width="0.7"/>
<circle cx="585.0" cy="108.4" r="3.1" fill="#c2e2f6" stroke="#fff" stroke-width="0.7"/>
<circle cx="489.9" cy="124.0" r="3.1" fill="#c2e2f6" stroke="#fff" stroke-width="0.7"/>
<circle cx="445.0" cy="169.4" r="3.1" fill="#c2e2f6" stroke="#fff" stroke-width="0.7"/>
<circle cx="443.0" cy="162.5" r="3.1" fill="#c2e2f6" stroke="#fff" stroke-width="0.7"/>
<circle cx="456.6" cy="154.5" r="3.1" fill="#c2e2f6" stroke="#fff" stroke-width="0.7"/>
<circle cx="550.0" cy="142.7" r="3.1" fill="#c2e2f6" stroke="#fff" stroke-width="0.7"/>
<circle cx="530.9" cy="135.5" r="3.1" fill="#c2e2f6" stroke="#fff" stroke-width="0.7"/>
<circle cx="464.1" cy="158.5" r="3.1" fill="#c2e2f6" stroke="#fff" stroke-width="0.7"/>
<circle cx="521.5" cy="147.8" r="3.1" fill="#c2e2f6" stroke="#fff" stroke-width="0.7"/>
<circle cx="465.7" cy="130.5" r="3.1" fill="#c2e2f6" stroke="#fff" stroke-width="0.7"/>
<circle cx="520.7" cy="118.8" r="3.1" fill="#c2e2f6" stroke="#fff" stroke-width="0.7"/>
<circle cx="520.3" cy="111.9" r="3.1" fill="#c2e2f6" stroke="#fff" stroke-width="0.7"/>
<circle cx="577.8" cy="132.3" r="3.1" fill="#c2e2f6" stroke="#fff" stroke-width="0.7"/>
<circle cx="494.8" cy="152.6" r="3.1" fill="#c2e2f6" stroke="#fff" stroke-width="0.7"/>
<circle cx="553.5" cy="134.9" r="3.1" fill="#c2e2f6" stroke="#fff" stroke-width="0.7"/>
<circle cx="494.2" cy="162.7" r="3.1" fill="#c2e2f6" stroke="#fff" stroke-width="0.7"/>
<circle cx="570.2" cy="115.5" r="3.1" fill="#c2e2f6" stroke="#fff" stroke-width="0.7"/>
<circle cx="533.8" cy="143.9" r="3.1" fill="#c2e2f6" stroke="#fff" stroke-width="0.7"/>
<circle cx="521.4" cy="129.6" r="3.1" fill="#c2e2f6" stroke="#fff" stroke-width="0.7"/>
<circle cx="529.4" cy="115.7" r="3.1" fill="#c2e2f6" stroke="#fff" stroke-width="0.7"/>
<circle cx="531.7" cy="119.4" r="3.1" fill="#c2e2f6" stroke="#fff" stroke-width="0.7"/>
<circle cx="529.0" cy="121.5" r="3.1" fill="#c2e2f6" stroke="#fff" stroke-width="0.7"/>
<circle cx="573.9" cy="137.2" r="3.1" fill="#c2e2f6" stroke="#fff" stroke-width="0.7"/>
<circle cx="563.7" cy="142.4" r="3.1" fill="#c2e2f6" stroke="#fff" stroke-width="0.7"/>
<circle cx="523.7" cy="155.1" r="3.1" fill="#c2e2f6" stroke="#fff" stroke-width="0.7"/>
<circle cx="557.5" cy="99.4" r="3.1" fill="#c2e2f6" stroke="#fff" stroke-width="0.7"/>
<circle cx="560.5" cy="95.1" r="3.1" fill="#c2e2f6" stroke="#fff" stroke-width="0.7"/>
<circle cx="459.1" cy="156.9" r="3.1" fill="#c2e2f6" stroke="#fff" stroke-width="0.7"/>
<circle cx="581.2" cy="100.4" r="3.1" fill="#c2e2f6" stroke="#fff" stroke-width="0.7"/>
<circle cx="459.6" cy="136.6" r="3.1" fill="#c2e2f6" stroke="#fff" stroke-width="0.7"/>
<circle cx="572.8" cy="130.1" r="3.1" fill="#c2e2f6" stroke="#fff" stroke-width="0.7"/>
<circle cx="473.1" cy="160.3" r="3.1" fill="#c2e2f6" stroke="#fff" stroke-width="0.7"/>
<circle cx="589.8" cy="98.0" r="3.1" fill="#c2e2f6" stroke="#fff" stroke-width="0.7"/>
<circle cx="458.8" cy="164.8" r="3.1" fill="#c2e2f6" stroke="#fff" stroke-width="0.7"/>
<circle cx="585.1" cy="94.9" r="3.1" fill="#c2e2f6" stroke="#fff" stroke-width="0.7"/>
<circle cx="507.0" cy="155.1" r="3.1" fill="#c2e2f6" stroke="#fff" stroke-width="0.7"/>
<circle cx="567.7" cy="129.5" r="3.1" fill="#c2e2f6" stroke="#fff" stroke-width="0.7"/>
<circle cx="548.4" cy="147.2" r="3.1" fill="#c2e2f6" stroke="#fff" stroke-width="0.7"/>
<circle cx="453.9" cy="160.2" r="3.1" fill="#c2e2f6" stroke="#fff" stroke-width="0.7"/>
<circle cx="576.2" cy="124.7" r="3.1" fill="#c2e2f6" stroke="#fff" stroke-width="0.7"/>
<circle cx="553.2" cy="129.5" r="3.1" fill="#c2e2f6" stroke="#fff" stroke-width="0.7"/>
<circle cx="501.5" cy="138.6" r="3.1" fill="#c2e2f6" stroke="#fff" stroke-width="0.7"/>
<circle cx="544.9" cy="133.7" r="3.1" fill="#c2e2f6" stroke="#fff" stroke-width="0.7"/>
<circle cx="561.3" cy="102.1" r="3.1" fill="#c2e2f6" stroke="#fff" stroke-width="0.7"/>
<circle cx="467.8" cy="169.0" r="3.1" fill="#c2e2f6" stroke="#fff" stroke-width="0.7"/>
<circle cx="499.5" cy="150.4" r="3.1" fill="#c2e2f6" stroke="#fff" stroke-width="0.7"/>
<circle cx="535.1" cy="151.8" r="3.1" fill="#c2e2f6" stroke="#fff" stroke-width="0.7"/>
<circle cx="443.2" cy="166.3" r="3.1" fill="#c2e2f6" stroke="#fff" stroke-width="0.7"/>
<circle cx="491.2" cy="131.6" r="3.1" fill="#c2e2f6" stroke="#fff" stroke-width="0.7"/>
<circle cx="509.7" cy="133.5" r="3.1" fill="#c2e2f6" stroke="#fff" stroke-width="0.7"/>
<circle cx="546.6" cy="127.7" r="3.1" fill="#c2e2f6" stroke="#fff" stroke-width="0.7"/>
<circle cx="531.8" cy="152.1" r="3.1" fill="#c2e2f6" stroke="#fff" stroke-width="0.7"/>
<circle cx="524.4" cy="149.8" r="3.1" fill="#c2e2f6" stroke="#fff" stroke-width="0.7"/>
<circle cx="444.8" cy="141.3" r="3.1" fill="#c2e2f6" stroke="#fff" stroke-width="0.7"/>
<circle cx="578.4" cy="97.3" r="3.1" fill="#c2e2f6" stroke="#fff" stroke-width="0.7"/>
<circle cx="525.0" cy="129.4" r="3.1" fill="#c2e2f6" stroke="#fff" stroke-width="0.7"/>
<circle cx="472.0" cy="138.4" r="3.1" fill="#c2e2f6" stroke="#fff" stroke-width="0.7"/>
<circle cx="498.0" cy="127.9" r="3.1" fill="#c2e2f6" stroke="#fff" stroke-width="0.7"/>
<circle cx="475.8" cy="165.3" r="3.1" fill="#c2e2f6" stroke="#fff" stroke-width="0.7"/>
<circle cx="475.4" cy="131.5" r="3.1" fill="#c2e2f6" stroke="#fff" stroke-width="0.7"/>
<circle cx="495.9" cy="143.6" r="3.1" fill="#c2e2f6" stroke="#fff" stroke-width="0.7"/>
<circle cx="452.4" cy="152.9" r="3.1" fill="#c2e2f6" stroke="#fff" stroke-width="0.7"/>
<circle cx="535.8" cy="105.4" r="3.1" fill="#c2e2f6" stroke="#fff" stroke-width="0.7"/>
<circle cx="568.5" cy="92.2" r="3.1" fill="#c2e2f6" stroke="#fff" stroke-width="0.7"/>
<circle cx="551.7" cy="99.1" r="3.1" fill="#c2e2f6" stroke="#fff" stroke-width="0.7"/>
<circle cx="566.4" cy="103.1" r="3.1" fill="#c2e2f6" stroke="#fff" stroke-width="0.7"/>
<circle cx="450.4" cy="149.2" r="3.1" fill="#c2e2f6" stroke="#fff" stroke-width="0.7"/>
<circle cx="515.3" cy="156.0" r="3.1" fill="#c2e2f6" stroke="#fff" stroke-width="0.7"/>
<circle cx="549.0" cy="102.6" r="3.1" fill="#c2e2f6" stroke="#fff" stroke-width="0.7"/>
<circle cx="432.2" cy="159.0" r="3.1" fill="#c2e2f6" stroke="#fff" stroke-width="0.7"/>
<circle cx="553.3" cy="139.5" r="3.1" fill="#c2e2f6" stroke="#fff" stroke-width="0.7"/>
<circle cx="586.0" cy="127.3" r="3.1" fill="#c2e2f6" stroke="#fff" stroke-width="0.7"/>
<circle cx="559.3" cy="128.7" r="3.1" fill="#c2e2f6" stroke="#fff" stroke-width="0.7"/>
<circle cx="504.7" cy="120.1" r="3.1" fill="#c2e2f6" stroke="#fff" stroke-width="0.7"/>
<circle cx="560.8" cy="125.4" r="3.1" fill="#c2e2f6" stroke="#fff" stroke-width="0.7"/>
<circle cx="517.5" cy="115.6" r="3.1" fill="#c2e2f6" stroke="#fff" stroke-width="0.7"/>
<circle cx="583.9" cy="102.5" r="3.1" fill="#c2e2f6" stroke="#fff" stroke-width="0.7"/>
<circle cx="512.5" cy="158.9" r="3.1" fill="#c2e2f6" stroke="#fff" stroke-width="0.7"/>
<circle cx="565.6" cy="106.8" r="3.1" fill="#c2e2f6" stroke="#fff" stroke-width="0.7"/>
<circle cx="563.3" cy="138.7" r="3.1" fill="#c2e2f6" stroke="#fff" stroke-width="0.7"/>
<circle cx="562.6" cy="122.5" r="3.1" fill="#c2e2f6" stroke="#fff" stroke-width="0.7"/>
<circle cx="453.8" cy="147.2" r="3.1" fill="#c2e2f6" stroke="#fff" stroke-width="0.7"/>
<circle cx="521.4" cy="136.5" r="3.1" fill="#c2e2f6" stroke="#fff" stroke-width="0.7"/>
<circle cx="574.6" cy="114.7" r="3.1" fill="#c2e2f6" stroke="#fff" stroke-width="0.7"/>
<circle cx="563.8" cy="126.8" r="3.1" fill="#c2e2f6" stroke="#fff" stroke-width="0.7"/>
<circle cx="522.1" cy="125.0" r="3.1" fill="#c2e2f6" stroke="#fff" stroke-width="0.7"/>
<circle cx="467.8" cy="133.4" r="3.1" fill="#c2e2f6" stroke="#fff" stroke-width="0.7"/>
<circle cx="486.1" cy="163.3" r="3.1" fill="#c2e2f6" stroke="#fff" stroke-width="0.7"/>
<circle cx="462.6" cy="131.6" r="3.1" fill="#c2e2f6" stroke="#fff" stroke-width="0.7"/>
<circle cx="491.5" cy="137.9" r="3.1" fill="#c2e2f6" stroke="#fff" stroke-width="0.7"/>
<circle cx="544.2" cy="140.8" r="3.1" fill="#c2e2f6" stroke="#fff" stroke-width="0.7"/>
<circle cx="542.7" cy="102.1" r="3.1" fill="#c2e2f6" stroke="#fff" stroke-width="0.7"/>
<circle cx="518.0" cy="150.0" r="3.1" fill="#c2e2f6" stroke="#fff" stroke-width="0.7"/>
<circle cx="543.2" cy="124.7" r="3.1" fill="#c2e2f6" stroke="#fff" stroke-width="0.7"/>
<circle cx="449.3" cy="142.7" r="3.1" fill="#c2e2f6" stroke="#fff" stroke-width="0.7"/>
<circle cx="466.1" cy="162.2" r="3.1" fill="#c2e2f6" stroke="#fff" stroke-width="0.7"/>
<circle cx="502.9" cy="117.2" r="3.1" fill="#c2e2f6" stroke="#fff" stroke-width="0.7"/>
<circle cx="549.7" cy="128.9" r="3.1" fill="#c2e2f6" stroke="#fff" stroke-width="0.7"/>
<circle cx="452.2" cy="137.2" r="3.1" fill="#c2e2f6" stroke="#fff" stroke-width="0.7"/>
<circle cx="451.4" cy="166.5" r="3.1" fill="#c2e2f6" stroke="#fff" stroke-width="0.7"/>
<circle cx="549.5" cy="105.8" r="3.1" fill="#c2e2f6" stroke="#fff" stroke-width="0.7"/>
<circle cx="569.3" cy="99.9" r="3.1" fill="#c2e2f6" stroke="#fff" stroke-width="0.7"/>
<circle cx="575.1" cy="105.4" r="3.1" fill="#c2e2f6" stroke="#fff" stroke-width="0.7"/>
<circle cx="488.5" cy="134.0" r="3.1" fill="#c2e2f6" stroke="#fff" stroke-width="0.7"/>
<circle cx="553.4" cy="106.7" r="3.1" fill="#c2e2f6" stroke="#fff" stroke-width="0.7"/>
<circle cx="518.3" cy="145.8" r="3.1" fill="#c2e2f6" stroke="#fff" stroke-width="0.7"/>
<circle cx="537.3" cy="111.4" r="3.1" fill="#c2e2f6" stroke="#fff" stroke-width="0.7"/>
<circle cx="584.5" cy="120.1" r="3.1" fill="#c2e2f6" stroke="#fff" stroke-width="0.7"/>
<circle cx="509.2" cy="159.6" r="3.1" fill="#c2e2f6" stroke="#fff" stroke-width="0.7"/>
<circle cx="492.6" cy="141.8" r="3.1" fill="#c2e2f6" stroke="#fff" stroke-width="0.7"/>
<circle cx="490.3" cy="159.8" r="3.1" fill="#c2e2f6" stroke="#fff" stroke-width="0.7"/>
<circle cx="484.5" cy="141.3" r="3.1" fill="#c2e2f6" stroke="#fff" stroke-width="0.7"/>
<circle cx="471.4" cy="148.7" r="3.1" fill="#c2e2f6" stroke="#fff" stroke-width="0.7"/>
<circle cx="514.9" cy="139.2" r="3.1" fill="#c2e2f6" stroke="#fff" stroke-width="0.7"/>
<circle cx="589.3" cy="109.5" r="3.1" fill="#c2e2f6" stroke="#fff" stroke-width="0.7"/>
<circle cx="547.1" cy="109.0" r="3.1" fill="#c2e2f6" stroke="#fff" stroke-width="0.7"/>
<circle cx="550.7" cy="113.7" r="3.1" fill="#c2e2f6" stroke="#fff" stroke-width="0.7"/>
<circle cx="530.4" cy="143.8" r="3.1" fill="#c2e2f6" stroke="#fff" stroke-width="0.7"/>
<circle cx="538.7" cy="137.7" r="3.1" fill="#c2e2f6" stroke="#fff" stroke-width="0.7"/>
<circle cx="538.0" cy="142.5" r="3.1" fill="#c2e2f6" stroke="#fff" stroke-width="0.7"/>
<circle cx="560.2" cy="143.9" r="3.1" fill="#c2e2f6" stroke="#fff" stroke-width="0.7"/>
<circle cx="435.2" cy="150.7" r="3.1" fill="#c2e2f6" stroke="#fff" stroke-width="0.7"/>
<circle cx="572.2" cy="93.5" r="3.1" fill="#c2e2f6" stroke="#fff" stroke-width="0.7"/>
<circle cx="439.8" cy="156.0" r="3.1" fill="#c2e2f6" stroke="#fff" stroke-width="0.7"/>
<circle cx="556.2" cy="131.0" r="3.1" fill="#c2e2f6" stroke="#fff" stroke-width="0.7"/>
<circle cx="541.3" cy="115.8" r="3.1" fill="#c2e2f6" stroke="#fff" stroke-width="0.7"/>
<circle cx="542.3" cy="120.6" r="3.1" fill="#c2e2f6" stroke="#fff" stroke-width="0.7"/>
<circle cx="544.1" cy="113.9" r="3.1" fill="#c2e2f6" stroke="#fff" stroke-width="0.7"/>
<circle cx="491.5" cy="150.9" r="3.1" fill="#c2e2f6" stroke="#fff" stroke-width="0.7"/>
<circle cx="532.3" cy="138.6" r="3.1" fill="#c2e2f6" stroke="#fff" stroke-width="0.7"/>
<circle cx="560.9" cy="98.5" r="3.1" fill="#c2e2f6" stroke="#fff" stroke-width="0.7"/>
<circle cx="509.5" cy="117.8" r="3.1" fill="#c2e2f6" stroke="#fff" stroke-width="0.7"/>
<circle cx="483.6" cy="138.1" r="3.1" fill="#c2e2f6" stroke="#fff" stroke-width="0.7"/>
<circle cx="525.9" cy="116.0" r="3.1" fill="#c2e2f6" stroke="#fff" stroke-width="0.7"/>
<circle cx="571.5" cy="89.7" r="3.1" fill="#c2e2f6" stroke="#fff" stroke-width="0.7"/>
<circle cx="555.7" cy="118.1" r="3.1" fill="#c2e2f6" stroke="#fff" stroke-width="0.7"/>
<circle cx="468.8" cy="129.0" r="3.1" fill="#c2e2f6" stroke="#fff" stroke-width="0.7"/>
<circle cx="497.8" cy="162.4" r="3.1" fill="#c2e2f6" stroke="#fff" stroke-width="0.7"/>
<circle cx="546.9" cy="144.1" r="3.1" fill="#c2e2f6" stroke="#fff" stroke-width="0.7"/>
<circle cx="479.2" cy="143.2" r="3.1" fill="#c2e2f6" stroke="#fff" stroke-width="0.7"/>
<circle cx="499.2" cy="141.2" r="3.1" fill="#c2e2f6" stroke="#fff" stroke-width="0.7"/>
<circle cx="507.3" cy="126.7" r="3.1" fill="#c2e2f6" stroke="#fff" stroke-width="0.7"/>
<circle cx="555.1" cy="96.7" r="3.1" fill="#c2e2f6" stroke="#fff" stroke-width="0.7"/>
<circle cx="535.4" cy="119.0" r="3.1" fill="#c2e2f6" stroke="#fff" stroke-width="0.7"/>
<circle cx="499.9" cy="145.7" r="3.1" fill="#c2e2f6" stroke="#fff" stroke-width="0.7"/>
<circle cx="541.5" cy="148.5" r="3.1" fill="#c2e2f6" stroke="#fff" stroke-width="0.7"/>
<circle cx="577.0" cy="135.6" r="3.1" fill="#c2e2f6" stroke="#fff" stroke-width="0.7"/>
<circle cx="560.2" cy="140.3" r="3.1" fill="#c2e2f6" stroke="#fff" stroke-width="0.7"/>
<circle cx="516.6" cy="127.7" r="3.1" fill="#c2e2f6" stroke="#fff" stroke-width="0.7"/>
<circle cx="526.6" cy="147.3" r="3.1" fill="#c2e2f6" stroke="#fff" stroke-width="0.7"/>
<circle cx="459.4" cy="132.8" r="3.1" fill="#c2e2f6" stroke="#fff" stroke-width="0.7"/>
<circle cx="511.9" cy="148.1" r="3.1" fill="#c2e2f6" stroke="#fff" stroke-width="0.7"/>
<circle cx="532.6" cy="125.0" r="3.1" fill="#c2e2f6" stroke="#fff" stroke-width="0.7"/>
<circle cx="467.5" cy="165.5" r="3.1" fill="#c2e2f6" stroke="#fff" stroke-width="0.7"/>
<circle cx="579.6" cy="125.2" r="3.1" fill="#c2e2f6" stroke="#fff" stroke-width="0.7"/>
<circle cx="566.9" cy="137.5" r="3.1" fill="#c2e2f6" stroke="#fff" stroke-width="0.7"/>
<circle cx="512.9" cy="117.1" r="3.1" fill="#c2e2f6" stroke="#fff" stroke-width="0.7"/>
<circle cx="541.5" cy="128.4" r="3.1" fill="#c2e2f6" stroke="#fff" stroke-width="0.7"/>
<circle cx="511.1" cy="123.8" r="3.1" fill="#c2e2f6" stroke="#fff" stroke-width="0.7"/>
<circle cx="438.7" cy="150.7" r="3.1" fill="#c2e2f6" stroke="#fff" stroke-width="0.7"/>
<circle cx="465.6" cy="153.0" r="3.1" fill="#c2e2f6" stroke="#fff" stroke-width="0.7"/>
<circle cx="501.1" cy="153.5" r="3.1" fill="#c2e2f6" stroke="#fff" stroke-width="0.7"/>
<circle cx="581.2" cy="92.0" r="3.1" fill="#c2e2f6" stroke="#fff" stroke-width="0.7"/>
<circle cx="568.8" cy="119.1" r="3.1" fill="#c2e2f6" stroke="#fff" stroke-width="0.7"/>
<circle cx="580.5" cy="119.2" r="3.1" fill="#c2e2f6" stroke="#fff" stroke-width="0.7"/>
<circle cx="460.7" cy="167.7" r="3.1" fill="#c2e2f6" stroke="#fff" stroke-width="0.7"/>
<circle cx="480.6" cy="124.9" r="3.1" fill="#c2e2f6" stroke="#fff" stroke-width="0.7"/>
<circle cx="501.0" cy="134.9" r="3.1" fill="#c2e2f6" stroke="#fff" stroke-width="0.7"/>
<circle cx="574.5" cy="98.9" r="3.1" fill="#c2e2f6" stroke="#fff" stroke-width="0.7"/>
<circle cx="469.6" cy="158.4" r="3.1" fill="#c2e2f6" stroke="#fff" stroke-width="0.7"/>
<circle cx="570.0" cy="131.9" r="3.1" fill="#c2e2f6" stroke="#fff" stroke-width="0.7"/>
<circle cx="569.1" cy="130.7" r="3.1" fill="#fdf5b6" stroke="#c4c0aa" stroke-width="0.6"/>
<circle cx="568.5" cy="120.2" r="3.1" fill="#fdf5b6" stroke="#c4c0aa" stroke-width="0.6"/>
<circle cx="598.8" cy="105.2" r="3.1" fill="#fdf5b6" stroke="#c4c0aa" stroke-width="0.6"/>
<circle cx="582.0" cy="134.4" r="3.1" fill="#fdf5b6" stroke="#c4c0aa" stroke-width="0.6"/>
<circle cx="555.2" cy="114.9" r="3.1" fill="#fdf5b6" stroke="#c4c0aa" stroke-width="0.6"/>
<circle cx="579.5" cy="94.5" r="3.1" fill="#fdf5b6" stroke="#c4c0aa" stroke-width="0.6"/>
<circle cx="575.5" cy="146.7" r="3.1" fill="#fdf5b6" stroke="#c4c0aa" stroke-width="0.6"/>
<circle cx="550.0" cy="136.5" r="3.1" fill="#fdf5b6" stroke="#c4c0aa" stroke-width="0.6"/>
<circle cx="565.7" cy="96.8" r="3.1" fill="#fdf5b6" stroke="#c4c0aa" stroke-width="0.6"/>
<circle cx="594.4" cy="128.6" r="3.1" fill="#fdf5b6" stroke="#c4c0aa" stroke-width="0.6"/>
<circle cx="555.5" cy="132.2" r="3.1" fill="#fdf5b6" stroke="#c4c0aa" stroke-width="0.6"/>
<circle cx="556.9" cy="101.3" r="3.1" fill="#fdf5b6" stroke="#c4c0aa" stroke-width="0.6"/>
<circle cx="552.3" cy="106.6" r="3.1" fill="#fdf5b6" stroke="#c4c0aa" stroke-width="0.6"/>
<circle cx="564.6" cy="143.9" r="3.1" fill="#fdf5b6" stroke="#c4c0aa" stroke-width="0.6"/>
<circle cx="547.7" cy="112.3" r="3.1" fill="#fdf5b6" stroke="#c4c0aa" stroke-width="0.6"/>
<circle cx="590.9" cy="134.6" r="3.1" fill="#fdf5b6" stroke="#c4c0aa" stroke-width="0.6"/>
<circle cx="572.3" cy="102.4" r="3.1" fill="#fdf5b6" stroke="#c4c0aa" stroke-width="0.6"/>
<circle cx="584.5" cy="141.4" r="3.1" fill="#fdf5b6" stroke="#c4c0aa" stroke-width="0.6"/>
<circle cx="577.3" cy="111.8" r="3.1" fill="#fdf5b6" stroke="#c4c0aa" stroke-width="0.6"/>
<circle cx="554.2" cy="123.1" r="3.1" fill="#fdf5b6" stroke="#c4c0aa" stroke-width="0.6"/>
<circle cx="588.1" cy="92.4" r="3.1" fill="#fdf5b6" stroke="#c4c0aa" stroke-width="0.6"/>
<circle cx="561.1" cy="121.3" r="3.1" fill="#fdf5b6" stroke="#c4c0aa" stroke-width="0.6"/>
<circle cx="592.3" cy="108.2" r="3.1" fill="#fdf5b6" stroke="#c4c0aa" stroke-width="0.6"/>
<circle cx="569.7" cy="112.0" r="3.1" fill="#fdf5b6" stroke="#c4c0aa" stroke-width="0.6"/>
<circle cx="582.8" cy="107.9" r="3.1" fill="#fdf5b6" stroke="#c4c0aa" stroke-width="0.6"/>
<circle cx="595.1" cy="113.8" r="3.1" fill="#fdf5b6" stroke="#c4c0aa" stroke-width="0.6"/>
<circle cx="576.8" cy="130.3" r="3.1" fill="#fdf5b6" stroke="#c4c0aa" stroke-width="0.6"/>
<circle cx="583.2" cy="101.3" r="3.1" fill="#fdf5b6" stroke="#c4c0aa" stroke-width="0.6"/>
<circle cx="545.1" cy="130.2" r="3.1" fill="#fdf5b6" stroke="#c4c0aa" stroke-width="0.6"/>
<circle cx="597.1" cy="120.7" r="3.1" fill="#fdf5b6" stroke="#c4c0aa" stroke-width="0.6"/>
<circle cx="576.7" cy="138.6" r="3.1" fill="#fdf5b6" stroke="#c4c0aa" stroke-width="0.6"/>
<circle cx="552.6" cy="149.3" r="3.1" fill="#fdf5b6" stroke="#c4c0aa" stroke-width="0.6"/>
<circle cx="546.2" cy="148.2" r="3.1" fill="#fdf5b6" stroke="#c4c0aa" stroke-width="0.6"/>
<circle cx="564.1" cy="106.2" r="3.1" fill="#fdf5b6" stroke="#c4c0aa" stroke-width="0.6"/>
<circle cx="558.0" cy="146.1" r="3.1" fill="#fdf5b6" stroke="#c4c0aa" stroke-width="0.6"/>
<circle cx="600.0" cy="128.6" r="3.1" fill="#fdf5b6" stroke="#c4c0aa" stroke-width="0.6"/>
<circle cx="583.8" cy="126.8" r="3.1" fill="#fdf5b6" stroke="#c4c0aa" stroke-width="0.6"/>
<circle cx="586.8" cy="112.9" r="3.1" fill="#fdf5b6" stroke="#c4c0aa" stroke-width="0.6"/>
<circle cx="545.5" cy="122.5" r="3.1" fill="#fdf5b6" stroke="#c4c0aa" stroke-width="0.6"/>
<circle cx="578.3" cy="119.2" r="3.1" fill="#fdf5b6" stroke="#c4c0aa" stroke-width="0.6"/>
<circle cx="593.1" cy="100.3" r="3.1" fill="#fdf5b6" stroke="#c4c0aa" stroke-width="0.6"/>
<circle cx="589.2" cy="121.8" r="3.1" fill="#fdf5b6" stroke="#c4c0aa" stroke-width="0.6"/>
<circle cx="561.0" cy="114.4" r="3.1" fill="#fdf5b6" stroke="#c4c0aa" stroke-width="0.6"/>
<circle cx="561.8" cy="127.6" r="3.1" fill="#fdf5b6" stroke="#c4c0aa" stroke-width="0.6"/>
<circle cx="560.8" cy="139.2" r="3.1" fill="#fdf5b6" stroke="#c4c0aa" stroke-width="0.6"/>
<circle cx="564.3" cy="149.9" r="3.1" fill="#fdf5b6" stroke="#c4c0aa" stroke-width="0.6"/>
<circle cx="586.2" cy="119.4" r="3.1" fill="#c2e2f6" stroke="#fff" stroke-width="0.7"/>
<circle cx="592.0" cy="94.3" r="3.1" fill="#c2e2f6" stroke="#fff" stroke-width="0.7"/>
<circle cx="565.8" cy="116.5" r="3.1" fill="#c2e2f6" stroke="#fff" stroke-width="0.7"/>
<circle cx="552.5" cy="101.6" r="3.1" fill="#c2e2f6" stroke="#fff" stroke-width="0.7"/>
<circle cx="561.7" cy="111.1" r="3.1" fill="#c2e2f6" stroke="#fff" stroke-width="0.7"/>
<circle cx="586.1" cy="91.9" r="3.1" fill="#c2e2f6" stroke="#fff" stroke-width="0.7"/>
<circle cx="569.3" cy="111.9" r="3.1" fill="#c2e2f6" stroke="#fff" stroke-width="0.7"/>
<circle cx="561.7" cy="97.2" r="3.1" fill="#c2e2f6" stroke="#fff" stroke-width="0.7"/>
<circle cx="578.2" cy="100.4" r="3.1" fill="#c2e2f6" stroke="#fff" stroke-width="0.7"/>
<circle cx="586.1" cy="112.8" r="3.1" fill="#c2e2f6" stroke="#fff" stroke-width="0.7"/>
<circle cx="573.2" cy="101.3" r="3.1" fill="#c2e2f6" stroke="#fff" stroke-width="0.7"/>
<circle cx="546.9" cy="133.7" r="3.1" fill="#c2e2f6" stroke="#fff" stroke-width="0.7"/>
<circle cx="583.5" cy="106.6" r="3.1" fill="#c2e2f6" stroke="#fff" stroke-width="0.7"/>
<circle cx="558.9" cy="131.1" r="3.1" fill="#c2e2f6" stroke="#fff" stroke-width="0.7"/>
<circle cx="588.1" cy="101.2" r="3.1" fill="#c2e2f6" stroke="#fff" stroke-width="0.7"/>
<circle cx="594.0" cy="109.6" r="3.1" fill="#c2e2f6" stroke="#fff" stroke-width="0.7"/>
<circle cx="563.0" cy="123.9" r="3.1" fill="#c2e2f6" stroke="#fff" stroke-width="0.7"/>
<circle cx="563.7" cy="134.7" r="3.1" fill="#c2e2f6" stroke="#fff" stroke-width="0.7"/>
<circle cx="573.7" cy="115.6" r="3.1" fill="#c2e2f6" stroke="#fff" stroke-width="0.7"/>
<circle cx="561.6" cy="103.8" r="3.1" fill="#c2e2f6" stroke="#fff" stroke-width="0.7"/>
<circle cx="548.4" cy="123.1" r="3.1" fill="#c2e2f6" stroke="#fff" stroke-width="0.7"/>
<circle cx="578.7" cy="127.6" r="3.1" fill="#c2e2f6" stroke="#fff" stroke-width="0.7"/>
<circle cx="552.1" cy="113.5" r="3.1" fill="#c2e2f6" stroke="#fff" stroke-width="0.7"/>
<circle cx="578.3" cy="89.4" r="3.1" fill="#c2e2f6" stroke="#fff" stroke-width="0.7"/>
<circle cx="545.3" cy="107.7" r="3.1" fill="#c2e2f6" stroke="#fff" stroke-width="0.7"/>
<circle cx="578.3" cy="29.9" r="3.1" fill="#c2e2f6" stroke="#fff" stroke-width="0.7"/>
<circle cx="577.7" cy="42.3" r="3.1" fill="#c2e2f6" stroke="#fff" stroke-width="0.7"/>
<circle cx="575.4" cy="64.0" r="3.1" fill="#c2e2f6" stroke="#fff" stroke-width="0.7"/>
<circle cx="577.3" cy="63.9" r="3.1" fill="#c2e2f6" stroke="#fff" stroke-width="0.7"/>
<circle cx="574.0" cy="72.0" r="3.1" fill="#c2e2f6" stroke="#fff" stroke-width="0.7"/>
<circle cx="580.0" cy="76.0" r="3.1" fill="#c2e2f6" stroke="#fff" stroke-width="0.7"/>
<circle cx="576.0" cy="82.0" r="3.1" fill="#c2e2f6" stroke="#fff" stroke-width="0.7"/>
<circle cx="583.0" cy="86.0" r="3.1" fill="#c2e2f6" stroke="#fff" stroke-width="0.7"/>
<circle cx="570.0" cy="90.0" r="3.1" fill="#c2e2f6" stroke="#fff" stroke-width="0.7"/>
<circle cx="578.0" cy="94.0" r="3.1" fill="#c2e2f6" stroke="#fff" stroke-width="0.7"/>
<circle cx="585.0" cy="95.0" r="3.1" fill="#c2e2f6" stroke="#fff" stroke-width="0.7"/>
<circle cx="572.0" cy="100.0" r="3.1" fill="#c2e2f6" stroke="#fff" stroke-width="0.7"/>
<circle cx="507.1" cy="62.0" r="3.1" fill="#c2e2f6" stroke="#fff" stroke-width="0.7"/>
<circle cx="511.0" cy="77.0" r="3.1" fill="#c2e2f6" stroke="#fff" stroke-width="0.7"/>
<circle cx="510.0" cy="84.0" r="3.1" fill="#c2e2f6" stroke="#fff" stroke-width="0.7"/>
<circle cx="510.0" cy="90.0" r="3.1" fill="#c2e2f6" stroke="#fff" stroke-width="0.7"/>
<circle cx="511.0" cy="96.0" r="3.1" fill="#c2e2f6" stroke="#fff" stroke-width="0.7"/>
<circle cx="510.0" cy="103.0" r="3.1" fill="#c2e2f6" stroke="#fff" stroke-width="0.7"/>
<circle cx="497.4" cy="93.7" r="3.1" fill="#c2e2f6" stroke="#fff" stroke-width="0.7"/>
<circle cx="508.6" cy="98.6" r="3.1" fill="#c2e2f6" stroke="#fff" stroke-width="0.7"/>
<circle cx="528.0" cy="170.3" r="3.1" fill="#c2e2f6" stroke="#fff" stroke-width="0.7"/>
<circle cx="531.2" cy="166.8" r="3.1" fill="#c2e2f6" stroke="#fff" stroke-width="0.7"/>
<circle cx="537.6" cy="166.8" r="3.1" fill="#c2e2f6" stroke="#fff" stroke-width="0.7"/>
<circle cx="532.8" cy="176.2" r="3.1" fill="#c2e2f6" stroke="#fff" stroke-width="0.7"/>
<circle cx="506.8" cy="176.2" r="3.1" fill="#c2e2f6" stroke="#fff" stroke-width="0.7"/>
<circle cx="510.3" cy="183.4" r="3.1" fill="#c2e2f6" stroke="#fff" stroke-width="0.7"/>
<circle cx="483.0" cy="184.0" r="3.1" fill="#c2e2f6" stroke="#fff" stroke-width="0.7"/>
<circle cx="434.4" cy="149.7" r="3.1" fill="#c2e2f6" stroke="#fff" stroke-width="0.7"/>
<circle cx="431.0" cy="148.9" r="3.1" fill="#c2e2f6" stroke="#fff" stroke-width="0.7"/>
<circle cx="443.0" cy="136.0" r="3.1" fill="#c2e2f6" stroke="#fff" stroke-width="0.7"/>
<circle cx="443.9" cy="140.3" r="3.1" fill="#c2e2f6" stroke="#fff" stroke-width="0.7"/>
<circle cx="438.7" cy="142.0" r="3.1" fill="#c2e2f6" stroke="#fff" stroke-width="0.7"/>
<path d="M582.4 8.0L590.0 15.6M590.0 8.0L582.4 15.6" stroke="#231f20" stroke-width="1.35"/>
<path d="M567.2 49.2L574.8 56.8M574.8 49.2L567.2 56.8" stroke="#231f20" stroke-width="1.35"/>
<path d="M587.1 56.1L594.7 63.7M594.7 56.1L587.1 63.7" stroke="#231f20" stroke-width="1.35"/>
<path d="M540.5 61.9L548.1 69.5M548.1 61.9L540.5 69.5" stroke="#231f20" stroke-width="1.35"/>
<path d="M539.1 69.6L546.7 77.2M546.7 69.6L539.1 77.2" stroke="#231f20" stroke-width="1.35"/>
<path d="M585.3 68.8L592.9 76.4M592.9 68.8L585.3 76.4" stroke="#231f20" stroke-width="1.35"/>
<path d="M605.9 69.5L613.5 77.1M613.5 69.5L605.9 77.1" stroke="#231f20" stroke-width="1.35"/>
<path d="M577.5 75.6L585.1 83.2M585.1 75.6L577.5 83.2" stroke="#231f20" stroke-width="1.35"/>
<path d="M604.9 82.5L612.5 90.1M612.5 82.5L604.9 90.1" stroke="#231f20" stroke-width="1.35"/>
<path d="M563.1 86.9L570.7 94.5M570.7 86.9L563.1 94.5" stroke="#231f20" stroke-width="1.35"/>
<path d="M594.6 89.3L602.2 96.9M602.2 89.3L594.6 96.9" stroke="#231f20" stroke-width="1.35"/>
<path d="M558.9 94.5L566.5 102.1M566.5 94.5L558.9 102.1" stroke="#231f20" stroke-width="1.35"/>
<path d="M543.3 94.8L550.9 102.4M550.9 94.8L543.3 102.4" stroke="#231f20" stroke-width="1.35"/>
<path d="M544.8 99.1L552.4 106.7M552.4 99.1L544.8 106.7" stroke="#231f20" stroke-width="1.35"/>
<path d="M533.3 97.1L540.9 104.7M540.9 97.1L533.3 104.7" stroke="#231f20" stroke-width="1.35"/>
<path d="M540.5 104.8L548.1 112.4M548.1 104.8L540.5 112.4" stroke="#231f20" stroke-width="1.35"/>
<path d="M520.5 102.8L528.1 110.4M528.1 102.8L520.5 110.4" stroke="#231f20" stroke-width="1.35"/>
<path d="M527.6 109.1L535.2 116.7M535.2 109.1L527.6 116.7" stroke="#231f20" stroke-width="1.35"/>
<path d="M524.8 114.8L532.4 122.4M532.4 114.8L524.8 122.4" stroke="#231f20" stroke-width="1.35"/>
<path d="M516.2 121.9L523.8 129.5M523.8 121.9L516.2 129.5" stroke="#231f20" stroke-width="1.35"/>
<path d="M575.1 106.5L582.7 114.1M582.7 106.5L575.1 114.1" stroke="#231f20" stroke-width="1.35"/>
<path d="M595.6 107.5L603.2 115.1M603.2 107.5L595.6 115.1" stroke="#231f20" stroke-width="1.35"/>
<path d="M597.0 108.9L604.6 116.5M604.6 108.9L597.0 116.5" stroke="#231f20" stroke-width="1.35"/>
<path d="M596.4 106.8L604.0 114.4M604.0 106.8L596.4 114.4" stroke="#231f20" stroke-width="1.35"/>
<path d="M597.7 110.0L605.3 117.6M605.3 110.0L597.7 117.6" stroke="#231f20" stroke-width="1.35"/>
<path d="M604.2 130.5L611.8 138.1M611.8 130.5L604.2 138.1" stroke="#231f20" stroke-width="1.35"/>
<path d="M602.5 139.0L610.1 146.6M610.1 139.0L602.5 146.6" stroke="#231f20" stroke-width="1.35"/>
<path d="M534.8 136.2L542.4 143.8M542.4 136.2L534.8 143.8" stroke="#231f20" stroke-width="1.35"/>
<path d="M536.2 146.8L543.8 154.4M543.8 146.8L536.2 154.4" stroke="#231f20" stroke-width="1.35"/>
<path d="M451.0 130.6L456.2 140.6L445.8 140.6Z" fill="#1ba1e2" stroke="#231f20" stroke-width="1.2" stroke-linejoin="miter"/>
<path d="M436.1 152.0L441.4 162.0L430.9 162.0Z" fill="#1ba1e2" stroke="#231f20" stroke-width="1.2" stroke-linejoin="miter"/>
<path d="M442.1 149.5L447.4 159.5L436.9 159.5Z" fill="#1ba1e2" stroke="#231f20" stroke-width="1.2" stroke-linejoin="miter"/>
<path d="M449.0 145.2L454.2 155.2L443.8 155.2Z" fill="#1ba1e2" stroke="#231f20" stroke-width="1.2" stroke-linejoin="miter"/>
<path d="M432.7 157.0L437.9 167.0L427.4 167.0Z" fill="#1ba1e2" stroke="#231f20" stroke-width="1.2" stroke-linejoin="miter"/>
<path d="M440.0 160.0L445.2 170.0L434.8 170.0Z" fill="#1ba1e2" stroke="#231f20" stroke-width="1.2" stroke-linejoin="miter"/>
<path d="M445.0 165.0L450.2 175.0L439.8 175.0Z" fill="#1ba1e2" stroke="#231f20" stroke-width="1.2" stroke-linejoin="miter"/>
<path d="M440.4 170.6L445.6 180.6L435.1 180.6Z" fill="#1ba1e2" stroke="#231f20" stroke-width="1.2" stroke-linejoin="miter"/>
<path d="M436.0 165.0L441.2 175.0L430.8 175.0Z" fill="#1ba1e2" stroke="#231f20" stroke-width="1.2" stroke-linejoin="miter"/>
<rect x="455.3" y="147.5" width="9.6" height="9.6" fill="#fff200" stroke="#231f20" stroke-width="1.2"/>
<rect x="460.5" y="148.3" width="9.6" height="9.6" fill="#fff200" stroke="#231f20" stroke-width="1.2"/>
<rect x="466.5" y="147.5" width="9.6" height="9.6" fill="#fff200" stroke="#231f20" stroke-width="1.2"/>
<rect x="473.2" y="147.2" width="9.6" height="9.6" fill="#fff200" stroke="#231f20" stroke-width="1.2"/>
<rect x="477.2" y="145.2" width="9.6" height="9.6" fill="#fff200" stroke="#231f20" stroke-width="1.2"/>
<rect x="482.2" y="144.2" width="9.6" height="9.6" fill="#fff200" stroke="#231f20" stroke-width="1.2"/>
<rect x="475.2" y="149.2" width="9.6" height="9.6" fill="#fff200" stroke="#231f20" stroke-width="1.2"/>
<rect x="479.2" y="150.2" width="9.6" height="9.6" fill="#fff200" stroke="#231f20" stroke-width="1.2"/>
<rect x="498.4" y="148.4" width="10.4" height="10.4" fill="#fff200" stroke="#e5202e" stroke-width="1.6"/>
<path d="M499.4 149.4L507.8 157.8M507.8 149.4L499.4 157.8" stroke="#e5202e" stroke-width="1.5"/>
<rect x="500.6" y="152.0" width="10.4" height="10.4" fill="#fff200" stroke="#e5202e" stroke-width="1.6"/>
<path d="M501.6 153.0L510.0 161.4M510.0 153.0L501.6 161.4" stroke="#e5202e" stroke-width="1.5"/>
<rect x="499.4" y="150.0" width="10.4" height="10.4" fill="#fff200" stroke="#e5202e" stroke-width="1.6"/>
<path d="M500.4 151.0L508.8 159.4M508.8 151.0L500.4 159.4" stroke="#e5202e" stroke-width="1.5"/>
<rect x="500.2" y="153.3" width="10.0" height="10.0" fill="#fff200" stroke="#e5202e" stroke-width="1.6"/>
<path d="M501.2 154.3L509.2 162.3M509.2 154.3L501.2 162.3" stroke="#e5202e" stroke-width="1.5"/>
<rect x="499.8" y="149.0" width="10.0" height="10.0" fill="#fff200" stroke="#e5202e" stroke-width="1.6"/>
<path d="M500.8 150.0L508.8 158.0M508.8 150.0L500.8 158.0" stroke="#e5202e" stroke-width="1.5"/>
<path d="M456.7 147.8L461.6 157.2L451.8 157.2Z" fill="#f28b1e" stroke="#231f20" stroke-width="1.2" stroke-linejoin="miter"/>
<path d="M485.7 156.7L490.6 166.2L480.8 166.2Z" fill="#f28b1e" stroke="#231f20" stroke-width="1.2" stroke-linejoin="miter"/>
<path d="M490.0 160.9L494.9 170.4L485.1 170.4Z" fill="#f28b1e" stroke="#231f20" stroke-width="1.2" stroke-linejoin="miter"/>
<path d="M468.7 143.1L473.6 148.0L468.7 152.9L463.8 148.0Z" fill="#00a651" stroke="#231f20" stroke-width="1.2"/>
<path d="M446.4 150.8L451.3 155.7L446.4 160.6L441.5 155.7Z" fill="#00a651" stroke="#231f20" stroke-width="1.2"/>
<path d="M467.9 164.5L472.8 169.4L467.9 174.3L463.0 169.4Z" fill="#00a651" stroke="#231f20" stroke-width="1.2"/>
<path d="M447.3 173.1L452.2 178.0L447.3 182.9L442.4 178.0Z" fill="#00a651" stroke="#231f20" stroke-width="1.2"/>
<path d="M452.4 176.5L457.3 181.4L452.4 186.3L447.5 181.4Z" fill="#00a651" stroke="#231f20" stroke-width="1.2"/>
<path d="M453.3 156.8L458.2 161.7L453.3 166.6L448.4 161.7Z" fill="#e5202e" stroke="#231f20" stroke-width="1.2"/>
<path d="M453.3 164.5L458.2 169.4L453.3 174.3L448.4 169.4Z" fill="#e5202e" stroke="#231f20" stroke-width="1.2"/>
<path d="M460.1 164.5L465.0 169.4L460.1 174.3L455.2 169.4Z" fill="#e5202e" stroke="#231f20" stroke-width="1.2"/>
<path d="M443.9 167.1L448.8 172.0L443.9 176.9L439.0 172.0Z" fill="#e5202e" stroke="#231f20" stroke-width="1.2"/>
<path d="M473.9 164.5L478.8 169.4L473.9 174.3L469.0 169.4Z" fill="#e5202e" stroke="#231f20" stroke-width="1.2"/>
<path d="M457.0 160.1L461.9 165.0L457.0 169.9L452.1 165.0Z" fill="#e5202e" stroke="#231f20" stroke-width="1.2"/>
<path d="M447.3 156.8L452.2 161.7L447.3 166.6L442.4 161.7Z" fill="#a6449a" stroke="#231f20" stroke-width="1.2"/>
<path d="M447.3 162.8L452.2 167.7L447.3 172.6L442.4 167.7Z" fill="#a6449a" stroke="#231f20" stroke-width="1.2"/>
<path d="M431.5 171.1L436.4 176.0L431.5 180.9L426.6 176.0Z" fill="#a6449a" stroke="#231f20" stroke-width="1.2"/>
<circle cx="458.0" cy="137.5" r="4.85" fill="#f28b1e" stroke="#231f20" stroke-width="1.3"/>
<circle cx="466.0" cy="136.0" r="4.85" fill="#f28b1e" stroke="#231f20" stroke-width="1.3"/>
<circle cx="471.5" cy="133.5" r="4.85" fill="#f28b1e" stroke="#231f20" stroke-width="1.3"/>
<circle cx="461.5" cy="142.0" r="4.85" fill="#f28b1e" stroke="#231f20" stroke-width="1.3"/>
<text transform="translate(43.02,266.30) scale(1.1426,1)" font-size="15.4" font-weight="bold" fill="#000" stroke="#000" stroke-width="0.1">Forearc basalt</text>
<path d="M46.4 276.1L51.5 281.2L46.4 286.3L41.3 281.2Z" fill="#00a651" stroke="#231f20" stroke-width="1.2"/>
<text transform="translate(52.57,286.20) scale(1.1217,1)" font-size="15.4" font-weight="normal" fill="#231f20" stroke="#231f20" stroke-width="0.1">U1440B U-FAB</text>
<path d="M178.9 275.5L184.0 280.6L178.9 285.7L173.8 280.6Z" fill="#a6449a" stroke="#231f20" stroke-width="1.2"/>
<text transform="translate(185.17,286.20) scale(1.1174,1)" font-size="15.4" font-weight="normal" fill="#231f20" stroke="#231f20" stroke-width="0.1">U1441A L-FAB</text>
<path d="M46.1 294.4L51.2 299.5L46.1 304.6L41.0 299.5Z" fill="#e5202e" stroke="#231f20" stroke-width="1.2"/>
<text transform="translate(52.67,304.20) scale(1.1204,1)" font-size="15.4" font-weight="normal" fill="#231f20" stroke="#231f20" stroke-width="0.1">U1440B L-FAB</text>
<circle cx="179.0" cy="297.8" r="5.2" fill="#f28b1e" stroke="#231f20" stroke-width="1.3"/>
<text transform="translate(186.60,302.10) scale(1.1232,1)" font-size="15.4" font-weight="normal" fill="#4a4343" stroke="#4a4343" stroke-width="0.1">Izu Trench Wall</text>
<text transform="translate(42.08,324.00) scale(1.1245,1)" font-size="15.4" font-weight="bold" fill="#3a3232" stroke="#3a3232" stroke-width="0.1">West Philippine Basin MORB</text>
<rect x="44.1" y="334.5" width="10.0" height="10.0" fill="#fff200" stroke="#231f20" stroke-width="1.2"/>
<text transform="translate(56.50,344.80) scale(1.1438,1)" font-size="15.4" font-weight="normal" fill="#231f20" stroke="#231f20" stroke-width="0.1">447</text>
<rect x="92.8" y="335.2" width="10.8" height="10.8" fill="#fff200" stroke="#e5202e" stroke-width="1.6"/>
<path d="M93.8 336.2L102.6 345.0M102.6 336.2L93.8 345.0" stroke="#e5202e" stroke-width="1.5"/>
<text transform="translate(104.96,346.00) scale(1.0800,1)" font-size="15.4" font-weight="normal" fill="#231f20" stroke="#231f20" stroke-width="0.1">291</text>
<path d="M145.7 335.9L151.2 346.4L140.2 346.4Z" fill="#f28b1e" stroke="#231f20" stroke-width="1.2" stroke-linejoin="miter"/>
<text transform="translate(153.09,346.00) scale(1.1134,1)" font-size="15.4" font-weight="normal" fill="#231f20" stroke="#231f20" stroke-width="0.1">1201</text>
<path d="M426.4 261.2L431.8 271.8L421.0 271.8Z" fill="#1ba1e2" stroke="#231f20" stroke-width="1.2" stroke-linejoin="miter"/>
<text transform="translate(435.25,270.10) scale(1.1380,1)" font-size="15.4" font-weight="normal" fill="#231f20" stroke="#231f20" stroke-width="0.1">U1438 Basalts</text>
<path d="M422.6 282.6L430.2 290.2M430.2 282.6L422.6 290.2" stroke="#231f20" stroke-width="1.3"/>
<text transform="translate(436.52,291.10) scale(1.1198,1)" font-size="15.4" font-weight="normal" fill="#231f20" stroke="#231f20" stroke-width="0.1">WPB OIB (Oki Daito Plume)</text>
<rect x="421.2" y="299.9" width="10.8" height="10.8" fill="#7d6e69" stroke="#231f20" stroke-width="1.5"/>
<path d="M422.4 301.1L430.8 309.5M430.8 301.1L422.4 309.5M426.6 299.9L426.6 310.7" stroke="#231f20" stroke-width="1.3"/>
<text transform="translate(436.38,310.30) scale(1.1430,1)" font-size="15.4" font-weight="normal" fill="#231f20" stroke="#231f20" stroke-width="0.1">Izu Forearc Mesozoic Basalts</text>
<circle cx="426.5" cy="325.0" r="4.6" fill="#c2e2f6" stroke="#fff" stroke-width="0.7"/>
<text transform="translate(435.97,329.00) scale(1.1327,1)" font-size="15.4" font-weight="normal" fill="#231f20" stroke="#231f20" stroke-width="0.1">Pacific MORB</text>
<circle cx="426.5" cy="344.4" r="4.9" fill="#fdf5b6" stroke="#c4c0aa" stroke-width="0.6"/>
<text transform="translate(436.39,348.40) scale(1.1330,1)" font-size="15.4" font-weight="normal" fill="#231f20" stroke="#231f20" stroke-width="0.1">Indian MORB</text>
</svg></body></html>
